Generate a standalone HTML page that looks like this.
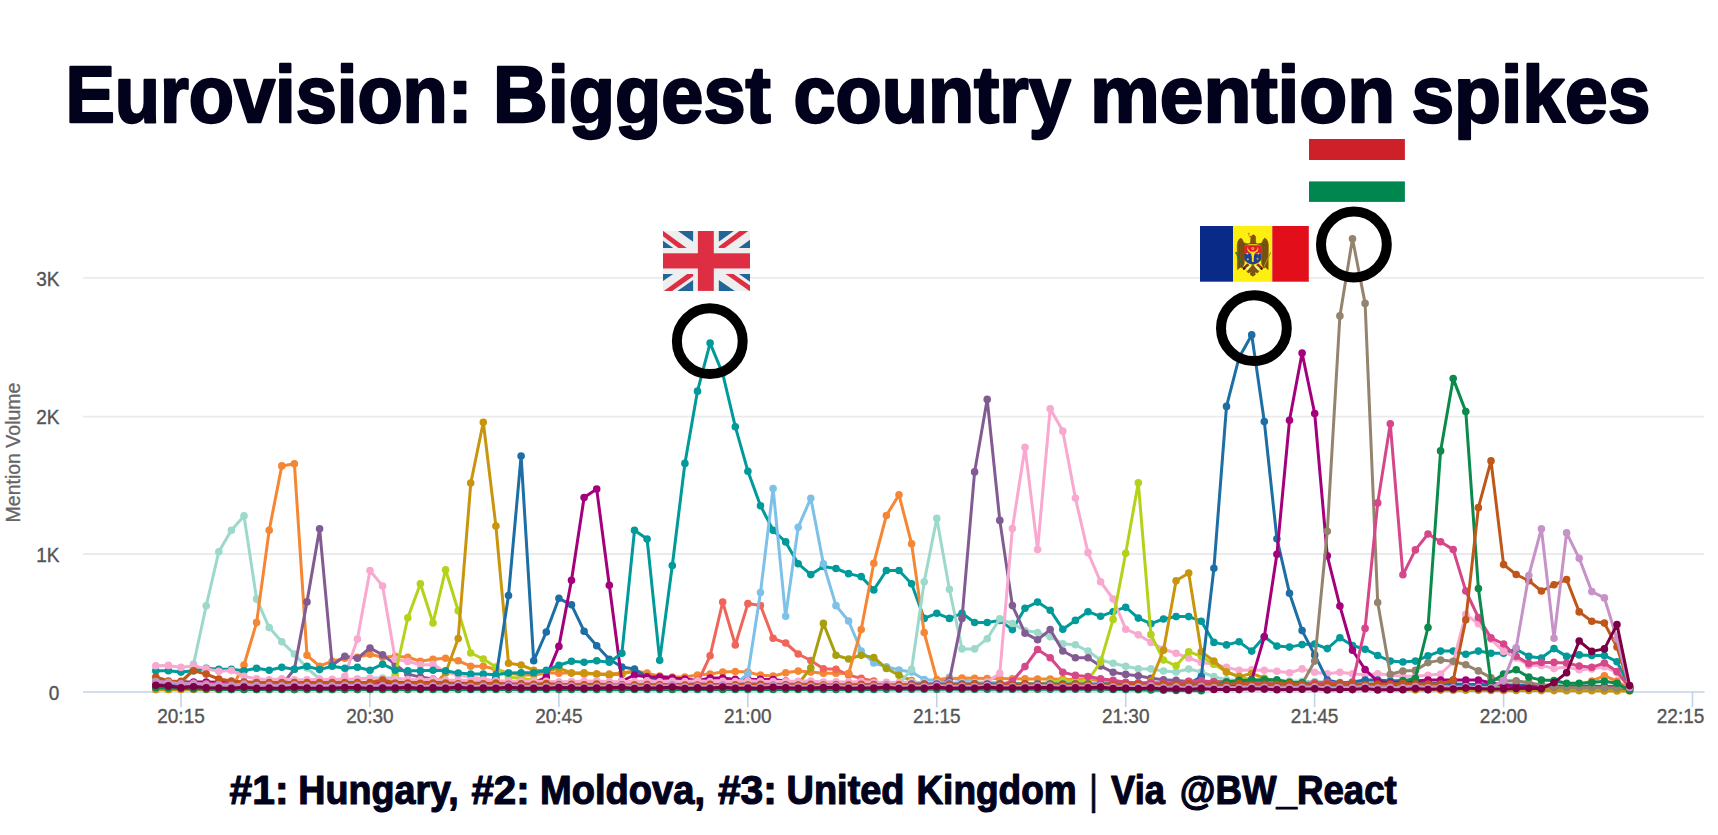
<!DOCTYPE html>
<html>
<head>
<meta charset="utf-8">
<title>Eurovision: Biggest country mention spikes</title>
<style>
html,body{margin:0;padding:0;background:#fff;}
body{width:1718px;height:835px;overflow:hidden;font-family:"Liberation Sans",sans-serif;}
svg{display:block;}
text{font-family:"Liberation Sans",sans-serif;}
</style>
</head>
<body>
<svg width="1718" height="835" viewBox="0 0 1718 835">
<rect x="0" y="0" width="1718" height="835" fill="#ffffff"/>

<!-- title -->
<text transform="translate(65.39,121.9) scale(0.9275,1)" font-size="79.8" font-weight="700" fill="#02021c" stroke="#02021c" stroke-width="2.4" stroke-linejoin="round">Eurovision:</text>
<text transform="translate(493.10,121.9) scale(0.9491,1)" font-size="79.8" font-weight="700" fill="#02021c" stroke="#02021c" stroke-width="2.4" stroke-linejoin="round">Biggest</text>
<text transform="translate(793.51,121.9) scale(0.9473,1)" font-size="79.8" font-weight="700" fill="#02021c" stroke="#02021c" stroke-width="2.4" stroke-linejoin="round">country</text>
<text transform="translate(1090.07,121.9) scale(0.9832,1)" font-size="79.8" font-weight="700" fill="#02021c" stroke="#02021c" stroke-width="2.4" stroke-linejoin="round">mention</text>
<text transform="translate(1411.38,121.9) scale(0.9620,1)" font-size="79.8" font-weight="700" fill="#02021c" stroke="#02021c" stroke-width="2.4" stroke-linejoin="round">spikes</text>

<!-- gridlines -->
<g stroke="#ebebeb" stroke-width="1.8">
<line x1="83" y1="277.9" x2="1704" y2="277.9"/>
<line x1="83" y1="416.7" x2="1704" y2="416.7"/>
<line x1="83" y1="554.0" x2="1704" y2="554.0"/>
</g>
<!-- axis -->
<g stroke="#c3d3e6" stroke-width="1.6">
<line x1="83" y1="692" x2="1704.5" y2="692"/>
<line x1="181.0" y1="692" x2="181.0" y2="707.2"/>
<line x1="369.9" y1="692" x2="369.9" y2="707.2"/>
<line x1="558.9" y1="692" x2="558.9" y2="707.2"/>
<line x1="747.8" y1="692" x2="747.8" y2="707.2"/>
<line x1="936.8" y1="692" x2="936.8" y2="707.2"/>
<line x1="1125.7" y1="692" x2="1125.7" y2="707.2"/>
<line x1="1314.6" y1="692" x2="1314.6" y2="707.2"/>
<line x1="1503.6" y1="692" x2="1503.6" y2="707.2"/>
<line x1="1692.5" y1="692" x2="1692.5" y2="707.2"/>
</g>

<!-- y labels -->
<g font-size="19" fill="#555555" stroke="#555555" stroke-width="0.35" text-anchor="end">
<text transform="translate(59.4,285.8) scale(1,1.09)">3K</text>
<text transform="translate(59.4,424.3) scale(1,1.09)">2K</text>
<text transform="translate(59.4,562.0) scale(1,1.09)">1K</text>
<text transform="translate(59.4,700.1) scale(1,1.09)">0</text>
</g>
<text transform="translate(19.5,452.5) rotate(-90)" font-size="19.5" fill="#666666" stroke="#666666" stroke-width="0.3" text-anchor="middle">Mention Volume</text>

<!-- x labels -->
<g font-size="19" fill="#555555" stroke="#555555" stroke-width="0.35" text-anchor="middle">
<text transform="translate(181.0,723.1) scale(1,1.09)">20:15</text>
<text transform="translate(369.9,723.1) scale(1,1.09)">20:30</text>
<text transform="translate(558.9,723.1) scale(1,1.09)">20:45</text>
<text transform="translate(747.8,723.1) scale(1,1.09)">21:00</text>
<text transform="translate(936.8,723.1) scale(1,1.09)">21:15</text>
<text transform="translate(1125.7,723.1) scale(1,1.09)">21:30</text>
<text transform="translate(1314.6,723.1) scale(1,1.09)">21:45</text>
<text transform="translate(1503.6,723.1) scale(1,1.09)">22:00</text>
<text transform="translate(1704.3,723.1) scale(1,1.09)" text-anchor="end">22:15</text>
</g>

<!-- series -->
<g fill="#9dd9cb" stroke="#9dd9cb">
<polyline points="155.8,688.0 168.4,688.0 181.0,688.0 193.6,664.0 206.2,605.8 218.8,551.7 231.4,530.2 244.0,515.9 256.6,599.1 269.2,627.6 281.8,641.8 294.4,654.0 307.0,668.0 319.6,679.0 332.2,682.0 344.8,680.7 357.4,679.3 370.0,678.0 382.6,678.0 395.2,678.0 407.8,679.7 420.4,681.3 433.0,683.0 445.6,683.0 458.2,683.1 470.8,683.1 483.3,683.1 495.9,683.1 508.5,683.2 521.1,683.2 533.7,683.2" fill="none" stroke-width="3" stroke-linejoin="round" stroke-linecap="round"/>
<path d="M152.0,688.0a3.8,3.8 0 1,0 7.6,0a3.8,3.8 0 1,0 -7.6,0zM164.6,688.0a3.8,3.8 0 1,0 7.6,0a3.8,3.8 0 1,0 -7.6,0zM177.2,688.0a3.8,3.8 0 1,0 7.6,0a3.8,3.8 0 1,0 -7.6,0zM189.8,664.0a3.8,3.8 0 1,0 7.6,0a3.8,3.8 0 1,0 -7.6,0zM202.4,605.8a3.8,3.8 0 1,0 7.6,0a3.8,3.8 0 1,0 -7.6,0zM215.0,551.7a3.8,3.8 0 1,0 7.6,0a3.8,3.8 0 1,0 -7.6,0zM227.6,530.2a3.8,3.8 0 1,0 7.6,0a3.8,3.8 0 1,0 -7.6,0zM240.2,515.9a3.8,3.8 0 1,0 7.6,0a3.8,3.8 0 1,0 -7.6,0zM252.8,599.1a3.8,3.8 0 1,0 7.6,0a3.8,3.8 0 1,0 -7.6,0zM265.4,627.6a3.8,3.8 0 1,0 7.6,0a3.8,3.8 0 1,0 -7.6,0zM278.0,641.8a3.8,3.8 0 1,0 7.6,0a3.8,3.8 0 1,0 -7.6,0zM290.6,654.0a3.8,3.8 0 1,0 7.6,0a3.8,3.8 0 1,0 -7.6,0zM303.2,668.0a3.8,3.8 0 1,0 7.6,0a3.8,3.8 0 1,0 -7.6,0zM315.8,679.0a3.8,3.8 0 1,0 7.6,0a3.8,3.8 0 1,0 -7.6,0zM328.4,682.0a3.8,3.8 0 1,0 7.6,0a3.8,3.8 0 1,0 -7.6,0zM341.0,680.7a3.8,3.8 0 1,0 7.6,0a3.8,3.8 0 1,0 -7.6,0zM353.6,679.3a3.8,3.8 0 1,0 7.6,0a3.8,3.8 0 1,0 -7.6,0zM366.2,678.0a3.8,3.8 0 1,0 7.6,0a3.8,3.8 0 1,0 -7.6,0zM378.8,678.0a3.8,3.8 0 1,0 7.6,0a3.8,3.8 0 1,0 -7.6,0zM391.4,678.0a3.8,3.8 0 1,0 7.6,0a3.8,3.8 0 1,0 -7.6,0zM404.0,679.7a3.8,3.8 0 1,0 7.6,0a3.8,3.8 0 1,0 -7.6,0zM416.6,681.3a3.8,3.8 0 1,0 7.6,0a3.8,3.8 0 1,0 -7.6,0zM429.2,683.0a3.8,3.8 0 1,0 7.6,0a3.8,3.8 0 1,0 -7.6,0zM441.8,683.0a3.8,3.8 0 1,0 7.6,0a3.8,3.8 0 1,0 -7.6,0zM454.4,683.1a3.8,3.8 0 1,0 7.6,0a3.8,3.8 0 1,0 -7.6,0zM466.9,683.1a3.8,3.8 0 1,0 7.6,0a3.8,3.8 0 1,0 -7.6,0zM479.5,683.1a3.8,3.8 0 1,0 7.6,0a3.8,3.8 0 1,0 -7.6,0zM492.1,683.1a3.8,3.8 0 1,0 7.6,0a3.8,3.8 0 1,0 -7.6,0zM504.7,683.2a3.8,3.8 0 1,0 7.6,0a3.8,3.8 0 1,0 -7.6,0zM517.3,683.2a3.8,3.8 0 1,0 7.6,0a3.8,3.8 0 1,0 -7.6,0zM529.9,683.2a3.8,3.8 0 1,0 7.6,0a3.8,3.8 0 1,0 -7.6,0z" stroke="none"/>
</g>
<g fill="#f58634" stroke="#f58634">
<polyline points="155.8,689.5 168.4,689.4 181.0,689.3 193.6,689.2 206.2,689.2 218.8,689.1 231.4,689.0 244.0,665.0 256.6,622.6 269.2,530.2 281.8,465.9 294.4,463.8 307.0,655.3 319.6,666.2 332.2,661.2 344.8,658.3 357.4,657.3 370.0,654.3 382.6,657.3 395.2,656.3 407.8,657.3 420.4,661.2 433.0,659.3 445.6,658.3 458.2,660.8 470.8,666.2 483.3,666.2 495.9,669.2 508.5,673.1 521.1,675.1 533.7,675.1 546.3,673.1 558.9,673.1 571.5,673.1 584.1,674.1 596.7,674.1 609.3,674.1 621.9,673.1 634.5,671.1 647.1,673.1 659.7,676.1 672.3,677.1 684.9,677.1 697.5,675.1 710.1,674.1 722.7,672.1 735.3,671.5 747.9,672.1 760.5,675.1 773.1,676.1 785.6,672.7 798.2,671.1 810.8,672.1 823.4,673.3 836.0,673.3 848.6,673.6" fill="none" stroke-width="3" stroke-linejoin="round" stroke-linecap="round"/>
<path d="M152.0,689.5a3.8,3.8 0 1,0 7.6,0a3.8,3.8 0 1,0 -7.6,0zM164.6,689.4a3.8,3.8 0 1,0 7.6,0a3.8,3.8 0 1,0 -7.6,0zM177.2,689.3a3.8,3.8 0 1,0 7.6,0a3.8,3.8 0 1,0 -7.6,0zM189.8,689.2a3.8,3.8 0 1,0 7.6,0a3.8,3.8 0 1,0 -7.6,0zM202.4,689.2a3.8,3.8 0 1,0 7.6,0a3.8,3.8 0 1,0 -7.6,0zM215.0,689.1a3.8,3.8 0 1,0 7.6,0a3.8,3.8 0 1,0 -7.6,0zM227.6,689.0a3.8,3.8 0 1,0 7.6,0a3.8,3.8 0 1,0 -7.6,0zM240.2,665.0a3.8,3.8 0 1,0 7.6,0a3.8,3.8 0 1,0 -7.6,0zM252.8,622.6a3.8,3.8 0 1,0 7.6,0a3.8,3.8 0 1,0 -7.6,0zM265.4,530.2a3.8,3.8 0 1,0 7.6,0a3.8,3.8 0 1,0 -7.6,0zM278.0,465.9a3.8,3.8 0 1,0 7.6,0a3.8,3.8 0 1,0 -7.6,0zM290.6,463.8a3.8,3.8 0 1,0 7.6,0a3.8,3.8 0 1,0 -7.6,0zM303.2,655.3a3.8,3.8 0 1,0 7.6,0a3.8,3.8 0 1,0 -7.6,0zM315.8,666.2a3.8,3.8 0 1,0 7.6,0a3.8,3.8 0 1,0 -7.6,0zM328.4,661.2a3.8,3.8 0 1,0 7.6,0a3.8,3.8 0 1,0 -7.6,0zM341.0,658.3a3.8,3.8 0 1,0 7.6,0a3.8,3.8 0 1,0 -7.6,0zM353.6,657.3a3.8,3.8 0 1,0 7.6,0a3.8,3.8 0 1,0 -7.6,0zM366.2,654.3a3.8,3.8 0 1,0 7.6,0a3.8,3.8 0 1,0 -7.6,0zM378.8,657.3a3.8,3.8 0 1,0 7.6,0a3.8,3.8 0 1,0 -7.6,0zM391.4,656.3a3.8,3.8 0 1,0 7.6,0a3.8,3.8 0 1,0 -7.6,0zM404.0,657.3a3.8,3.8 0 1,0 7.6,0a3.8,3.8 0 1,0 -7.6,0zM416.6,661.2a3.8,3.8 0 1,0 7.6,0a3.8,3.8 0 1,0 -7.6,0zM429.2,659.3a3.8,3.8 0 1,0 7.6,0a3.8,3.8 0 1,0 -7.6,0zM441.8,658.3a3.8,3.8 0 1,0 7.6,0a3.8,3.8 0 1,0 -7.6,0zM454.4,660.8a3.8,3.8 0 1,0 7.6,0a3.8,3.8 0 1,0 -7.6,0zM466.9,666.2a3.8,3.8 0 1,0 7.6,0a3.8,3.8 0 1,0 -7.6,0zM479.5,666.2a3.8,3.8 0 1,0 7.6,0a3.8,3.8 0 1,0 -7.6,0zM492.1,669.2a3.8,3.8 0 1,0 7.6,0a3.8,3.8 0 1,0 -7.6,0zM504.7,673.1a3.8,3.8 0 1,0 7.6,0a3.8,3.8 0 1,0 -7.6,0zM517.3,675.1a3.8,3.8 0 1,0 7.6,0a3.8,3.8 0 1,0 -7.6,0zM529.9,675.1a3.8,3.8 0 1,0 7.6,0a3.8,3.8 0 1,0 -7.6,0zM542.5,673.1a3.8,3.8 0 1,0 7.6,0a3.8,3.8 0 1,0 -7.6,0zM555.1,673.1a3.8,3.8 0 1,0 7.6,0a3.8,3.8 0 1,0 -7.6,0zM567.7,673.1a3.8,3.8 0 1,0 7.6,0a3.8,3.8 0 1,0 -7.6,0zM580.3,674.1a3.8,3.8 0 1,0 7.6,0a3.8,3.8 0 1,0 -7.6,0zM592.9,674.1a3.8,3.8 0 1,0 7.6,0a3.8,3.8 0 1,0 -7.6,0zM605.5,674.1a3.8,3.8 0 1,0 7.6,0a3.8,3.8 0 1,0 -7.6,0zM618.1,673.1a3.8,3.8 0 1,0 7.6,0a3.8,3.8 0 1,0 -7.6,0zM630.7,671.1a3.8,3.8 0 1,0 7.6,0a3.8,3.8 0 1,0 -7.6,0zM643.3,673.1a3.8,3.8 0 1,0 7.6,0a3.8,3.8 0 1,0 -7.6,0zM655.9,676.1a3.8,3.8 0 1,0 7.6,0a3.8,3.8 0 1,0 -7.6,0zM668.5,677.1a3.8,3.8 0 1,0 7.6,0a3.8,3.8 0 1,0 -7.6,0zM681.1,677.1a3.8,3.8 0 1,0 7.6,0a3.8,3.8 0 1,0 -7.6,0zM693.7,675.1a3.8,3.8 0 1,0 7.6,0a3.8,3.8 0 1,0 -7.6,0zM706.3,674.1a3.8,3.8 0 1,0 7.6,0a3.8,3.8 0 1,0 -7.6,0zM718.9,672.1a3.8,3.8 0 1,0 7.6,0a3.8,3.8 0 1,0 -7.6,0zM731.5,671.5a3.8,3.8 0 1,0 7.6,0a3.8,3.8 0 1,0 -7.6,0zM744.1,672.1a3.8,3.8 0 1,0 7.6,0a3.8,3.8 0 1,0 -7.6,0zM756.7,675.1a3.8,3.8 0 1,0 7.6,0a3.8,3.8 0 1,0 -7.6,0zM769.3,676.1a3.8,3.8 0 1,0 7.6,0a3.8,3.8 0 1,0 -7.6,0zM781.9,672.7a3.8,3.8 0 1,0 7.6,0a3.8,3.8 0 1,0 -7.6,0zM794.4,671.1a3.8,3.8 0 1,0 7.6,0a3.8,3.8 0 1,0 -7.6,0zM807.0,672.1a3.8,3.8 0 1,0 7.6,0a3.8,3.8 0 1,0 -7.6,0zM819.6,673.3a3.8,3.8 0 1,0 7.6,0a3.8,3.8 0 1,0 -7.6,0zM832.2,673.3a3.8,3.8 0 1,0 7.6,0a3.8,3.8 0 1,0 -7.6,0zM844.8,673.6a3.8,3.8 0 1,0 7.6,0a3.8,3.8 0 1,0 -7.6,0z" stroke="none"/>
</g>
<g fill="#835b93" stroke="#835b93">
<polyline points="155.8,683.0 168.4,683.1 181.0,683.2 193.6,683.3 206.2,683.4 218.8,683.6 231.4,683.7 244.0,683.8 256.6,683.9 269.2,684.0 281.8,685.0 294.4,669.2 307.0,601.9 319.6,528.7 332.2,665.2 344.8,656.3 357.4,658.3 370.0,648.0 382.6,654.9 395.2,664.2 407.8,674.1 420.4,677.1 433.0,679.0 445.6,682.0 458.2,682.1 470.8,682.1 483.3,682.2 495.9,682.2 508.5,682.3 521.1,682.3 533.7,682.4 546.3,682.4 558.9,682.5 571.5,682.5 584.1,682.6 596.7,682.6 609.3,682.7 621.9,682.7 634.5,682.8 647.1,682.8 659.7,682.9" fill="none" stroke-width="3" stroke-linejoin="round" stroke-linecap="round"/>
<path d="M152.0,683.0a3.8,3.8 0 1,0 7.6,0a3.8,3.8 0 1,0 -7.6,0zM164.6,683.1a3.8,3.8 0 1,0 7.6,0a3.8,3.8 0 1,0 -7.6,0zM177.2,683.2a3.8,3.8 0 1,0 7.6,0a3.8,3.8 0 1,0 -7.6,0zM189.8,683.3a3.8,3.8 0 1,0 7.6,0a3.8,3.8 0 1,0 -7.6,0zM202.4,683.4a3.8,3.8 0 1,0 7.6,0a3.8,3.8 0 1,0 -7.6,0zM215.0,683.6a3.8,3.8 0 1,0 7.6,0a3.8,3.8 0 1,0 -7.6,0zM227.6,683.7a3.8,3.8 0 1,0 7.6,0a3.8,3.8 0 1,0 -7.6,0zM240.2,683.8a3.8,3.8 0 1,0 7.6,0a3.8,3.8 0 1,0 -7.6,0zM252.8,683.9a3.8,3.8 0 1,0 7.6,0a3.8,3.8 0 1,0 -7.6,0zM265.4,684.0a3.8,3.8 0 1,0 7.6,0a3.8,3.8 0 1,0 -7.6,0zM278.0,685.0a3.8,3.8 0 1,0 7.6,0a3.8,3.8 0 1,0 -7.6,0zM290.6,669.2a3.8,3.8 0 1,0 7.6,0a3.8,3.8 0 1,0 -7.6,0zM303.2,601.9a3.8,3.8 0 1,0 7.6,0a3.8,3.8 0 1,0 -7.6,0zM315.8,528.7a3.8,3.8 0 1,0 7.6,0a3.8,3.8 0 1,0 -7.6,0zM328.4,665.2a3.8,3.8 0 1,0 7.6,0a3.8,3.8 0 1,0 -7.6,0zM341.0,656.3a3.8,3.8 0 1,0 7.6,0a3.8,3.8 0 1,0 -7.6,0zM353.6,658.3a3.8,3.8 0 1,0 7.6,0a3.8,3.8 0 1,0 -7.6,0zM366.2,648.0a3.8,3.8 0 1,0 7.6,0a3.8,3.8 0 1,0 -7.6,0zM378.8,654.9a3.8,3.8 0 1,0 7.6,0a3.8,3.8 0 1,0 -7.6,0zM391.4,664.2a3.8,3.8 0 1,0 7.6,0a3.8,3.8 0 1,0 -7.6,0zM404.0,674.1a3.8,3.8 0 1,0 7.6,0a3.8,3.8 0 1,0 -7.6,0zM416.6,677.1a3.8,3.8 0 1,0 7.6,0a3.8,3.8 0 1,0 -7.6,0zM429.2,679.0a3.8,3.8 0 1,0 7.6,0a3.8,3.8 0 1,0 -7.6,0zM441.8,682.0a3.8,3.8 0 1,0 7.6,0a3.8,3.8 0 1,0 -7.6,0zM454.4,682.1a3.8,3.8 0 1,0 7.6,0a3.8,3.8 0 1,0 -7.6,0zM466.9,682.1a3.8,3.8 0 1,0 7.6,0a3.8,3.8 0 1,0 -7.6,0zM479.5,682.2a3.8,3.8 0 1,0 7.6,0a3.8,3.8 0 1,0 -7.6,0zM492.1,682.2a3.8,3.8 0 1,0 7.6,0a3.8,3.8 0 1,0 -7.6,0zM504.7,682.3a3.8,3.8 0 1,0 7.6,0a3.8,3.8 0 1,0 -7.6,0zM517.3,682.3a3.8,3.8 0 1,0 7.6,0a3.8,3.8 0 1,0 -7.6,0zM529.9,682.4a3.8,3.8 0 1,0 7.6,0a3.8,3.8 0 1,0 -7.6,0zM542.5,682.4a3.8,3.8 0 1,0 7.6,0a3.8,3.8 0 1,0 -7.6,0zM555.1,682.5a3.8,3.8 0 1,0 7.6,0a3.8,3.8 0 1,0 -7.6,0zM567.7,682.5a3.8,3.8 0 1,0 7.6,0a3.8,3.8 0 1,0 -7.6,0zM580.3,682.6a3.8,3.8 0 1,0 7.6,0a3.8,3.8 0 1,0 -7.6,0zM592.9,682.6a3.8,3.8 0 1,0 7.6,0a3.8,3.8 0 1,0 -7.6,0zM605.5,682.7a3.8,3.8 0 1,0 7.6,0a3.8,3.8 0 1,0 -7.6,0zM618.1,682.7a3.8,3.8 0 1,0 7.6,0a3.8,3.8 0 1,0 -7.6,0zM630.7,682.8a3.8,3.8 0 1,0 7.6,0a3.8,3.8 0 1,0 -7.6,0zM643.3,682.8a3.8,3.8 0 1,0 7.6,0a3.8,3.8 0 1,0 -7.6,0zM655.9,682.9a3.8,3.8 0 1,0 7.6,0a3.8,3.8 0 1,0 -7.6,0z" stroke="none"/>
</g>
<g fill="#f9a8cf" stroke="#f9a8cf">
<polyline points="155.8,688.5 168.4,688.5 181.0,688.5 193.6,688.5 206.2,688.5 218.8,688.5 231.4,688.5 244.0,688.5 256.6,688.5 269.2,688.5 281.8,688.5 294.4,688.5 307.0,688.5 319.6,688.5 332.2,686.0 344.8,676.3 357.4,639.1 370.0,570.6 382.6,586.0 395.2,659.3 407.8,661.4 420.4,664.9 433.0,664.4 445.6,672.0 458.2,675.0 470.8,677.0 483.3,679.0 495.9,681.0 508.5,682.5 521.1,682.9 533.7,683.2 546.3,683.6 558.9,683.9 571.5,684.3 584.1,684.6 596.7,685.0 609.3,685.4 621.9,685.7 634.5,686.0 647.1,686.4 659.7,686.8 672.3,687.1 684.9,687.5 697.5,687.8 710.1,688.1 722.7,688.5 735.3,688.5 747.9,688.5 760.5,688.5 773.1,688.5 785.6,688.5 798.2,688.5 810.8,688.5 823.4,688.6 836.0,688.6 848.6,688.6 861.2,688.6 873.8,688.6 886.4,688.6 899.0,688.6 911.6,688.6 924.2,688.6 936.8,688.6 949.4,688.6 962.0,688.6 974.6,688.6 987.2,688.6 999.8,688.7 1012.4,688.7 1025.0,688.7 1037.6,688.7 1050.2,688.7 1062.8,688.7 1075.4,688.7 1088.0,688.7 1100.5,688.7 1113.1,688.7 1125.7,688.7 1138.3,688.7 1150.9,688.7 1163.5,688.7 1176.1,688.8 1188.7,688.8 1201.3,688.8 1213.9,688.8 1226.5,688.8 1239.1,688.8 1251.7,688.8 1264.3,688.8 1276.9,688.8 1289.5,688.8 1302.1,688.8 1314.7,688.8 1327.3,688.8 1339.9,688.8 1352.5,688.8 1365.1,688.9 1377.7,688.9 1390.3,688.9 1402.9,688.9 1415.4,688.9 1428.0,688.9 1440.6,688.9 1453.2,688.9 1465.8,688.9 1478.4,688.9 1491.0,688.9 1503.6,688.9 1516.2,688.9 1528.8,688.9 1541.4,689.0 1554.0,689.0 1566.6,689.0 1579.2,689.0 1591.8,689.0 1604.4,689.0 1617.0,689.0 1629.6,689.0" fill="none" stroke-width="3" stroke-linejoin="round" stroke-linecap="round"/>
<path d="M152.0,688.5a3.8,3.8 0 1,0 7.6,0a3.8,3.8 0 1,0 -7.6,0zM164.6,688.5a3.8,3.8 0 1,0 7.6,0a3.8,3.8 0 1,0 -7.6,0zM177.2,688.5a3.8,3.8 0 1,0 7.6,0a3.8,3.8 0 1,0 -7.6,0zM189.8,688.5a3.8,3.8 0 1,0 7.6,0a3.8,3.8 0 1,0 -7.6,0zM202.4,688.5a3.8,3.8 0 1,0 7.6,0a3.8,3.8 0 1,0 -7.6,0zM215.0,688.5a3.8,3.8 0 1,0 7.6,0a3.8,3.8 0 1,0 -7.6,0zM227.6,688.5a3.8,3.8 0 1,0 7.6,0a3.8,3.8 0 1,0 -7.6,0zM240.2,688.5a3.8,3.8 0 1,0 7.6,0a3.8,3.8 0 1,0 -7.6,0zM252.8,688.5a3.8,3.8 0 1,0 7.6,0a3.8,3.8 0 1,0 -7.6,0zM265.4,688.5a3.8,3.8 0 1,0 7.6,0a3.8,3.8 0 1,0 -7.6,0zM278.0,688.5a3.8,3.8 0 1,0 7.6,0a3.8,3.8 0 1,0 -7.6,0zM290.6,688.5a3.8,3.8 0 1,0 7.6,0a3.8,3.8 0 1,0 -7.6,0zM303.2,688.5a3.8,3.8 0 1,0 7.6,0a3.8,3.8 0 1,0 -7.6,0zM315.8,688.5a3.8,3.8 0 1,0 7.6,0a3.8,3.8 0 1,0 -7.6,0zM328.4,686.0a3.8,3.8 0 1,0 7.6,0a3.8,3.8 0 1,0 -7.6,0zM341.0,676.3a3.8,3.8 0 1,0 7.6,0a3.8,3.8 0 1,0 -7.6,0zM353.6,639.1a3.8,3.8 0 1,0 7.6,0a3.8,3.8 0 1,0 -7.6,0zM366.2,570.6a3.8,3.8 0 1,0 7.6,0a3.8,3.8 0 1,0 -7.6,0zM378.8,586.0a3.8,3.8 0 1,0 7.6,0a3.8,3.8 0 1,0 -7.6,0zM391.4,659.3a3.8,3.8 0 1,0 7.6,0a3.8,3.8 0 1,0 -7.6,0zM404.0,661.4a3.8,3.8 0 1,0 7.6,0a3.8,3.8 0 1,0 -7.6,0zM416.6,664.9a3.8,3.8 0 1,0 7.6,0a3.8,3.8 0 1,0 -7.6,0zM429.2,664.4a3.8,3.8 0 1,0 7.6,0a3.8,3.8 0 1,0 -7.6,0zM441.8,672.0a3.8,3.8 0 1,0 7.6,0a3.8,3.8 0 1,0 -7.6,0zM454.4,675.0a3.8,3.8 0 1,0 7.6,0a3.8,3.8 0 1,0 -7.6,0zM466.9,677.0a3.8,3.8 0 1,0 7.6,0a3.8,3.8 0 1,0 -7.6,0zM479.5,679.0a3.8,3.8 0 1,0 7.6,0a3.8,3.8 0 1,0 -7.6,0zM492.1,681.0a3.8,3.8 0 1,0 7.6,0a3.8,3.8 0 1,0 -7.6,0zM504.7,682.5a3.8,3.8 0 1,0 7.6,0a3.8,3.8 0 1,0 -7.6,0zM517.3,682.9a3.8,3.8 0 1,0 7.6,0a3.8,3.8 0 1,0 -7.6,0zM529.9,683.2a3.8,3.8 0 1,0 7.6,0a3.8,3.8 0 1,0 -7.6,0zM542.5,683.6a3.8,3.8 0 1,0 7.6,0a3.8,3.8 0 1,0 -7.6,0zM555.1,683.9a3.8,3.8 0 1,0 7.6,0a3.8,3.8 0 1,0 -7.6,0zM567.7,684.3a3.8,3.8 0 1,0 7.6,0a3.8,3.8 0 1,0 -7.6,0zM580.3,684.6a3.8,3.8 0 1,0 7.6,0a3.8,3.8 0 1,0 -7.6,0zM592.9,685.0a3.8,3.8 0 1,0 7.6,0a3.8,3.8 0 1,0 -7.6,0zM605.5,685.4a3.8,3.8 0 1,0 7.6,0a3.8,3.8 0 1,0 -7.6,0zM618.1,685.7a3.8,3.8 0 1,0 7.6,0a3.8,3.8 0 1,0 -7.6,0zM630.7,686.0a3.8,3.8 0 1,0 7.6,0a3.8,3.8 0 1,0 -7.6,0zM643.3,686.4a3.8,3.8 0 1,0 7.6,0a3.8,3.8 0 1,0 -7.6,0zM655.9,686.8a3.8,3.8 0 1,0 7.6,0a3.8,3.8 0 1,0 -7.6,0zM668.5,687.1a3.8,3.8 0 1,0 7.6,0a3.8,3.8 0 1,0 -7.6,0zM681.1,687.5a3.8,3.8 0 1,0 7.6,0a3.8,3.8 0 1,0 -7.6,0zM693.7,687.8a3.8,3.8 0 1,0 7.6,0a3.8,3.8 0 1,0 -7.6,0zM706.3,688.1a3.8,3.8 0 1,0 7.6,0a3.8,3.8 0 1,0 -7.6,0zM718.9,688.5a3.8,3.8 0 1,0 7.6,0a3.8,3.8 0 1,0 -7.6,0zM731.5,688.5a3.8,3.8 0 1,0 7.6,0a3.8,3.8 0 1,0 -7.6,0zM744.1,688.5a3.8,3.8 0 1,0 7.6,0a3.8,3.8 0 1,0 -7.6,0zM756.7,688.5a3.8,3.8 0 1,0 7.6,0a3.8,3.8 0 1,0 -7.6,0zM769.3,688.5a3.8,3.8 0 1,0 7.6,0a3.8,3.8 0 1,0 -7.6,0zM781.9,688.5a3.8,3.8 0 1,0 7.6,0a3.8,3.8 0 1,0 -7.6,0zM794.4,688.5a3.8,3.8 0 1,0 7.6,0a3.8,3.8 0 1,0 -7.6,0zM807.0,688.5a3.8,3.8 0 1,0 7.6,0a3.8,3.8 0 1,0 -7.6,0zM819.6,688.6a3.8,3.8 0 1,0 7.6,0a3.8,3.8 0 1,0 -7.6,0zM832.2,688.6a3.8,3.8 0 1,0 7.6,0a3.8,3.8 0 1,0 -7.6,0zM844.8,688.6a3.8,3.8 0 1,0 7.6,0a3.8,3.8 0 1,0 -7.6,0zM857.4,688.6a3.8,3.8 0 1,0 7.6,0a3.8,3.8 0 1,0 -7.6,0zM870.0,688.6a3.8,3.8 0 1,0 7.6,0a3.8,3.8 0 1,0 -7.6,0zM882.6,688.6a3.8,3.8 0 1,0 7.6,0a3.8,3.8 0 1,0 -7.6,0zM895.2,688.6a3.8,3.8 0 1,0 7.6,0a3.8,3.8 0 1,0 -7.6,0zM907.8,688.6a3.8,3.8 0 1,0 7.6,0a3.8,3.8 0 1,0 -7.6,0zM920.4,688.6a3.8,3.8 0 1,0 7.6,0a3.8,3.8 0 1,0 -7.6,0zM933.0,688.6a3.8,3.8 0 1,0 7.6,0a3.8,3.8 0 1,0 -7.6,0zM945.6,688.6a3.8,3.8 0 1,0 7.6,0a3.8,3.8 0 1,0 -7.6,0zM958.2,688.6a3.8,3.8 0 1,0 7.6,0a3.8,3.8 0 1,0 -7.6,0zM970.8,688.6a3.8,3.8 0 1,0 7.6,0a3.8,3.8 0 1,0 -7.6,0zM983.4,688.6a3.8,3.8 0 1,0 7.6,0a3.8,3.8 0 1,0 -7.6,0zM996.0,688.7a3.8,3.8 0 1,0 7.6,0a3.8,3.8 0 1,0 -7.6,0zM1008.6,688.7a3.8,3.8 0 1,0 7.6,0a3.8,3.8 0 1,0 -7.6,0zM1021.2,688.7a3.8,3.8 0 1,0 7.6,0a3.8,3.8 0 1,0 -7.6,0zM1033.8,688.7a3.8,3.8 0 1,0 7.6,0a3.8,3.8 0 1,0 -7.6,0zM1046.4,688.7a3.8,3.8 0 1,0 7.6,0a3.8,3.8 0 1,0 -7.6,0zM1059.0,688.7a3.8,3.8 0 1,0 7.6,0a3.8,3.8 0 1,0 -7.6,0zM1071.6,688.7a3.8,3.8 0 1,0 7.6,0a3.8,3.8 0 1,0 -7.6,0zM1084.2,688.7a3.8,3.8 0 1,0 7.6,0a3.8,3.8 0 1,0 -7.6,0zM1096.8,688.7a3.8,3.8 0 1,0 7.6,0a3.8,3.8 0 1,0 -7.6,0zM1109.3,688.7a3.8,3.8 0 1,0 7.6,0a3.8,3.8 0 1,0 -7.6,0zM1121.9,688.7a3.8,3.8 0 1,0 7.6,0a3.8,3.8 0 1,0 -7.6,0zM1134.5,688.7a3.8,3.8 0 1,0 7.6,0a3.8,3.8 0 1,0 -7.6,0zM1147.1,688.7a3.8,3.8 0 1,0 7.6,0a3.8,3.8 0 1,0 -7.6,0zM1159.7,688.7a3.8,3.8 0 1,0 7.6,0a3.8,3.8 0 1,0 -7.6,0zM1172.3,688.8a3.8,3.8 0 1,0 7.6,0a3.8,3.8 0 1,0 -7.6,0zM1184.9,688.8a3.8,3.8 0 1,0 7.6,0a3.8,3.8 0 1,0 -7.6,0zM1197.5,688.8a3.8,3.8 0 1,0 7.6,0a3.8,3.8 0 1,0 -7.6,0zM1210.1,688.8a3.8,3.8 0 1,0 7.6,0a3.8,3.8 0 1,0 -7.6,0zM1222.7,688.8a3.8,3.8 0 1,0 7.6,0a3.8,3.8 0 1,0 -7.6,0zM1235.3,688.8a3.8,3.8 0 1,0 7.6,0a3.8,3.8 0 1,0 -7.6,0zM1247.9,688.8a3.8,3.8 0 1,0 7.6,0a3.8,3.8 0 1,0 -7.6,0zM1260.5,688.8a3.8,3.8 0 1,0 7.6,0a3.8,3.8 0 1,0 -7.6,0zM1273.1,688.8a3.8,3.8 0 1,0 7.6,0a3.8,3.8 0 1,0 -7.6,0zM1285.7,688.8a3.8,3.8 0 1,0 7.6,0a3.8,3.8 0 1,0 -7.6,0zM1298.3,688.8a3.8,3.8 0 1,0 7.6,0a3.8,3.8 0 1,0 -7.6,0zM1310.9,688.8a3.8,3.8 0 1,0 7.6,0a3.8,3.8 0 1,0 -7.6,0zM1323.5,688.8a3.8,3.8 0 1,0 7.6,0a3.8,3.8 0 1,0 -7.6,0zM1336.1,688.8a3.8,3.8 0 1,0 7.6,0a3.8,3.8 0 1,0 -7.6,0zM1348.7,688.8a3.8,3.8 0 1,0 7.6,0a3.8,3.8 0 1,0 -7.6,0zM1361.3,688.9a3.8,3.8 0 1,0 7.6,0a3.8,3.8 0 1,0 -7.6,0zM1373.9,688.9a3.8,3.8 0 1,0 7.6,0a3.8,3.8 0 1,0 -7.6,0zM1386.5,688.9a3.8,3.8 0 1,0 7.6,0a3.8,3.8 0 1,0 -7.6,0zM1399.1,688.9a3.8,3.8 0 1,0 7.6,0a3.8,3.8 0 1,0 -7.6,0zM1411.6,688.9a3.8,3.8 0 1,0 7.6,0a3.8,3.8 0 1,0 -7.6,0zM1424.2,688.9a3.8,3.8 0 1,0 7.6,0a3.8,3.8 0 1,0 -7.6,0zM1436.8,688.9a3.8,3.8 0 1,0 7.6,0a3.8,3.8 0 1,0 -7.6,0zM1449.4,688.9a3.8,3.8 0 1,0 7.6,0a3.8,3.8 0 1,0 -7.6,0zM1462.0,688.9a3.8,3.8 0 1,0 7.6,0a3.8,3.8 0 1,0 -7.6,0zM1474.6,688.9a3.8,3.8 0 1,0 7.6,0a3.8,3.8 0 1,0 -7.6,0zM1487.2,688.9a3.8,3.8 0 1,0 7.6,0a3.8,3.8 0 1,0 -7.6,0zM1499.8,688.9a3.8,3.8 0 1,0 7.6,0a3.8,3.8 0 1,0 -7.6,0zM1512.4,688.9a3.8,3.8 0 1,0 7.6,0a3.8,3.8 0 1,0 -7.6,0zM1525.0,688.9a3.8,3.8 0 1,0 7.6,0a3.8,3.8 0 1,0 -7.6,0zM1537.6,689.0a3.8,3.8 0 1,0 7.6,0a3.8,3.8 0 1,0 -7.6,0zM1550.2,689.0a3.8,3.8 0 1,0 7.6,0a3.8,3.8 0 1,0 -7.6,0zM1562.8,689.0a3.8,3.8 0 1,0 7.6,0a3.8,3.8 0 1,0 -7.6,0zM1575.4,689.0a3.8,3.8 0 1,0 7.6,0a3.8,3.8 0 1,0 -7.6,0zM1588.0,689.0a3.8,3.8 0 1,0 7.6,0a3.8,3.8 0 1,0 -7.6,0zM1600.6,689.0a3.8,3.8 0 1,0 7.6,0a3.8,3.8 0 1,0 -7.6,0zM1613.2,689.0a3.8,3.8 0 1,0 7.6,0a3.8,3.8 0 1,0 -7.6,0zM1625.8,689.0a3.8,3.8 0 1,0 7.6,0a3.8,3.8 0 1,0 -7.6,0z" stroke="none"/>
</g>
<g fill="#b5d21a" stroke="#b5d21a">
<polyline points="155.8,688.0 168.4,688.0 181.0,688.0 193.6,688.0 206.2,688.0 218.8,688.0 231.4,688.0 244.0,688.0 256.6,688.0 269.2,688.0 281.8,688.0 294.4,688.0 307.0,688.0 319.6,688.0 332.2,688.0 344.8,688.0 357.4,688.0 370.0,688.0 382.6,688.0 395.2,675.0 407.8,617.7 420.4,583.7 433.0,623.0 445.6,569.7 458.2,610.8 470.8,653.0 483.3,659.0 495.9,667.0 508.5,677.3 521.1,678.3 533.7,680.2 546.3,681.7 558.9,684.0 571.5,686.5 584.1,686.4 596.7,686.4 609.3,686.3 621.9,686.2 634.5,686.2 647.1,686.1 659.7,686.0 672.3,686.0 684.9,685.9 697.5,685.8 710.1,685.8 722.7,685.7 735.3,685.6 747.9,685.6 760.5,685.5 773.1,685.4 785.6,685.4" fill="none" stroke-width="3" stroke-linejoin="round" stroke-linecap="round"/>
<path d="M152.0,688.0a3.8,3.8 0 1,0 7.6,0a3.8,3.8 0 1,0 -7.6,0zM164.6,688.0a3.8,3.8 0 1,0 7.6,0a3.8,3.8 0 1,0 -7.6,0zM177.2,688.0a3.8,3.8 0 1,0 7.6,0a3.8,3.8 0 1,0 -7.6,0zM189.8,688.0a3.8,3.8 0 1,0 7.6,0a3.8,3.8 0 1,0 -7.6,0zM202.4,688.0a3.8,3.8 0 1,0 7.6,0a3.8,3.8 0 1,0 -7.6,0zM215.0,688.0a3.8,3.8 0 1,0 7.6,0a3.8,3.8 0 1,0 -7.6,0zM227.6,688.0a3.8,3.8 0 1,0 7.6,0a3.8,3.8 0 1,0 -7.6,0zM240.2,688.0a3.8,3.8 0 1,0 7.6,0a3.8,3.8 0 1,0 -7.6,0zM252.8,688.0a3.8,3.8 0 1,0 7.6,0a3.8,3.8 0 1,0 -7.6,0zM265.4,688.0a3.8,3.8 0 1,0 7.6,0a3.8,3.8 0 1,0 -7.6,0zM278.0,688.0a3.8,3.8 0 1,0 7.6,0a3.8,3.8 0 1,0 -7.6,0zM290.6,688.0a3.8,3.8 0 1,0 7.6,0a3.8,3.8 0 1,0 -7.6,0zM303.2,688.0a3.8,3.8 0 1,0 7.6,0a3.8,3.8 0 1,0 -7.6,0zM315.8,688.0a3.8,3.8 0 1,0 7.6,0a3.8,3.8 0 1,0 -7.6,0zM328.4,688.0a3.8,3.8 0 1,0 7.6,0a3.8,3.8 0 1,0 -7.6,0zM341.0,688.0a3.8,3.8 0 1,0 7.6,0a3.8,3.8 0 1,0 -7.6,0zM353.6,688.0a3.8,3.8 0 1,0 7.6,0a3.8,3.8 0 1,0 -7.6,0zM366.2,688.0a3.8,3.8 0 1,0 7.6,0a3.8,3.8 0 1,0 -7.6,0zM378.8,688.0a3.8,3.8 0 1,0 7.6,0a3.8,3.8 0 1,0 -7.6,0zM391.4,675.0a3.8,3.8 0 1,0 7.6,0a3.8,3.8 0 1,0 -7.6,0zM404.0,617.7a3.8,3.8 0 1,0 7.6,0a3.8,3.8 0 1,0 -7.6,0zM416.6,583.7a3.8,3.8 0 1,0 7.6,0a3.8,3.8 0 1,0 -7.6,0zM429.2,623.0a3.8,3.8 0 1,0 7.6,0a3.8,3.8 0 1,0 -7.6,0zM441.8,569.7a3.8,3.8 0 1,0 7.6,0a3.8,3.8 0 1,0 -7.6,0zM454.4,610.8a3.8,3.8 0 1,0 7.6,0a3.8,3.8 0 1,0 -7.6,0zM466.9,653.0a3.8,3.8 0 1,0 7.6,0a3.8,3.8 0 1,0 -7.6,0zM479.5,659.0a3.8,3.8 0 1,0 7.6,0a3.8,3.8 0 1,0 -7.6,0zM492.1,667.0a3.8,3.8 0 1,0 7.6,0a3.8,3.8 0 1,0 -7.6,0zM504.7,677.3a3.8,3.8 0 1,0 7.6,0a3.8,3.8 0 1,0 -7.6,0zM517.3,678.3a3.8,3.8 0 1,0 7.6,0a3.8,3.8 0 1,0 -7.6,0zM529.9,680.2a3.8,3.8 0 1,0 7.6,0a3.8,3.8 0 1,0 -7.6,0zM542.5,681.7a3.8,3.8 0 1,0 7.6,0a3.8,3.8 0 1,0 -7.6,0zM555.1,684.0a3.8,3.8 0 1,0 7.6,0a3.8,3.8 0 1,0 -7.6,0zM567.7,686.5a3.8,3.8 0 1,0 7.6,0a3.8,3.8 0 1,0 -7.6,0zM580.3,686.4a3.8,3.8 0 1,0 7.6,0a3.8,3.8 0 1,0 -7.6,0zM592.9,686.4a3.8,3.8 0 1,0 7.6,0a3.8,3.8 0 1,0 -7.6,0zM605.5,686.3a3.8,3.8 0 1,0 7.6,0a3.8,3.8 0 1,0 -7.6,0zM618.1,686.2a3.8,3.8 0 1,0 7.6,0a3.8,3.8 0 1,0 -7.6,0zM630.7,686.2a3.8,3.8 0 1,0 7.6,0a3.8,3.8 0 1,0 -7.6,0zM643.3,686.1a3.8,3.8 0 1,0 7.6,0a3.8,3.8 0 1,0 -7.6,0zM655.9,686.0a3.8,3.8 0 1,0 7.6,0a3.8,3.8 0 1,0 -7.6,0zM668.5,686.0a3.8,3.8 0 1,0 7.6,0a3.8,3.8 0 1,0 -7.6,0zM681.1,685.9a3.8,3.8 0 1,0 7.6,0a3.8,3.8 0 1,0 -7.6,0zM693.7,685.8a3.8,3.8 0 1,0 7.6,0a3.8,3.8 0 1,0 -7.6,0zM706.3,685.8a3.8,3.8 0 1,0 7.6,0a3.8,3.8 0 1,0 -7.6,0zM718.9,685.7a3.8,3.8 0 1,0 7.6,0a3.8,3.8 0 1,0 -7.6,0zM731.5,685.6a3.8,3.8 0 1,0 7.6,0a3.8,3.8 0 1,0 -7.6,0zM744.1,685.6a3.8,3.8 0 1,0 7.6,0a3.8,3.8 0 1,0 -7.6,0zM756.7,685.5a3.8,3.8 0 1,0 7.6,0a3.8,3.8 0 1,0 -7.6,0zM769.3,685.4a3.8,3.8 0 1,0 7.6,0a3.8,3.8 0 1,0 -7.6,0zM781.9,685.4a3.8,3.8 0 1,0 7.6,0a3.8,3.8 0 1,0 -7.6,0z" stroke="none"/>
</g>
<g fill="#c9950c" stroke="#c9950c">
<polyline points="155.8,689.5 168.4,689.5 181.0,689.5 193.6,689.5 206.2,689.5 218.8,689.5 231.4,689.5 244.0,689.5 256.6,689.5 269.2,689.5 281.8,689.5 294.4,689.5 307.0,689.5 319.6,689.5 332.2,689.5 344.8,689.5 357.4,689.5 370.0,689.5 382.6,689.5 395.2,689.5 407.8,689.5 420.4,689.5 433.0,686.0 445.6,673.0 458.2,638.5 470.8,483.0 483.3,422.2 495.9,526.1 508.5,663.2 521.1,665.0 533.7,670.2 546.3,671.1 558.9,668.2 571.5,673.0 584.1,672.7 596.7,674.1 609.3,675.1 621.9,674.1 634.5,671.1 647.1,676.0 659.7,679.0 672.3,681.0 684.9,684.0 697.5,684.1 710.1,684.1 722.7,684.2 735.3,684.2 747.9,684.3 760.5,684.3 773.1,684.4 785.6,684.4 798.2,684.5 810.8,684.6 823.4,684.6 836.0,684.7 848.6,684.7 861.2,684.8 873.8,684.8 886.4,684.9 899.0,684.9 911.6,685.0" fill="none" stroke-width="3" stroke-linejoin="round" stroke-linecap="round"/>
<path d="M152.0,689.5a3.8,3.8 0 1,0 7.6,0a3.8,3.8 0 1,0 -7.6,0zM164.6,689.5a3.8,3.8 0 1,0 7.6,0a3.8,3.8 0 1,0 -7.6,0zM177.2,689.5a3.8,3.8 0 1,0 7.6,0a3.8,3.8 0 1,0 -7.6,0zM189.8,689.5a3.8,3.8 0 1,0 7.6,0a3.8,3.8 0 1,0 -7.6,0zM202.4,689.5a3.8,3.8 0 1,0 7.6,0a3.8,3.8 0 1,0 -7.6,0zM215.0,689.5a3.8,3.8 0 1,0 7.6,0a3.8,3.8 0 1,0 -7.6,0zM227.6,689.5a3.8,3.8 0 1,0 7.6,0a3.8,3.8 0 1,0 -7.6,0zM240.2,689.5a3.8,3.8 0 1,0 7.6,0a3.8,3.8 0 1,0 -7.6,0zM252.8,689.5a3.8,3.8 0 1,0 7.6,0a3.8,3.8 0 1,0 -7.6,0zM265.4,689.5a3.8,3.8 0 1,0 7.6,0a3.8,3.8 0 1,0 -7.6,0zM278.0,689.5a3.8,3.8 0 1,0 7.6,0a3.8,3.8 0 1,0 -7.6,0zM290.6,689.5a3.8,3.8 0 1,0 7.6,0a3.8,3.8 0 1,0 -7.6,0zM303.2,689.5a3.8,3.8 0 1,0 7.6,0a3.8,3.8 0 1,0 -7.6,0zM315.8,689.5a3.8,3.8 0 1,0 7.6,0a3.8,3.8 0 1,0 -7.6,0zM328.4,689.5a3.8,3.8 0 1,0 7.6,0a3.8,3.8 0 1,0 -7.6,0zM341.0,689.5a3.8,3.8 0 1,0 7.6,0a3.8,3.8 0 1,0 -7.6,0zM353.6,689.5a3.8,3.8 0 1,0 7.6,0a3.8,3.8 0 1,0 -7.6,0zM366.2,689.5a3.8,3.8 0 1,0 7.6,0a3.8,3.8 0 1,0 -7.6,0zM378.8,689.5a3.8,3.8 0 1,0 7.6,0a3.8,3.8 0 1,0 -7.6,0zM391.4,689.5a3.8,3.8 0 1,0 7.6,0a3.8,3.8 0 1,0 -7.6,0zM404.0,689.5a3.8,3.8 0 1,0 7.6,0a3.8,3.8 0 1,0 -7.6,0zM416.6,689.5a3.8,3.8 0 1,0 7.6,0a3.8,3.8 0 1,0 -7.6,0zM429.2,686.0a3.8,3.8 0 1,0 7.6,0a3.8,3.8 0 1,0 -7.6,0zM441.8,673.0a3.8,3.8 0 1,0 7.6,0a3.8,3.8 0 1,0 -7.6,0zM454.4,638.5a3.8,3.8 0 1,0 7.6,0a3.8,3.8 0 1,0 -7.6,0zM466.9,483.0a3.8,3.8 0 1,0 7.6,0a3.8,3.8 0 1,0 -7.6,0zM479.5,422.2a3.8,3.8 0 1,0 7.6,0a3.8,3.8 0 1,0 -7.6,0zM492.1,526.1a3.8,3.8 0 1,0 7.6,0a3.8,3.8 0 1,0 -7.6,0zM504.7,663.2a3.8,3.8 0 1,0 7.6,0a3.8,3.8 0 1,0 -7.6,0zM517.3,665.0a3.8,3.8 0 1,0 7.6,0a3.8,3.8 0 1,0 -7.6,0zM529.9,670.2a3.8,3.8 0 1,0 7.6,0a3.8,3.8 0 1,0 -7.6,0zM542.5,671.1a3.8,3.8 0 1,0 7.6,0a3.8,3.8 0 1,0 -7.6,0zM555.1,668.2a3.8,3.8 0 1,0 7.6,0a3.8,3.8 0 1,0 -7.6,0zM567.7,673.0a3.8,3.8 0 1,0 7.6,0a3.8,3.8 0 1,0 -7.6,0zM580.3,672.7a3.8,3.8 0 1,0 7.6,0a3.8,3.8 0 1,0 -7.6,0zM592.9,674.1a3.8,3.8 0 1,0 7.6,0a3.8,3.8 0 1,0 -7.6,0zM605.5,675.1a3.8,3.8 0 1,0 7.6,0a3.8,3.8 0 1,0 -7.6,0zM618.1,674.1a3.8,3.8 0 1,0 7.6,0a3.8,3.8 0 1,0 -7.6,0zM630.7,671.1a3.8,3.8 0 1,0 7.6,0a3.8,3.8 0 1,0 -7.6,0zM643.3,676.0a3.8,3.8 0 1,0 7.6,0a3.8,3.8 0 1,0 -7.6,0zM655.9,679.0a3.8,3.8 0 1,0 7.6,0a3.8,3.8 0 1,0 -7.6,0zM668.5,681.0a3.8,3.8 0 1,0 7.6,0a3.8,3.8 0 1,0 -7.6,0zM681.1,684.0a3.8,3.8 0 1,0 7.6,0a3.8,3.8 0 1,0 -7.6,0zM693.7,684.1a3.8,3.8 0 1,0 7.6,0a3.8,3.8 0 1,0 -7.6,0zM706.3,684.1a3.8,3.8 0 1,0 7.6,0a3.8,3.8 0 1,0 -7.6,0zM718.9,684.2a3.8,3.8 0 1,0 7.6,0a3.8,3.8 0 1,0 -7.6,0zM731.5,684.2a3.8,3.8 0 1,0 7.6,0a3.8,3.8 0 1,0 -7.6,0zM744.1,684.3a3.8,3.8 0 1,0 7.6,0a3.8,3.8 0 1,0 -7.6,0zM756.7,684.3a3.8,3.8 0 1,0 7.6,0a3.8,3.8 0 1,0 -7.6,0zM769.3,684.4a3.8,3.8 0 1,0 7.6,0a3.8,3.8 0 1,0 -7.6,0zM781.9,684.4a3.8,3.8 0 1,0 7.6,0a3.8,3.8 0 1,0 -7.6,0zM794.4,684.5a3.8,3.8 0 1,0 7.6,0a3.8,3.8 0 1,0 -7.6,0zM807.0,684.6a3.8,3.8 0 1,0 7.6,0a3.8,3.8 0 1,0 -7.6,0zM819.6,684.6a3.8,3.8 0 1,0 7.6,0a3.8,3.8 0 1,0 -7.6,0zM832.2,684.7a3.8,3.8 0 1,0 7.6,0a3.8,3.8 0 1,0 -7.6,0zM844.8,684.7a3.8,3.8 0 1,0 7.6,0a3.8,3.8 0 1,0 -7.6,0zM857.4,684.8a3.8,3.8 0 1,0 7.6,0a3.8,3.8 0 1,0 -7.6,0zM870.0,684.8a3.8,3.8 0 1,0 7.6,0a3.8,3.8 0 1,0 -7.6,0zM882.6,684.9a3.8,3.8 0 1,0 7.6,0a3.8,3.8 0 1,0 -7.6,0zM895.2,684.9a3.8,3.8 0 1,0 7.6,0a3.8,3.8 0 1,0 -7.6,0zM907.8,685.0a3.8,3.8 0 1,0 7.6,0a3.8,3.8 0 1,0 -7.6,0z" stroke="none"/>
</g>
<g fill="#1c6ea4" stroke="#1c6ea4">
<polyline points="155.8,685.0 168.4,685.0 181.0,685.1 193.6,685.1 206.2,685.2 218.8,685.2 231.4,685.2 244.0,685.3 256.6,685.3 269.2,685.3 281.8,685.4 294.4,685.4 307.0,685.5 319.6,685.5 332.2,685.5 344.8,685.6 357.4,685.6 370.0,685.7 382.6,685.7 395.2,685.7 407.8,685.8 420.4,685.8 433.0,685.8 445.6,685.9 458.2,685.9 470.8,686.0 483.3,686.0 495.9,678.0 508.5,595.5 521.1,456.0 533.7,660.8 546.3,632.0 558.9,598.3 571.5,604.8 584.1,631.2 596.7,645.8 609.3,659.3 621.9,667.0 634.5,669.0 647.1,677.0 659.7,680.0 672.3,682.0 684.9,684.0 697.5,684.0 710.1,684.0 722.7,684.0 735.3,684.0 747.9,684.0 760.5,684.0 773.1,684.0 785.6,684.0 798.2,684.0 810.8,684.0 823.4,684.0 836.0,684.0 848.6,684.0 861.2,684.0 873.8,684.0 886.4,684.0 899.0,684.0 911.6,684.0" fill="none" stroke-width="3" stroke-linejoin="round" stroke-linecap="round"/>
<path d="M152.0,685.0a3.8,3.8 0 1,0 7.6,0a3.8,3.8 0 1,0 -7.6,0zM164.6,685.0a3.8,3.8 0 1,0 7.6,0a3.8,3.8 0 1,0 -7.6,0zM177.2,685.1a3.8,3.8 0 1,0 7.6,0a3.8,3.8 0 1,0 -7.6,0zM189.8,685.1a3.8,3.8 0 1,0 7.6,0a3.8,3.8 0 1,0 -7.6,0zM202.4,685.2a3.8,3.8 0 1,0 7.6,0a3.8,3.8 0 1,0 -7.6,0zM215.0,685.2a3.8,3.8 0 1,0 7.6,0a3.8,3.8 0 1,0 -7.6,0zM227.6,685.2a3.8,3.8 0 1,0 7.6,0a3.8,3.8 0 1,0 -7.6,0zM240.2,685.3a3.8,3.8 0 1,0 7.6,0a3.8,3.8 0 1,0 -7.6,0zM252.8,685.3a3.8,3.8 0 1,0 7.6,0a3.8,3.8 0 1,0 -7.6,0zM265.4,685.3a3.8,3.8 0 1,0 7.6,0a3.8,3.8 0 1,0 -7.6,0zM278.0,685.4a3.8,3.8 0 1,0 7.6,0a3.8,3.8 0 1,0 -7.6,0zM290.6,685.4a3.8,3.8 0 1,0 7.6,0a3.8,3.8 0 1,0 -7.6,0zM303.2,685.5a3.8,3.8 0 1,0 7.6,0a3.8,3.8 0 1,0 -7.6,0zM315.8,685.5a3.8,3.8 0 1,0 7.6,0a3.8,3.8 0 1,0 -7.6,0zM328.4,685.5a3.8,3.8 0 1,0 7.6,0a3.8,3.8 0 1,0 -7.6,0zM341.0,685.6a3.8,3.8 0 1,0 7.6,0a3.8,3.8 0 1,0 -7.6,0zM353.6,685.6a3.8,3.8 0 1,0 7.6,0a3.8,3.8 0 1,0 -7.6,0zM366.2,685.7a3.8,3.8 0 1,0 7.6,0a3.8,3.8 0 1,0 -7.6,0zM378.8,685.7a3.8,3.8 0 1,0 7.6,0a3.8,3.8 0 1,0 -7.6,0zM391.4,685.7a3.8,3.8 0 1,0 7.6,0a3.8,3.8 0 1,0 -7.6,0zM404.0,685.8a3.8,3.8 0 1,0 7.6,0a3.8,3.8 0 1,0 -7.6,0zM416.6,685.8a3.8,3.8 0 1,0 7.6,0a3.8,3.8 0 1,0 -7.6,0zM429.2,685.8a3.8,3.8 0 1,0 7.6,0a3.8,3.8 0 1,0 -7.6,0zM441.8,685.9a3.8,3.8 0 1,0 7.6,0a3.8,3.8 0 1,0 -7.6,0zM454.4,685.9a3.8,3.8 0 1,0 7.6,0a3.8,3.8 0 1,0 -7.6,0zM466.9,686.0a3.8,3.8 0 1,0 7.6,0a3.8,3.8 0 1,0 -7.6,0zM479.5,686.0a3.8,3.8 0 1,0 7.6,0a3.8,3.8 0 1,0 -7.6,0zM492.1,678.0a3.8,3.8 0 1,0 7.6,0a3.8,3.8 0 1,0 -7.6,0zM504.7,595.5a3.8,3.8 0 1,0 7.6,0a3.8,3.8 0 1,0 -7.6,0zM517.3,456.0a3.8,3.8 0 1,0 7.6,0a3.8,3.8 0 1,0 -7.6,0zM529.9,660.8a3.8,3.8 0 1,0 7.6,0a3.8,3.8 0 1,0 -7.6,0zM542.5,632.0a3.8,3.8 0 1,0 7.6,0a3.8,3.8 0 1,0 -7.6,0zM555.1,598.3a3.8,3.8 0 1,0 7.6,0a3.8,3.8 0 1,0 -7.6,0zM567.7,604.8a3.8,3.8 0 1,0 7.6,0a3.8,3.8 0 1,0 -7.6,0zM580.3,631.2a3.8,3.8 0 1,0 7.6,0a3.8,3.8 0 1,0 -7.6,0zM592.9,645.8a3.8,3.8 0 1,0 7.6,0a3.8,3.8 0 1,0 -7.6,0zM605.5,659.3a3.8,3.8 0 1,0 7.6,0a3.8,3.8 0 1,0 -7.6,0zM618.1,667.0a3.8,3.8 0 1,0 7.6,0a3.8,3.8 0 1,0 -7.6,0zM630.7,669.0a3.8,3.8 0 1,0 7.6,0a3.8,3.8 0 1,0 -7.6,0zM643.3,677.0a3.8,3.8 0 1,0 7.6,0a3.8,3.8 0 1,0 -7.6,0zM655.9,680.0a3.8,3.8 0 1,0 7.6,0a3.8,3.8 0 1,0 -7.6,0zM668.5,682.0a3.8,3.8 0 1,0 7.6,0a3.8,3.8 0 1,0 -7.6,0zM681.1,684.0a3.8,3.8 0 1,0 7.6,0a3.8,3.8 0 1,0 -7.6,0zM693.7,684.0a3.8,3.8 0 1,0 7.6,0a3.8,3.8 0 1,0 -7.6,0zM706.3,684.0a3.8,3.8 0 1,0 7.6,0a3.8,3.8 0 1,0 -7.6,0zM718.9,684.0a3.8,3.8 0 1,0 7.6,0a3.8,3.8 0 1,0 -7.6,0zM731.5,684.0a3.8,3.8 0 1,0 7.6,0a3.8,3.8 0 1,0 -7.6,0zM744.1,684.0a3.8,3.8 0 1,0 7.6,0a3.8,3.8 0 1,0 -7.6,0zM756.7,684.0a3.8,3.8 0 1,0 7.6,0a3.8,3.8 0 1,0 -7.6,0zM769.3,684.0a3.8,3.8 0 1,0 7.6,0a3.8,3.8 0 1,0 -7.6,0zM781.9,684.0a3.8,3.8 0 1,0 7.6,0a3.8,3.8 0 1,0 -7.6,0zM794.4,684.0a3.8,3.8 0 1,0 7.6,0a3.8,3.8 0 1,0 -7.6,0zM807.0,684.0a3.8,3.8 0 1,0 7.6,0a3.8,3.8 0 1,0 -7.6,0zM819.6,684.0a3.8,3.8 0 1,0 7.6,0a3.8,3.8 0 1,0 -7.6,0zM832.2,684.0a3.8,3.8 0 1,0 7.6,0a3.8,3.8 0 1,0 -7.6,0zM844.8,684.0a3.8,3.8 0 1,0 7.6,0a3.8,3.8 0 1,0 -7.6,0zM857.4,684.0a3.8,3.8 0 1,0 7.6,0a3.8,3.8 0 1,0 -7.6,0zM870.0,684.0a3.8,3.8 0 1,0 7.6,0a3.8,3.8 0 1,0 -7.6,0zM882.6,684.0a3.8,3.8 0 1,0 7.6,0a3.8,3.8 0 1,0 -7.6,0zM895.2,684.0a3.8,3.8 0 1,0 7.6,0a3.8,3.8 0 1,0 -7.6,0zM907.8,684.0a3.8,3.8 0 1,0 7.6,0a3.8,3.8 0 1,0 -7.6,0z" stroke="none"/>
</g>
<g fill="#a4007c" stroke="#a4007c">
<polyline points="155.8,682.0 168.4,682.0 181.0,682.1 193.6,682.1 206.2,682.1 218.8,682.2 231.4,682.2 244.0,682.2 256.6,682.3 269.2,682.3 281.8,682.3 294.4,682.4 307.0,682.4 319.6,682.4 332.2,682.5 344.8,682.5 357.4,682.5 370.0,682.6 382.6,682.6 395.2,682.6 407.8,682.7 420.4,682.7 433.0,682.7 445.6,682.8 458.2,682.8 470.8,682.8 483.3,682.9 495.9,682.9 508.5,682.9 521.1,683.0 533.7,683.0 546.3,677.0 558.9,646.4 571.5,580.2 584.1,497.6 596.7,489.1 609.3,585.2 621.9,681.0 634.5,675.0 647.1,677.0 659.7,677.0 672.3,678.0 684.9,679.0 697.5,680.6 710.1,678.0 722.7,678.0 735.3,679.4 747.9,679.4 760.5,679.4 773.1,679.6 785.6,681.0 798.2,683.0 810.8,685.0 823.4,685.0 836.0,685.0 848.6,685.0 861.2,685.0 873.8,685.0 886.4,685.0 899.0,685.0 911.6,685.0" fill="none" stroke-width="3" stroke-linejoin="round" stroke-linecap="round"/>
<path d="M152.0,682.0a3.8,3.8 0 1,0 7.6,0a3.8,3.8 0 1,0 -7.6,0zM164.6,682.0a3.8,3.8 0 1,0 7.6,0a3.8,3.8 0 1,0 -7.6,0zM177.2,682.1a3.8,3.8 0 1,0 7.6,0a3.8,3.8 0 1,0 -7.6,0zM189.8,682.1a3.8,3.8 0 1,0 7.6,0a3.8,3.8 0 1,0 -7.6,0zM202.4,682.1a3.8,3.8 0 1,0 7.6,0a3.8,3.8 0 1,0 -7.6,0zM215.0,682.2a3.8,3.8 0 1,0 7.6,0a3.8,3.8 0 1,0 -7.6,0zM227.6,682.2a3.8,3.8 0 1,0 7.6,0a3.8,3.8 0 1,0 -7.6,0zM240.2,682.2a3.8,3.8 0 1,0 7.6,0a3.8,3.8 0 1,0 -7.6,0zM252.8,682.3a3.8,3.8 0 1,0 7.6,0a3.8,3.8 0 1,0 -7.6,0zM265.4,682.3a3.8,3.8 0 1,0 7.6,0a3.8,3.8 0 1,0 -7.6,0zM278.0,682.3a3.8,3.8 0 1,0 7.6,0a3.8,3.8 0 1,0 -7.6,0zM290.6,682.4a3.8,3.8 0 1,0 7.6,0a3.8,3.8 0 1,0 -7.6,0zM303.2,682.4a3.8,3.8 0 1,0 7.6,0a3.8,3.8 0 1,0 -7.6,0zM315.8,682.4a3.8,3.8 0 1,0 7.6,0a3.8,3.8 0 1,0 -7.6,0zM328.4,682.5a3.8,3.8 0 1,0 7.6,0a3.8,3.8 0 1,0 -7.6,0zM341.0,682.5a3.8,3.8 0 1,0 7.6,0a3.8,3.8 0 1,0 -7.6,0zM353.6,682.5a3.8,3.8 0 1,0 7.6,0a3.8,3.8 0 1,0 -7.6,0zM366.2,682.6a3.8,3.8 0 1,0 7.6,0a3.8,3.8 0 1,0 -7.6,0zM378.8,682.6a3.8,3.8 0 1,0 7.6,0a3.8,3.8 0 1,0 -7.6,0zM391.4,682.6a3.8,3.8 0 1,0 7.6,0a3.8,3.8 0 1,0 -7.6,0zM404.0,682.7a3.8,3.8 0 1,0 7.6,0a3.8,3.8 0 1,0 -7.6,0zM416.6,682.7a3.8,3.8 0 1,0 7.6,0a3.8,3.8 0 1,0 -7.6,0zM429.2,682.7a3.8,3.8 0 1,0 7.6,0a3.8,3.8 0 1,0 -7.6,0zM441.8,682.8a3.8,3.8 0 1,0 7.6,0a3.8,3.8 0 1,0 -7.6,0zM454.4,682.8a3.8,3.8 0 1,0 7.6,0a3.8,3.8 0 1,0 -7.6,0zM466.9,682.8a3.8,3.8 0 1,0 7.6,0a3.8,3.8 0 1,0 -7.6,0zM479.5,682.9a3.8,3.8 0 1,0 7.6,0a3.8,3.8 0 1,0 -7.6,0zM492.1,682.9a3.8,3.8 0 1,0 7.6,0a3.8,3.8 0 1,0 -7.6,0zM504.7,682.9a3.8,3.8 0 1,0 7.6,0a3.8,3.8 0 1,0 -7.6,0zM517.3,683.0a3.8,3.8 0 1,0 7.6,0a3.8,3.8 0 1,0 -7.6,0zM529.9,683.0a3.8,3.8 0 1,0 7.6,0a3.8,3.8 0 1,0 -7.6,0zM542.5,677.0a3.8,3.8 0 1,0 7.6,0a3.8,3.8 0 1,0 -7.6,0zM555.1,646.4a3.8,3.8 0 1,0 7.6,0a3.8,3.8 0 1,0 -7.6,0zM567.7,580.2a3.8,3.8 0 1,0 7.6,0a3.8,3.8 0 1,0 -7.6,0zM580.3,497.6a3.8,3.8 0 1,0 7.6,0a3.8,3.8 0 1,0 -7.6,0zM592.9,489.1a3.8,3.8 0 1,0 7.6,0a3.8,3.8 0 1,0 -7.6,0zM605.5,585.2a3.8,3.8 0 1,0 7.6,0a3.8,3.8 0 1,0 -7.6,0zM618.1,681.0a3.8,3.8 0 1,0 7.6,0a3.8,3.8 0 1,0 -7.6,0zM630.7,675.0a3.8,3.8 0 1,0 7.6,0a3.8,3.8 0 1,0 -7.6,0zM643.3,677.0a3.8,3.8 0 1,0 7.6,0a3.8,3.8 0 1,0 -7.6,0zM655.9,677.0a3.8,3.8 0 1,0 7.6,0a3.8,3.8 0 1,0 -7.6,0zM668.5,678.0a3.8,3.8 0 1,0 7.6,0a3.8,3.8 0 1,0 -7.6,0zM681.1,679.0a3.8,3.8 0 1,0 7.6,0a3.8,3.8 0 1,0 -7.6,0zM693.7,680.6a3.8,3.8 0 1,0 7.6,0a3.8,3.8 0 1,0 -7.6,0zM706.3,678.0a3.8,3.8 0 1,0 7.6,0a3.8,3.8 0 1,0 -7.6,0zM718.9,678.0a3.8,3.8 0 1,0 7.6,0a3.8,3.8 0 1,0 -7.6,0zM731.5,679.4a3.8,3.8 0 1,0 7.6,0a3.8,3.8 0 1,0 -7.6,0zM744.1,679.4a3.8,3.8 0 1,0 7.6,0a3.8,3.8 0 1,0 -7.6,0zM756.7,679.4a3.8,3.8 0 1,0 7.6,0a3.8,3.8 0 1,0 -7.6,0zM769.3,679.6a3.8,3.8 0 1,0 7.6,0a3.8,3.8 0 1,0 -7.6,0zM781.9,681.0a3.8,3.8 0 1,0 7.6,0a3.8,3.8 0 1,0 -7.6,0zM794.4,683.0a3.8,3.8 0 1,0 7.6,0a3.8,3.8 0 1,0 -7.6,0zM807.0,685.0a3.8,3.8 0 1,0 7.6,0a3.8,3.8 0 1,0 -7.6,0zM819.6,685.0a3.8,3.8 0 1,0 7.6,0a3.8,3.8 0 1,0 -7.6,0zM832.2,685.0a3.8,3.8 0 1,0 7.6,0a3.8,3.8 0 1,0 -7.6,0zM844.8,685.0a3.8,3.8 0 1,0 7.6,0a3.8,3.8 0 1,0 -7.6,0zM857.4,685.0a3.8,3.8 0 1,0 7.6,0a3.8,3.8 0 1,0 -7.6,0zM870.0,685.0a3.8,3.8 0 1,0 7.6,0a3.8,3.8 0 1,0 -7.6,0zM882.6,685.0a3.8,3.8 0 1,0 7.6,0a3.8,3.8 0 1,0 -7.6,0zM895.2,685.0a3.8,3.8 0 1,0 7.6,0a3.8,3.8 0 1,0 -7.6,0zM907.8,685.0a3.8,3.8 0 1,0 7.6,0a3.8,3.8 0 1,0 -7.6,0z" stroke="none"/>
</g>
<g fill="#009a9a" stroke="#009a9a">
<polyline points="155.8,670.7 168.4,670.7 181.0,672.1 193.6,670.7 206.2,668.2 218.8,669.2 231.4,669.2 244.0,670.7 256.6,668.2 269.2,670.2 281.8,667.2 294.4,669.2 307.0,666.2 319.6,669.6 332.2,666.2 344.8,668.2 357.4,667.2 370.0,670.2 382.6,664.2 395.2,670.2 407.8,670.7 420.4,670.7 433.0,670.2 445.6,670.7 458.2,673.1 470.8,674.1 483.3,674.1 495.9,674.7 508.5,673.1 521.1,672.7 533.7,672.7 546.3,670.2 558.9,665.2 571.5,661.2 584.1,662.2 596.7,660.8 609.3,662.2 621.9,653.3 634.5,530.3 647.1,539.1 659.7,660.2 672.3,565.5 684.9,463.4 697.5,391.1 710.1,343.1 722.7,373.6 735.3,426.7 747.9,471.2 760.5,505.7 773.1,530.3 785.6,541.9 798.2,563.7 810.8,574.6 823.4,566.5 836.0,568.5 848.6,573.6 861.2,576.6 873.8,589.9 886.4,570.5 899.0,570.5 911.6,583.8 924.2,618.4 936.8,613.3 949.4,618.4 962.0,613.3 974.6,622.5 987.2,622.5 999.8,620.4 1012.4,629.6 1025.0,608.2 1037.6,602.1 1050.2,610.2 1062.8,629.2 1075.4,620.4 1088.0,611.7 1100.5,616.3 1113.1,611.7 1125.7,607.2 1138.3,618.1 1150.9,623.7 1163.5,619.0 1176.1,616.6 1188.7,616.6 1201.3,621.2 1213.9,642.4 1226.5,644.9 1239.1,641.8 1251.7,651.1 1264.3,636.8 1276.9,646.1 1289.5,647.1 1302.1,644.6 1314.7,644.0 1327.3,648.6 1339.9,637.7 1352.5,645.5 1365.1,649.2 1377.7,655.5 1390.3,661.1 1402.9,662.0 1415.4,661.1 1428.0,655.8 1440.6,651.1 1453.2,651.1 1465.8,654.2 1478.4,651.1 1491.0,653.3 1503.6,653.3 1516.2,649.3 1528.8,656.4 1541.4,658.0 1554.0,648.6 1566.6,656.4 1579.2,654.9 1591.8,655.5 1604.4,655.5 1617.0,661.7 1629.6,687.5" fill="none" stroke-width="3" stroke-linejoin="round" stroke-linecap="round"/>
<path d="M152.0,670.7a3.8,3.8 0 1,0 7.6,0a3.8,3.8 0 1,0 -7.6,0zM164.6,670.7a3.8,3.8 0 1,0 7.6,0a3.8,3.8 0 1,0 -7.6,0zM177.2,672.1a3.8,3.8 0 1,0 7.6,0a3.8,3.8 0 1,0 -7.6,0zM189.8,670.7a3.8,3.8 0 1,0 7.6,0a3.8,3.8 0 1,0 -7.6,0zM202.4,668.2a3.8,3.8 0 1,0 7.6,0a3.8,3.8 0 1,0 -7.6,0zM215.0,669.2a3.8,3.8 0 1,0 7.6,0a3.8,3.8 0 1,0 -7.6,0zM227.6,669.2a3.8,3.8 0 1,0 7.6,0a3.8,3.8 0 1,0 -7.6,0zM240.2,670.7a3.8,3.8 0 1,0 7.6,0a3.8,3.8 0 1,0 -7.6,0zM252.8,668.2a3.8,3.8 0 1,0 7.6,0a3.8,3.8 0 1,0 -7.6,0zM265.4,670.2a3.8,3.8 0 1,0 7.6,0a3.8,3.8 0 1,0 -7.6,0zM278.0,667.2a3.8,3.8 0 1,0 7.6,0a3.8,3.8 0 1,0 -7.6,0zM290.6,669.2a3.8,3.8 0 1,0 7.6,0a3.8,3.8 0 1,0 -7.6,0zM303.2,666.2a3.8,3.8 0 1,0 7.6,0a3.8,3.8 0 1,0 -7.6,0zM315.8,669.6a3.8,3.8 0 1,0 7.6,0a3.8,3.8 0 1,0 -7.6,0zM328.4,666.2a3.8,3.8 0 1,0 7.6,0a3.8,3.8 0 1,0 -7.6,0zM341.0,668.2a3.8,3.8 0 1,0 7.6,0a3.8,3.8 0 1,0 -7.6,0zM353.6,667.2a3.8,3.8 0 1,0 7.6,0a3.8,3.8 0 1,0 -7.6,0zM366.2,670.2a3.8,3.8 0 1,0 7.6,0a3.8,3.8 0 1,0 -7.6,0zM378.8,664.2a3.8,3.8 0 1,0 7.6,0a3.8,3.8 0 1,0 -7.6,0zM391.4,670.2a3.8,3.8 0 1,0 7.6,0a3.8,3.8 0 1,0 -7.6,0zM404.0,670.7a3.8,3.8 0 1,0 7.6,0a3.8,3.8 0 1,0 -7.6,0zM416.6,670.7a3.8,3.8 0 1,0 7.6,0a3.8,3.8 0 1,0 -7.6,0zM429.2,670.2a3.8,3.8 0 1,0 7.6,0a3.8,3.8 0 1,0 -7.6,0zM441.8,670.7a3.8,3.8 0 1,0 7.6,0a3.8,3.8 0 1,0 -7.6,0zM454.4,673.1a3.8,3.8 0 1,0 7.6,0a3.8,3.8 0 1,0 -7.6,0zM466.9,674.1a3.8,3.8 0 1,0 7.6,0a3.8,3.8 0 1,0 -7.6,0zM479.5,674.1a3.8,3.8 0 1,0 7.6,0a3.8,3.8 0 1,0 -7.6,0zM492.1,674.7a3.8,3.8 0 1,0 7.6,0a3.8,3.8 0 1,0 -7.6,0zM504.7,673.1a3.8,3.8 0 1,0 7.6,0a3.8,3.8 0 1,0 -7.6,0zM517.3,672.7a3.8,3.8 0 1,0 7.6,0a3.8,3.8 0 1,0 -7.6,0zM529.9,672.7a3.8,3.8 0 1,0 7.6,0a3.8,3.8 0 1,0 -7.6,0zM542.5,670.2a3.8,3.8 0 1,0 7.6,0a3.8,3.8 0 1,0 -7.6,0zM555.1,665.2a3.8,3.8 0 1,0 7.6,0a3.8,3.8 0 1,0 -7.6,0zM567.7,661.2a3.8,3.8 0 1,0 7.6,0a3.8,3.8 0 1,0 -7.6,0zM580.3,662.2a3.8,3.8 0 1,0 7.6,0a3.8,3.8 0 1,0 -7.6,0zM592.9,660.8a3.8,3.8 0 1,0 7.6,0a3.8,3.8 0 1,0 -7.6,0zM605.5,662.2a3.8,3.8 0 1,0 7.6,0a3.8,3.8 0 1,0 -7.6,0zM618.1,653.3a3.8,3.8 0 1,0 7.6,0a3.8,3.8 0 1,0 -7.6,0zM630.7,530.3a3.8,3.8 0 1,0 7.6,0a3.8,3.8 0 1,0 -7.6,0zM643.3,539.1a3.8,3.8 0 1,0 7.6,0a3.8,3.8 0 1,0 -7.6,0zM655.9,660.2a3.8,3.8 0 1,0 7.6,0a3.8,3.8 0 1,0 -7.6,0zM668.5,565.5a3.8,3.8 0 1,0 7.6,0a3.8,3.8 0 1,0 -7.6,0zM681.1,463.4a3.8,3.8 0 1,0 7.6,0a3.8,3.8 0 1,0 -7.6,0zM693.7,391.1a3.8,3.8 0 1,0 7.6,0a3.8,3.8 0 1,0 -7.6,0zM706.3,343.1a3.8,3.8 0 1,0 7.6,0a3.8,3.8 0 1,0 -7.6,0zM718.9,373.6a3.8,3.8 0 1,0 7.6,0a3.8,3.8 0 1,0 -7.6,0zM731.5,426.7a3.8,3.8 0 1,0 7.6,0a3.8,3.8 0 1,0 -7.6,0zM744.1,471.2a3.8,3.8 0 1,0 7.6,0a3.8,3.8 0 1,0 -7.6,0zM756.7,505.7a3.8,3.8 0 1,0 7.6,0a3.8,3.8 0 1,0 -7.6,0zM769.3,530.3a3.8,3.8 0 1,0 7.6,0a3.8,3.8 0 1,0 -7.6,0zM781.9,541.9a3.8,3.8 0 1,0 7.6,0a3.8,3.8 0 1,0 -7.6,0zM794.4,563.7a3.8,3.8 0 1,0 7.6,0a3.8,3.8 0 1,0 -7.6,0zM807.0,574.6a3.8,3.8 0 1,0 7.6,0a3.8,3.8 0 1,0 -7.6,0zM819.6,566.5a3.8,3.8 0 1,0 7.6,0a3.8,3.8 0 1,0 -7.6,0zM832.2,568.5a3.8,3.8 0 1,0 7.6,0a3.8,3.8 0 1,0 -7.6,0zM844.8,573.6a3.8,3.8 0 1,0 7.6,0a3.8,3.8 0 1,0 -7.6,0zM857.4,576.6a3.8,3.8 0 1,0 7.6,0a3.8,3.8 0 1,0 -7.6,0zM870.0,589.9a3.8,3.8 0 1,0 7.6,0a3.8,3.8 0 1,0 -7.6,0zM882.6,570.5a3.8,3.8 0 1,0 7.6,0a3.8,3.8 0 1,0 -7.6,0zM895.2,570.5a3.8,3.8 0 1,0 7.6,0a3.8,3.8 0 1,0 -7.6,0zM907.8,583.8a3.8,3.8 0 1,0 7.6,0a3.8,3.8 0 1,0 -7.6,0zM920.4,618.4a3.8,3.8 0 1,0 7.6,0a3.8,3.8 0 1,0 -7.6,0zM933.0,613.3a3.8,3.8 0 1,0 7.6,0a3.8,3.8 0 1,0 -7.6,0zM945.6,618.4a3.8,3.8 0 1,0 7.6,0a3.8,3.8 0 1,0 -7.6,0zM958.2,613.3a3.8,3.8 0 1,0 7.6,0a3.8,3.8 0 1,0 -7.6,0zM970.8,622.5a3.8,3.8 0 1,0 7.6,0a3.8,3.8 0 1,0 -7.6,0zM983.4,622.5a3.8,3.8 0 1,0 7.6,0a3.8,3.8 0 1,0 -7.6,0zM996.0,620.4a3.8,3.8 0 1,0 7.6,0a3.8,3.8 0 1,0 -7.6,0zM1008.6,629.6a3.8,3.8 0 1,0 7.6,0a3.8,3.8 0 1,0 -7.6,0zM1021.2,608.2a3.8,3.8 0 1,0 7.6,0a3.8,3.8 0 1,0 -7.6,0zM1033.8,602.1a3.8,3.8 0 1,0 7.6,0a3.8,3.8 0 1,0 -7.6,0zM1046.4,610.2a3.8,3.8 0 1,0 7.6,0a3.8,3.8 0 1,0 -7.6,0zM1059.0,629.2a3.8,3.8 0 1,0 7.6,0a3.8,3.8 0 1,0 -7.6,0zM1071.6,620.4a3.8,3.8 0 1,0 7.6,0a3.8,3.8 0 1,0 -7.6,0zM1084.2,611.7a3.8,3.8 0 1,0 7.6,0a3.8,3.8 0 1,0 -7.6,0zM1096.8,616.3a3.8,3.8 0 1,0 7.6,0a3.8,3.8 0 1,0 -7.6,0zM1109.3,611.7a3.8,3.8 0 1,0 7.6,0a3.8,3.8 0 1,0 -7.6,0zM1121.9,607.2a3.8,3.8 0 1,0 7.6,0a3.8,3.8 0 1,0 -7.6,0zM1134.5,618.1a3.8,3.8 0 1,0 7.6,0a3.8,3.8 0 1,0 -7.6,0zM1147.1,623.7a3.8,3.8 0 1,0 7.6,0a3.8,3.8 0 1,0 -7.6,0zM1159.7,619.0a3.8,3.8 0 1,0 7.6,0a3.8,3.8 0 1,0 -7.6,0zM1172.3,616.6a3.8,3.8 0 1,0 7.6,0a3.8,3.8 0 1,0 -7.6,0zM1184.9,616.6a3.8,3.8 0 1,0 7.6,0a3.8,3.8 0 1,0 -7.6,0zM1197.5,621.2a3.8,3.8 0 1,0 7.6,0a3.8,3.8 0 1,0 -7.6,0zM1210.1,642.4a3.8,3.8 0 1,0 7.6,0a3.8,3.8 0 1,0 -7.6,0zM1222.7,644.9a3.8,3.8 0 1,0 7.6,0a3.8,3.8 0 1,0 -7.6,0zM1235.3,641.8a3.8,3.8 0 1,0 7.6,0a3.8,3.8 0 1,0 -7.6,0zM1247.9,651.1a3.8,3.8 0 1,0 7.6,0a3.8,3.8 0 1,0 -7.6,0zM1260.5,636.8a3.8,3.8 0 1,0 7.6,0a3.8,3.8 0 1,0 -7.6,0zM1273.1,646.1a3.8,3.8 0 1,0 7.6,0a3.8,3.8 0 1,0 -7.6,0zM1285.7,647.1a3.8,3.8 0 1,0 7.6,0a3.8,3.8 0 1,0 -7.6,0zM1298.3,644.6a3.8,3.8 0 1,0 7.6,0a3.8,3.8 0 1,0 -7.6,0zM1310.9,644.0a3.8,3.8 0 1,0 7.6,0a3.8,3.8 0 1,0 -7.6,0zM1323.5,648.6a3.8,3.8 0 1,0 7.6,0a3.8,3.8 0 1,0 -7.6,0zM1336.1,637.7a3.8,3.8 0 1,0 7.6,0a3.8,3.8 0 1,0 -7.6,0zM1348.7,645.5a3.8,3.8 0 1,0 7.6,0a3.8,3.8 0 1,0 -7.6,0zM1361.3,649.2a3.8,3.8 0 1,0 7.6,0a3.8,3.8 0 1,0 -7.6,0zM1373.9,655.5a3.8,3.8 0 1,0 7.6,0a3.8,3.8 0 1,0 -7.6,0zM1386.5,661.1a3.8,3.8 0 1,0 7.6,0a3.8,3.8 0 1,0 -7.6,0zM1399.1,662.0a3.8,3.8 0 1,0 7.6,0a3.8,3.8 0 1,0 -7.6,0zM1411.6,661.1a3.8,3.8 0 1,0 7.6,0a3.8,3.8 0 1,0 -7.6,0zM1424.2,655.8a3.8,3.8 0 1,0 7.6,0a3.8,3.8 0 1,0 -7.6,0zM1436.8,651.1a3.8,3.8 0 1,0 7.6,0a3.8,3.8 0 1,0 -7.6,0zM1449.4,651.1a3.8,3.8 0 1,0 7.6,0a3.8,3.8 0 1,0 -7.6,0zM1462.0,654.2a3.8,3.8 0 1,0 7.6,0a3.8,3.8 0 1,0 -7.6,0zM1474.6,651.1a3.8,3.8 0 1,0 7.6,0a3.8,3.8 0 1,0 -7.6,0zM1487.2,653.3a3.8,3.8 0 1,0 7.6,0a3.8,3.8 0 1,0 -7.6,0zM1499.8,653.3a3.8,3.8 0 1,0 7.6,0a3.8,3.8 0 1,0 -7.6,0zM1512.4,649.3a3.8,3.8 0 1,0 7.6,0a3.8,3.8 0 1,0 -7.6,0zM1525.0,656.4a3.8,3.8 0 1,0 7.6,0a3.8,3.8 0 1,0 -7.6,0zM1537.6,658.0a3.8,3.8 0 1,0 7.6,0a3.8,3.8 0 1,0 -7.6,0zM1550.2,648.6a3.8,3.8 0 1,0 7.6,0a3.8,3.8 0 1,0 -7.6,0zM1562.8,656.4a3.8,3.8 0 1,0 7.6,0a3.8,3.8 0 1,0 -7.6,0zM1575.4,654.9a3.8,3.8 0 1,0 7.6,0a3.8,3.8 0 1,0 -7.6,0zM1588.0,655.5a3.8,3.8 0 1,0 7.6,0a3.8,3.8 0 1,0 -7.6,0zM1600.6,655.5a3.8,3.8 0 1,0 7.6,0a3.8,3.8 0 1,0 -7.6,0zM1613.2,661.7a3.8,3.8 0 1,0 7.6,0a3.8,3.8 0 1,0 -7.6,0zM1625.8,687.5a3.8,3.8 0 1,0 7.6,0a3.8,3.8 0 1,0 -7.6,0z" stroke="none"/>
</g>
<g fill="#f0645a" stroke="#f0645a">
<polyline points="155.8,688.0 168.4,688.0 181.0,688.0 193.6,688.0 206.2,688.0 218.8,688.0 231.4,688.0 244.0,688.0 256.6,688.0 269.2,688.0 281.8,688.0 294.4,688.0 307.0,688.0 319.6,688.0 332.2,688.0 344.8,688.0 357.4,688.0 370.0,688.0 382.6,688.0 395.2,688.0 407.8,688.0 420.4,688.0 433.0,688.0 445.6,688.0 458.2,688.0 470.8,688.0 483.3,688.0 495.9,688.0 508.5,688.0 521.1,688.0 533.7,688.0 546.3,688.0 558.9,688.0 571.5,688.0 584.1,688.0 596.7,688.0 609.3,688.0 621.9,688.0 634.5,688.0 647.1,688.0 659.7,688.0 672.3,688.0 684.9,688.0 697.5,683.0 710.1,655.8 722.7,602.0 735.3,645.0 747.9,603.6 760.5,605.5 773.1,638.3 785.6,643.0 798.2,654.0 810.8,660.5 823.4,668.8 836.0,669.2 848.6,675.0 861.2,678.4 873.8,681.0 886.4,686.0 899.0,686.0 911.6,686.1 924.2,686.1 936.8,686.1 949.4,686.2 962.0,686.2 974.6,686.2 987.2,686.3 999.8,686.3 1012.4,686.3 1025.0,686.4 1037.6,686.4 1050.2,686.4 1062.8,686.5 1075.4,686.5 1088.0,686.5 1100.5,686.6 1113.1,686.6 1125.7,686.6 1138.3,686.7 1150.9,686.7 1163.5,686.7 1176.1,686.8 1188.7,686.8 1201.3,686.8 1213.9,686.9 1226.5,686.9 1239.1,686.9 1251.7,687.0 1264.3,687.0 1276.9,687.1 1289.5,687.1 1302.1,687.1 1314.7,687.2 1327.3,687.2 1339.9,687.2 1352.5,687.3 1365.1,687.3 1377.7,687.3 1390.3,687.4 1402.9,687.4 1415.4,687.4 1428.0,687.5 1440.6,687.5 1453.2,687.5 1465.8,687.6 1478.4,687.6 1491.0,687.6 1503.6,687.7 1516.2,687.7 1528.8,687.7 1541.4,687.8 1554.0,687.8 1566.6,687.8 1579.2,687.9 1591.8,687.9 1604.4,687.9 1617.0,688.0 1629.6,688.0" fill="none" stroke-width="3" stroke-linejoin="round" stroke-linecap="round"/>
<path d="M152.0,688.0a3.8,3.8 0 1,0 7.6,0a3.8,3.8 0 1,0 -7.6,0zM164.6,688.0a3.8,3.8 0 1,0 7.6,0a3.8,3.8 0 1,0 -7.6,0zM177.2,688.0a3.8,3.8 0 1,0 7.6,0a3.8,3.8 0 1,0 -7.6,0zM189.8,688.0a3.8,3.8 0 1,0 7.6,0a3.8,3.8 0 1,0 -7.6,0zM202.4,688.0a3.8,3.8 0 1,0 7.6,0a3.8,3.8 0 1,0 -7.6,0zM215.0,688.0a3.8,3.8 0 1,0 7.6,0a3.8,3.8 0 1,0 -7.6,0zM227.6,688.0a3.8,3.8 0 1,0 7.6,0a3.8,3.8 0 1,0 -7.6,0zM240.2,688.0a3.8,3.8 0 1,0 7.6,0a3.8,3.8 0 1,0 -7.6,0zM252.8,688.0a3.8,3.8 0 1,0 7.6,0a3.8,3.8 0 1,0 -7.6,0zM265.4,688.0a3.8,3.8 0 1,0 7.6,0a3.8,3.8 0 1,0 -7.6,0zM278.0,688.0a3.8,3.8 0 1,0 7.6,0a3.8,3.8 0 1,0 -7.6,0zM290.6,688.0a3.8,3.8 0 1,0 7.6,0a3.8,3.8 0 1,0 -7.6,0zM303.2,688.0a3.8,3.8 0 1,0 7.6,0a3.8,3.8 0 1,0 -7.6,0zM315.8,688.0a3.8,3.8 0 1,0 7.6,0a3.8,3.8 0 1,0 -7.6,0zM328.4,688.0a3.8,3.8 0 1,0 7.6,0a3.8,3.8 0 1,0 -7.6,0zM341.0,688.0a3.8,3.8 0 1,0 7.6,0a3.8,3.8 0 1,0 -7.6,0zM353.6,688.0a3.8,3.8 0 1,0 7.6,0a3.8,3.8 0 1,0 -7.6,0zM366.2,688.0a3.8,3.8 0 1,0 7.6,0a3.8,3.8 0 1,0 -7.6,0zM378.8,688.0a3.8,3.8 0 1,0 7.6,0a3.8,3.8 0 1,0 -7.6,0zM391.4,688.0a3.8,3.8 0 1,0 7.6,0a3.8,3.8 0 1,0 -7.6,0zM404.0,688.0a3.8,3.8 0 1,0 7.6,0a3.8,3.8 0 1,0 -7.6,0zM416.6,688.0a3.8,3.8 0 1,0 7.6,0a3.8,3.8 0 1,0 -7.6,0zM429.2,688.0a3.8,3.8 0 1,0 7.6,0a3.8,3.8 0 1,0 -7.6,0zM441.8,688.0a3.8,3.8 0 1,0 7.6,0a3.8,3.8 0 1,0 -7.6,0zM454.4,688.0a3.8,3.8 0 1,0 7.6,0a3.8,3.8 0 1,0 -7.6,0zM466.9,688.0a3.8,3.8 0 1,0 7.6,0a3.8,3.8 0 1,0 -7.6,0zM479.5,688.0a3.8,3.8 0 1,0 7.6,0a3.8,3.8 0 1,0 -7.6,0zM492.1,688.0a3.8,3.8 0 1,0 7.6,0a3.8,3.8 0 1,0 -7.6,0zM504.7,688.0a3.8,3.8 0 1,0 7.6,0a3.8,3.8 0 1,0 -7.6,0zM517.3,688.0a3.8,3.8 0 1,0 7.6,0a3.8,3.8 0 1,0 -7.6,0zM529.9,688.0a3.8,3.8 0 1,0 7.6,0a3.8,3.8 0 1,0 -7.6,0zM542.5,688.0a3.8,3.8 0 1,0 7.6,0a3.8,3.8 0 1,0 -7.6,0zM555.1,688.0a3.8,3.8 0 1,0 7.6,0a3.8,3.8 0 1,0 -7.6,0zM567.7,688.0a3.8,3.8 0 1,0 7.6,0a3.8,3.8 0 1,0 -7.6,0zM580.3,688.0a3.8,3.8 0 1,0 7.6,0a3.8,3.8 0 1,0 -7.6,0zM592.9,688.0a3.8,3.8 0 1,0 7.6,0a3.8,3.8 0 1,0 -7.6,0zM605.5,688.0a3.8,3.8 0 1,0 7.6,0a3.8,3.8 0 1,0 -7.6,0zM618.1,688.0a3.8,3.8 0 1,0 7.6,0a3.8,3.8 0 1,0 -7.6,0zM630.7,688.0a3.8,3.8 0 1,0 7.6,0a3.8,3.8 0 1,0 -7.6,0zM643.3,688.0a3.8,3.8 0 1,0 7.6,0a3.8,3.8 0 1,0 -7.6,0zM655.9,688.0a3.8,3.8 0 1,0 7.6,0a3.8,3.8 0 1,0 -7.6,0zM668.5,688.0a3.8,3.8 0 1,0 7.6,0a3.8,3.8 0 1,0 -7.6,0zM681.1,688.0a3.8,3.8 0 1,0 7.6,0a3.8,3.8 0 1,0 -7.6,0zM693.7,683.0a3.8,3.8 0 1,0 7.6,0a3.8,3.8 0 1,0 -7.6,0zM706.3,655.8a3.8,3.8 0 1,0 7.6,0a3.8,3.8 0 1,0 -7.6,0zM718.9,602.0a3.8,3.8 0 1,0 7.6,0a3.8,3.8 0 1,0 -7.6,0zM731.5,645.0a3.8,3.8 0 1,0 7.6,0a3.8,3.8 0 1,0 -7.6,0zM744.1,603.6a3.8,3.8 0 1,0 7.6,0a3.8,3.8 0 1,0 -7.6,0zM756.7,605.5a3.8,3.8 0 1,0 7.6,0a3.8,3.8 0 1,0 -7.6,0zM769.3,638.3a3.8,3.8 0 1,0 7.6,0a3.8,3.8 0 1,0 -7.6,0zM781.9,643.0a3.8,3.8 0 1,0 7.6,0a3.8,3.8 0 1,0 -7.6,0zM794.4,654.0a3.8,3.8 0 1,0 7.6,0a3.8,3.8 0 1,0 -7.6,0zM807.0,660.5a3.8,3.8 0 1,0 7.6,0a3.8,3.8 0 1,0 -7.6,0zM819.6,668.8a3.8,3.8 0 1,0 7.6,0a3.8,3.8 0 1,0 -7.6,0zM832.2,669.2a3.8,3.8 0 1,0 7.6,0a3.8,3.8 0 1,0 -7.6,0zM844.8,675.0a3.8,3.8 0 1,0 7.6,0a3.8,3.8 0 1,0 -7.6,0zM857.4,678.4a3.8,3.8 0 1,0 7.6,0a3.8,3.8 0 1,0 -7.6,0zM870.0,681.0a3.8,3.8 0 1,0 7.6,0a3.8,3.8 0 1,0 -7.6,0zM882.6,686.0a3.8,3.8 0 1,0 7.6,0a3.8,3.8 0 1,0 -7.6,0zM895.2,686.0a3.8,3.8 0 1,0 7.6,0a3.8,3.8 0 1,0 -7.6,0zM907.8,686.1a3.8,3.8 0 1,0 7.6,0a3.8,3.8 0 1,0 -7.6,0zM920.4,686.1a3.8,3.8 0 1,0 7.6,0a3.8,3.8 0 1,0 -7.6,0zM933.0,686.1a3.8,3.8 0 1,0 7.6,0a3.8,3.8 0 1,0 -7.6,0zM945.6,686.2a3.8,3.8 0 1,0 7.6,0a3.8,3.8 0 1,0 -7.6,0zM958.2,686.2a3.8,3.8 0 1,0 7.6,0a3.8,3.8 0 1,0 -7.6,0zM970.8,686.2a3.8,3.8 0 1,0 7.6,0a3.8,3.8 0 1,0 -7.6,0zM983.4,686.3a3.8,3.8 0 1,0 7.6,0a3.8,3.8 0 1,0 -7.6,0zM996.0,686.3a3.8,3.8 0 1,0 7.6,0a3.8,3.8 0 1,0 -7.6,0zM1008.6,686.3a3.8,3.8 0 1,0 7.6,0a3.8,3.8 0 1,0 -7.6,0zM1021.2,686.4a3.8,3.8 0 1,0 7.6,0a3.8,3.8 0 1,0 -7.6,0zM1033.8,686.4a3.8,3.8 0 1,0 7.6,0a3.8,3.8 0 1,0 -7.6,0zM1046.4,686.4a3.8,3.8 0 1,0 7.6,0a3.8,3.8 0 1,0 -7.6,0zM1059.0,686.5a3.8,3.8 0 1,0 7.6,0a3.8,3.8 0 1,0 -7.6,0zM1071.6,686.5a3.8,3.8 0 1,0 7.6,0a3.8,3.8 0 1,0 -7.6,0zM1084.2,686.5a3.8,3.8 0 1,0 7.6,0a3.8,3.8 0 1,0 -7.6,0zM1096.8,686.6a3.8,3.8 0 1,0 7.6,0a3.8,3.8 0 1,0 -7.6,0zM1109.3,686.6a3.8,3.8 0 1,0 7.6,0a3.8,3.8 0 1,0 -7.6,0zM1121.9,686.6a3.8,3.8 0 1,0 7.6,0a3.8,3.8 0 1,0 -7.6,0zM1134.5,686.7a3.8,3.8 0 1,0 7.6,0a3.8,3.8 0 1,0 -7.6,0zM1147.1,686.7a3.8,3.8 0 1,0 7.6,0a3.8,3.8 0 1,0 -7.6,0zM1159.7,686.7a3.8,3.8 0 1,0 7.6,0a3.8,3.8 0 1,0 -7.6,0zM1172.3,686.8a3.8,3.8 0 1,0 7.6,0a3.8,3.8 0 1,0 -7.6,0zM1184.9,686.8a3.8,3.8 0 1,0 7.6,0a3.8,3.8 0 1,0 -7.6,0zM1197.5,686.8a3.8,3.8 0 1,0 7.6,0a3.8,3.8 0 1,0 -7.6,0zM1210.1,686.9a3.8,3.8 0 1,0 7.6,0a3.8,3.8 0 1,0 -7.6,0zM1222.7,686.9a3.8,3.8 0 1,0 7.6,0a3.8,3.8 0 1,0 -7.6,0zM1235.3,686.9a3.8,3.8 0 1,0 7.6,0a3.8,3.8 0 1,0 -7.6,0zM1247.9,687.0a3.8,3.8 0 1,0 7.6,0a3.8,3.8 0 1,0 -7.6,0zM1260.5,687.0a3.8,3.8 0 1,0 7.6,0a3.8,3.8 0 1,0 -7.6,0zM1273.1,687.1a3.8,3.8 0 1,0 7.6,0a3.8,3.8 0 1,0 -7.6,0zM1285.7,687.1a3.8,3.8 0 1,0 7.6,0a3.8,3.8 0 1,0 -7.6,0zM1298.3,687.1a3.8,3.8 0 1,0 7.6,0a3.8,3.8 0 1,0 -7.6,0zM1310.9,687.2a3.8,3.8 0 1,0 7.6,0a3.8,3.8 0 1,0 -7.6,0zM1323.5,687.2a3.8,3.8 0 1,0 7.6,0a3.8,3.8 0 1,0 -7.6,0zM1336.1,687.2a3.8,3.8 0 1,0 7.6,0a3.8,3.8 0 1,0 -7.6,0zM1348.7,687.3a3.8,3.8 0 1,0 7.6,0a3.8,3.8 0 1,0 -7.6,0zM1361.3,687.3a3.8,3.8 0 1,0 7.6,0a3.8,3.8 0 1,0 -7.6,0zM1373.9,687.3a3.8,3.8 0 1,0 7.6,0a3.8,3.8 0 1,0 -7.6,0zM1386.5,687.4a3.8,3.8 0 1,0 7.6,0a3.8,3.8 0 1,0 -7.6,0zM1399.1,687.4a3.8,3.8 0 1,0 7.6,0a3.8,3.8 0 1,0 -7.6,0zM1411.6,687.4a3.8,3.8 0 1,0 7.6,0a3.8,3.8 0 1,0 -7.6,0zM1424.2,687.5a3.8,3.8 0 1,0 7.6,0a3.8,3.8 0 1,0 -7.6,0zM1436.8,687.5a3.8,3.8 0 1,0 7.6,0a3.8,3.8 0 1,0 -7.6,0zM1449.4,687.5a3.8,3.8 0 1,0 7.6,0a3.8,3.8 0 1,0 -7.6,0zM1462.0,687.6a3.8,3.8 0 1,0 7.6,0a3.8,3.8 0 1,0 -7.6,0zM1474.6,687.6a3.8,3.8 0 1,0 7.6,0a3.8,3.8 0 1,0 -7.6,0zM1487.2,687.6a3.8,3.8 0 1,0 7.6,0a3.8,3.8 0 1,0 -7.6,0zM1499.8,687.7a3.8,3.8 0 1,0 7.6,0a3.8,3.8 0 1,0 -7.6,0zM1512.4,687.7a3.8,3.8 0 1,0 7.6,0a3.8,3.8 0 1,0 -7.6,0zM1525.0,687.7a3.8,3.8 0 1,0 7.6,0a3.8,3.8 0 1,0 -7.6,0zM1537.6,687.8a3.8,3.8 0 1,0 7.6,0a3.8,3.8 0 1,0 -7.6,0zM1550.2,687.8a3.8,3.8 0 1,0 7.6,0a3.8,3.8 0 1,0 -7.6,0zM1562.8,687.8a3.8,3.8 0 1,0 7.6,0a3.8,3.8 0 1,0 -7.6,0zM1575.4,687.9a3.8,3.8 0 1,0 7.6,0a3.8,3.8 0 1,0 -7.6,0zM1588.0,687.9a3.8,3.8 0 1,0 7.6,0a3.8,3.8 0 1,0 -7.6,0zM1600.6,687.9a3.8,3.8 0 1,0 7.6,0a3.8,3.8 0 1,0 -7.6,0zM1613.2,688.0a3.8,3.8 0 1,0 7.6,0a3.8,3.8 0 1,0 -7.6,0zM1625.8,688.0a3.8,3.8 0 1,0 7.6,0a3.8,3.8 0 1,0 -7.6,0z" stroke="none"/>
</g>
<g fill="#7dc0e8" stroke="#7dc0e8">
<polyline points="155.8,688.0 168.4,688.0 181.0,688.0 193.6,688.0 206.2,688.0 218.8,688.0 231.4,688.0 244.0,688.0 256.6,688.0 269.2,688.0 281.8,688.0 294.4,688.0 307.0,688.0 319.6,688.0 332.2,688.0 344.8,688.0 357.4,688.0 370.0,688.0 382.6,688.0 395.2,688.0 407.8,688.0 420.4,688.0 433.0,688.0 445.6,688.0 458.2,688.0 470.8,688.0 483.3,688.0 495.9,688.0 508.5,688.0 521.1,688.0 533.7,688.0 546.3,688.0 558.9,688.0 571.5,688.0 584.1,688.0 596.7,688.0 609.3,688.0 621.9,688.0 634.5,688.0 647.1,688.0 659.7,688.0 672.3,688.0 684.9,688.0 697.5,688.0 710.1,688.0 722.7,688.0 735.3,684.0 747.9,673.8 760.5,592.5 773.1,488.5 785.6,616.2 798.2,527.2 810.8,498.2 823.4,563.7 836.0,605.6 848.6,621.0 861.2,651.0 873.8,663.0 886.4,666.8 899.0,670.0 911.6,672.0 924.2,679.5 936.8,680.5 949.4,677.4 962.0,680.5 974.6,682.0 987.2,682.4 999.8,682.8 1012.4,683.2 1025.0,683.6 1037.6,684.0 1050.2,684.4 1062.8,684.8 1075.4,685.2 1088.0,685.6 1100.5,686.0 1113.1,686.0 1125.7,686.1 1138.3,686.1 1150.9,686.2 1163.5,686.2 1176.1,686.3 1188.7,686.3 1201.3,686.4 1213.9,686.4 1226.5,686.5 1239.1,686.5 1251.7,686.6 1264.3,686.6 1276.9,686.7 1289.5,686.7 1302.1,686.8 1314.7,686.8 1327.3,686.9 1339.9,686.9 1352.5,687.0 1365.1,687.0 1377.7,687.0 1390.3,687.1 1402.9,687.1 1415.4,687.2 1428.0,687.2 1440.6,687.3 1453.2,687.3 1465.8,687.4 1478.4,687.4 1491.0,687.5 1503.6,687.5 1516.2,687.6 1528.8,687.6 1541.4,687.7 1554.0,687.7 1566.6,687.8 1579.2,687.8 1591.8,687.9 1604.4,687.9 1617.0,688.0 1629.6,688.0" fill="none" stroke-width="3" stroke-linejoin="round" stroke-linecap="round"/>
<path d="M152.0,688.0a3.8,3.8 0 1,0 7.6,0a3.8,3.8 0 1,0 -7.6,0zM164.6,688.0a3.8,3.8 0 1,0 7.6,0a3.8,3.8 0 1,0 -7.6,0zM177.2,688.0a3.8,3.8 0 1,0 7.6,0a3.8,3.8 0 1,0 -7.6,0zM189.8,688.0a3.8,3.8 0 1,0 7.6,0a3.8,3.8 0 1,0 -7.6,0zM202.4,688.0a3.8,3.8 0 1,0 7.6,0a3.8,3.8 0 1,0 -7.6,0zM215.0,688.0a3.8,3.8 0 1,0 7.6,0a3.8,3.8 0 1,0 -7.6,0zM227.6,688.0a3.8,3.8 0 1,0 7.6,0a3.8,3.8 0 1,0 -7.6,0zM240.2,688.0a3.8,3.8 0 1,0 7.6,0a3.8,3.8 0 1,0 -7.6,0zM252.8,688.0a3.8,3.8 0 1,0 7.6,0a3.8,3.8 0 1,0 -7.6,0zM265.4,688.0a3.8,3.8 0 1,0 7.6,0a3.8,3.8 0 1,0 -7.6,0zM278.0,688.0a3.8,3.8 0 1,0 7.6,0a3.8,3.8 0 1,0 -7.6,0zM290.6,688.0a3.8,3.8 0 1,0 7.6,0a3.8,3.8 0 1,0 -7.6,0zM303.2,688.0a3.8,3.8 0 1,0 7.6,0a3.8,3.8 0 1,0 -7.6,0zM315.8,688.0a3.8,3.8 0 1,0 7.6,0a3.8,3.8 0 1,0 -7.6,0zM328.4,688.0a3.8,3.8 0 1,0 7.6,0a3.8,3.8 0 1,0 -7.6,0zM341.0,688.0a3.8,3.8 0 1,0 7.6,0a3.8,3.8 0 1,0 -7.6,0zM353.6,688.0a3.8,3.8 0 1,0 7.6,0a3.8,3.8 0 1,0 -7.6,0zM366.2,688.0a3.8,3.8 0 1,0 7.6,0a3.8,3.8 0 1,0 -7.6,0zM378.8,688.0a3.8,3.8 0 1,0 7.6,0a3.8,3.8 0 1,0 -7.6,0zM391.4,688.0a3.8,3.8 0 1,0 7.6,0a3.8,3.8 0 1,0 -7.6,0zM404.0,688.0a3.8,3.8 0 1,0 7.6,0a3.8,3.8 0 1,0 -7.6,0zM416.6,688.0a3.8,3.8 0 1,0 7.6,0a3.8,3.8 0 1,0 -7.6,0zM429.2,688.0a3.8,3.8 0 1,0 7.6,0a3.8,3.8 0 1,0 -7.6,0zM441.8,688.0a3.8,3.8 0 1,0 7.6,0a3.8,3.8 0 1,0 -7.6,0zM454.4,688.0a3.8,3.8 0 1,0 7.6,0a3.8,3.8 0 1,0 -7.6,0zM466.9,688.0a3.8,3.8 0 1,0 7.6,0a3.8,3.8 0 1,0 -7.6,0zM479.5,688.0a3.8,3.8 0 1,0 7.6,0a3.8,3.8 0 1,0 -7.6,0zM492.1,688.0a3.8,3.8 0 1,0 7.6,0a3.8,3.8 0 1,0 -7.6,0zM504.7,688.0a3.8,3.8 0 1,0 7.6,0a3.8,3.8 0 1,0 -7.6,0zM517.3,688.0a3.8,3.8 0 1,0 7.6,0a3.8,3.8 0 1,0 -7.6,0zM529.9,688.0a3.8,3.8 0 1,0 7.6,0a3.8,3.8 0 1,0 -7.6,0zM542.5,688.0a3.8,3.8 0 1,0 7.6,0a3.8,3.8 0 1,0 -7.6,0zM555.1,688.0a3.8,3.8 0 1,0 7.6,0a3.8,3.8 0 1,0 -7.6,0zM567.7,688.0a3.8,3.8 0 1,0 7.6,0a3.8,3.8 0 1,0 -7.6,0zM580.3,688.0a3.8,3.8 0 1,0 7.6,0a3.8,3.8 0 1,0 -7.6,0zM592.9,688.0a3.8,3.8 0 1,0 7.6,0a3.8,3.8 0 1,0 -7.6,0zM605.5,688.0a3.8,3.8 0 1,0 7.6,0a3.8,3.8 0 1,0 -7.6,0zM618.1,688.0a3.8,3.8 0 1,0 7.6,0a3.8,3.8 0 1,0 -7.6,0zM630.7,688.0a3.8,3.8 0 1,0 7.6,0a3.8,3.8 0 1,0 -7.6,0zM643.3,688.0a3.8,3.8 0 1,0 7.6,0a3.8,3.8 0 1,0 -7.6,0zM655.9,688.0a3.8,3.8 0 1,0 7.6,0a3.8,3.8 0 1,0 -7.6,0zM668.5,688.0a3.8,3.8 0 1,0 7.6,0a3.8,3.8 0 1,0 -7.6,0zM681.1,688.0a3.8,3.8 0 1,0 7.6,0a3.8,3.8 0 1,0 -7.6,0zM693.7,688.0a3.8,3.8 0 1,0 7.6,0a3.8,3.8 0 1,0 -7.6,0zM706.3,688.0a3.8,3.8 0 1,0 7.6,0a3.8,3.8 0 1,0 -7.6,0zM718.9,688.0a3.8,3.8 0 1,0 7.6,0a3.8,3.8 0 1,0 -7.6,0zM731.5,684.0a3.8,3.8 0 1,0 7.6,0a3.8,3.8 0 1,0 -7.6,0zM744.1,673.8a3.8,3.8 0 1,0 7.6,0a3.8,3.8 0 1,0 -7.6,0zM756.7,592.5a3.8,3.8 0 1,0 7.6,0a3.8,3.8 0 1,0 -7.6,0zM769.3,488.5a3.8,3.8 0 1,0 7.6,0a3.8,3.8 0 1,0 -7.6,0zM781.9,616.2a3.8,3.8 0 1,0 7.6,0a3.8,3.8 0 1,0 -7.6,0zM794.4,527.2a3.8,3.8 0 1,0 7.6,0a3.8,3.8 0 1,0 -7.6,0zM807.0,498.2a3.8,3.8 0 1,0 7.6,0a3.8,3.8 0 1,0 -7.6,0zM819.6,563.7a3.8,3.8 0 1,0 7.6,0a3.8,3.8 0 1,0 -7.6,0zM832.2,605.6a3.8,3.8 0 1,0 7.6,0a3.8,3.8 0 1,0 -7.6,0zM844.8,621.0a3.8,3.8 0 1,0 7.6,0a3.8,3.8 0 1,0 -7.6,0zM857.4,651.0a3.8,3.8 0 1,0 7.6,0a3.8,3.8 0 1,0 -7.6,0zM870.0,663.0a3.8,3.8 0 1,0 7.6,0a3.8,3.8 0 1,0 -7.6,0zM882.6,666.8a3.8,3.8 0 1,0 7.6,0a3.8,3.8 0 1,0 -7.6,0zM895.2,670.0a3.8,3.8 0 1,0 7.6,0a3.8,3.8 0 1,0 -7.6,0zM907.8,672.0a3.8,3.8 0 1,0 7.6,0a3.8,3.8 0 1,0 -7.6,0zM920.4,679.5a3.8,3.8 0 1,0 7.6,0a3.8,3.8 0 1,0 -7.6,0zM933.0,680.5a3.8,3.8 0 1,0 7.6,0a3.8,3.8 0 1,0 -7.6,0zM945.6,677.4a3.8,3.8 0 1,0 7.6,0a3.8,3.8 0 1,0 -7.6,0zM958.2,680.5a3.8,3.8 0 1,0 7.6,0a3.8,3.8 0 1,0 -7.6,0zM970.8,682.0a3.8,3.8 0 1,0 7.6,0a3.8,3.8 0 1,0 -7.6,0zM983.4,682.4a3.8,3.8 0 1,0 7.6,0a3.8,3.8 0 1,0 -7.6,0zM996.0,682.8a3.8,3.8 0 1,0 7.6,0a3.8,3.8 0 1,0 -7.6,0zM1008.6,683.2a3.8,3.8 0 1,0 7.6,0a3.8,3.8 0 1,0 -7.6,0zM1021.2,683.6a3.8,3.8 0 1,0 7.6,0a3.8,3.8 0 1,0 -7.6,0zM1033.8,684.0a3.8,3.8 0 1,0 7.6,0a3.8,3.8 0 1,0 -7.6,0zM1046.4,684.4a3.8,3.8 0 1,0 7.6,0a3.8,3.8 0 1,0 -7.6,0zM1059.0,684.8a3.8,3.8 0 1,0 7.6,0a3.8,3.8 0 1,0 -7.6,0zM1071.6,685.2a3.8,3.8 0 1,0 7.6,0a3.8,3.8 0 1,0 -7.6,0zM1084.2,685.6a3.8,3.8 0 1,0 7.6,0a3.8,3.8 0 1,0 -7.6,0zM1096.8,686.0a3.8,3.8 0 1,0 7.6,0a3.8,3.8 0 1,0 -7.6,0zM1109.3,686.0a3.8,3.8 0 1,0 7.6,0a3.8,3.8 0 1,0 -7.6,0zM1121.9,686.1a3.8,3.8 0 1,0 7.6,0a3.8,3.8 0 1,0 -7.6,0zM1134.5,686.1a3.8,3.8 0 1,0 7.6,0a3.8,3.8 0 1,0 -7.6,0zM1147.1,686.2a3.8,3.8 0 1,0 7.6,0a3.8,3.8 0 1,0 -7.6,0zM1159.7,686.2a3.8,3.8 0 1,0 7.6,0a3.8,3.8 0 1,0 -7.6,0zM1172.3,686.3a3.8,3.8 0 1,0 7.6,0a3.8,3.8 0 1,0 -7.6,0zM1184.9,686.3a3.8,3.8 0 1,0 7.6,0a3.8,3.8 0 1,0 -7.6,0zM1197.5,686.4a3.8,3.8 0 1,0 7.6,0a3.8,3.8 0 1,0 -7.6,0zM1210.1,686.4a3.8,3.8 0 1,0 7.6,0a3.8,3.8 0 1,0 -7.6,0zM1222.7,686.5a3.8,3.8 0 1,0 7.6,0a3.8,3.8 0 1,0 -7.6,0zM1235.3,686.5a3.8,3.8 0 1,0 7.6,0a3.8,3.8 0 1,0 -7.6,0zM1247.9,686.6a3.8,3.8 0 1,0 7.6,0a3.8,3.8 0 1,0 -7.6,0zM1260.5,686.6a3.8,3.8 0 1,0 7.6,0a3.8,3.8 0 1,0 -7.6,0zM1273.1,686.7a3.8,3.8 0 1,0 7.6,0a3.8,3.8 0 1,0 -7.6,0zM1285.7,686.7a3.8,3.8 0 1,0 7.6,0a3.8,3.8 0 1,0 -7.6,0zM1298.3,686.8a3.8,3.8 0 1,0 7.6,0a3.8,3.8 0 1,0 -7.6,0zM1310.9,686.8a3.8,3.8 0 1,0 7.6,0a3.8,3.8 0 1,0 -7.6,0zM1323.5,686.9a3.8,3.8 0 1,0 7.6,0a3.8,3.8 0 1,0 -7.6,0zM1336.1,686.9a3.8,3.8 0 1,0 7.6,0a3.8,3.8 0 1,0 -7.6,0zM1348.7,687.0a3.8,3.8 0 1,0 7.6,0a3.8,3.8 0 1,0 -7.6,0zM1361.3,687.0a3.8,3.8 0 1,0 7.6,0a3.8,3.8 0 1,0 -7.6,0zM1373.9,687.0a3.8,3.8 0 1,0 7.6,0a3.8,3.8 0 1,0 -7.6,0zM1386.5,687.1a3.8,3.8 0 1,0 7.6,0a3.8,3.8 0 1,0 -7.6,0zM1399.1,687.1a3.8,3.8 0 1,0 7.6,0a3.8,3.8 0 1,0 -7.6,0zM1411.6,687.2a3.8,3.8 0 1,0 7.6,0a3.8,3.8 0 1,0 -7.6,0zM1424.2,687.2a3.8,3.8 0 1,0 7.6,0a3.8,3.8 0 1,0 -7.6,0zM1436.8,687.3a3.8,3.8 0 1,0 7.6,0a3.8,3.8 0 1,0 -7.6,0zM1449.4,687.3a3.8,3.8 0 1,0 7.6,0a3.8,3.8 0 1,0 -7.6,0zM1462.0,687.4a3.8,3.8 0 1,0 7.6,0a3.8,3.8 0 1,0 -7.6,0zM1474.6,687.4a3.8,3.8 0 1,0 7.6,0a3.8,3.8 0 1,0 -7.6,0zM1487.2,687.5a3.8,3.8 0 1,0 7.6,0a3.8,3.8 0 1,0 -7.6,0zM1499.8,687.5a3.8,3.8 0 1,0 7.6,0a3.8,3.8 0 1,0 -7.6,0zM1512.4,687.6a3.8,3.8 0 1,0 7.6,0a3.8,3.8 0 1,0 -7.6,0zM1525.0,687.6a3.8,3.8 0 1,0 7.6,0a3.8,3.8 0 1,0 -7.6,0zM1537.6,687.7a3.8,3.8 0 1,0 7.6,0a3.8,3.8 0 1,0 -7.6,0zM1550.2,687.7a3.8,3.8 0 1,0 7.6,0a3.8,3.8 0 1,0 -7.6,0zM1562.8,687.8a3.8,3.8 0 1,0 7.6,0a3.8,3.8 0 1,0 -7.6,0zM1575.4,687.8a3.8,3.8 0 1,0 7.6,0a3.8,3.8 0 1,0 -7.6,0zM1588.0,687.9a3.8,3.8 0 1,0 7.6,0a3.8,3.8 0 1,0 -7.6,0zM1600.6,687.9a3.8,3.8 0 1,0 7.6,0a3.8,3.8 0 1,0 -7.6,0zM1613.2,688.0a3.8,3.8 0 1,0 7.6,0a3.8,3.8 0 1,0 -7.6,0zM1625.8,688.0a3.8,3.8 0 1,0 7.6,0a3.8,3.8 0 1,0 -7.6,0z" stroke="none"/>
</g>
<g fill="#a89f0c" stroke="#a89f0c">
<polyline points="155.8,688.0 168.4,688.0 181.0,688.0 193.6,688.0 206.2,688.0 218.8,688.0 231.4,688.0 244.0,688.0 256.6,688.0 269.2,688.0 281.8,688.0 294.4,688.0 307.0,688.0 319.6,688.0 332.2,688.0 344.8,688.0 357.4,688.0 370.0,688.0 382.6,688.0 395.2,688.0 407.8,688.0 420.4,688.0 433.0,688.0 445.6,688.0 458.2,688.0 470.8,688.0 483.3,688.0 495.9,688.0 508.5,688.0 521.1,688.0 533.7,688.0 546.3,688.0 558.9,688.0 571.5,688.0 584.1,688.0 596.7,688.0 609.3,688.0 621.9,688.0 634.5,688.0 647.1,688.0 659.7,688.0 672.3,688.0 684.9,688.0 697.5,688.0 710.1,688.0 722.7,688.0 735.3,688.0 747.9,688.0 760.5,688.0 773.1,688.0 785.6,688.0 798.2,684.0 810.8,667.8 823.4,623.4 836.0,655.3 848.6,659.0 861.2,655.3 873.8,657.5 886.4,668.4 899.0,675.3 911.6,680.5 924.2,686.0 936.8,686.1 949.4,686.1 962.0,686.2 974.6,686.2 987.2,686.3 999.8,686.3 1012.4,686.4 1025.0,686.4 1037.6,686.5 1050.2,686.5 1062.8,686.6 1075.4,686.6 1088.0,686.7 1100.5,686.8 1113.1,686.8 1125.7,686.9 1138.3,686.9 1150.9,687.0 1163.5,687.0 1176.1,687.1 1188.7,687.1 1201.3,687.2 1213.9,687.2 1226.5,687.3 1239.1,687.3 1251.7,687.4 1264.3,687.4 1276.9,687.5 1289.5,687.6 1302.1,687.6 1314.7,687.7 1327.3,687.7 1339.9,687.8 1352.5,687.8 1365.1,687.9 1377.7,687.9 1390.3,688.0 1402.9,688.0 1415.4,688.1 1428.0,688.1 1440.6,688.2 1453.2,688.2 1465.8,688.3 1478.4,688.4 1491.0,688.4 1503.6,688.5 1516.2,688.5 1528.8,688.6 1541.4,688.6 1554.0,688.7 1566.6,688.7 1579.2,688.8 1591.8,688.8 1604.4,688.9 1617.0,688.9 1629.6,689.0" fill="none" stroke-width="3" stroke-linejoin="round" stroke-linecap="round"/>
<path d="M152.0,688.0a3.8,3.8 0 1,0 7.6,0a3.8,3.8 0 1,0 -7.6,0zM164.6,688.0a3.8,3.8 0 1,0 7.6,0a3.8,3.8 0 1,0 -7.6,0zM177.2,688.0a3.8,3.8 0 1,0 7.6,0a3.8,3.8 0 1,0 -7.6,0zM189.8,688.0a3.8,3.8 0 1,0 7.6,0a3.8,3.8 0 1,0 -7.6,0zM202.4,688.0a3.8,3.8 0 1,0 7.6,0a3.8,3.8 0 1,0 -7.6,0zM215.0,688.0a3.8,3.8 0 1,0 7.6,0a3.8,3.8 0 1,0 -7.6,0zM227.6,688.0a3.8,3.8 0 1,0 7.6,0a3.8,3.8 0 1,0 -7.6,0zM240.2,688.0a3.8,3.8 0 1,0 7.6,0a3.8,3.8 0 1,0 -7.6,0zM252.8,688.0a3.8,3.8 0 1,0 7.6,0a3.8,3.8 0 1,0 -7.6,0zM265.4,688.0a3.8,3.8 0 1,0 7.6,0a3.8,3.8 0 1,0 -7.6,0zM278.0,688.0a3.8,3.8 0 1,0 7.6,0a3.8,3.8 0 1,0 -7.6,0zM290.6,688.0a3.8,3.8 0 1,0 7.6,0a3.8,3.8 0 1,0 -7.6,0zM303.2,688.0a3.8,3.8 0 1,0 7.6,0a3.8,3.8 0 1,0 -7.6,0zM315.8,688.0a3.8,3.8 0 1,0 7.6,0a3.8,3.8 0 1,0 -7.6,0zM328.4,688.0a3.8,3.8 0 1,0 7.6,0a3.8,3.8 0 1,0 -7.6,0zM341.0,688.0a3.8,3.8 0 1,0 7.6,0a3.8,3.8 0 1,0 -7.6,0zM353.6,688.0a3.8,3.8 0 1,0 7.6,0a3.8,3.8 0 1,0 -7.6,0zM366.2,688.0a3.8,3.8 0 1,0 7.6,0a3.8,3.8 0 1,0 -7.6,0zM378.8,688.0a3.8,3.8 0 1,0 7.6,0a3.8,3.8 0 1,0 -7.6,0zM391.4,688.0a3.8,3.8 0 1,0 7.6,0a3.8,3.8 0 1,0 -7.6,0zM404.0,688.0a3.8,3.8 0 1,0 7.6,0a3.8,3.8 0 1,0 -7.6,0zM416.6,688.0a3.8,3.8 0 1,0 7.6,0a3.8,3.8 0 1,0 -7.6,0zM429.2,688.0a3.8,3.8 0 1,0 7.6,0a3.8,3.8 0 1,0 -7.6,0zM441.8,688.0a3.8,3.8 0 1,0 7.6,0a3.8,3.8 0 1,0 -7.6,0zM454.4,688.0a3.8,3.8 0 1,0 7.6,0a3.8,3.8 0 1,0 -7.6,0zM466.9,688.0a3.8,3.8 0 1,0 7.6,0a3.8,3.8 0 1,0 -7.6,0zM479.5,688.0a3.8,3.8 0 1,0 7.6,0a3.8,3.8 0 1,0 -7.6,0zM492.1,688.0a3.8,3.8 0 1,0 7.6,0a3.8,3.8 0 1,0 -7.6,0zM504.7,688.0a3.8,3.8 0 1,0 7.6,0a3.8,3.8 0 1,0 -7.6,0zM517.3,688.0a3.8,3.8 0 1,0 7.6,0a3.8,3.8 0 1,0 -7.6,0zM529.9,688.0a3.8,3.8 0 1,0 7.6,0a3.8,3.8 0 1,0 -7.6,0zM542.5,688.0a3.8,3.8 0 1,0 7.6,0a3.8,3.8 0 1,0 -7.6,0zM555.1,688.0a3.8,3.8 0 1,0 7.6,0a3.8,3.8 0 1,0 -7.6,0zM567.7,688.0a3.8,3.8 0 1,0 7.6,0a3.8,3.8 0 1,0 -7.6,0zM580.3,688.0a3.8,3.8 0 1,0 7.6,0a3.8,3.8 0 1,0 -7.6,0zM592.9,688.0a3.8,3.8 0 1,0 7.6,0a3.8,3.8 0 1,0 -7.6,0zM605.5,688.0a3.8,3.8 0 1,0 7.6,0a3.8,3.8 0 1,0 -7.6,0zM618.1,688.0a3.8,3.8 0 1,0 7.6,0a3.8,3.8 0 1,0 -7.6,0zM630.7,688.0a3.8,3.8 0 1,0 7.6,0a3.8,3.8 0 1,0 -7.6,0zM643.3,688.0a3.8,3.8 0 1,0 7.6,0a3.8,3.8 0 1,0 -7.6,0zM655.9,688.0a3.8,3.8 0 1,0 7.6,0a3.8,3.8 0 1,0 -7.6,0zM668.5,688.0a3.8,3.8 0 1,0 7.6,0a3.8,3.8 0 1,0 -7.6,0zM681.1,688.0a3.8,3.8 0 1,0 7.6,0a3.8,3.8 0 1,0 -7.6,0zM693.7,688.0a3.8,3.8 0 1,0 7.6,0a3.8,3.8 0 1,0 -7.6,0zM706.3,688.0a3.8,3.8 0 1,0 7.6,0a3.8,3.8 0 1,0 -7.6,0zM718.9,688.0a3.8,3.8 0 1,0 7.6,0a3.8,3.8 0 1,0 -7.6,0zM731.5,688.0a3.8,3.8 0 1,0 7.6,0a3.8,3.8 0 1,0 -7.6,0zM744.1,688.0a3.8,3.8 0 1,0 7.6,0a3.8,3.8 0 1,0 -7.6,0zM756.7,688.0a3.8,3.8 0 1,0 7.6,0a3.8,3.8 0 1,0 -7.6,0zM769.3,688.0a3.8,3.8 0 1,0 7.6,0a3.8,3.8 0 1,0 -7.6,0zM781.9,688.0a3.8,3.8 0 1,0 7.6,0a3.8,3.8 0 1,0 -7.6,0zM794.4,684.0a3.8,3.8 0 1,0 7.6,0a3.8,3.8 0 1,0 -7.6,0zM807.0,667.8a3.8,3.8 0 1,0 7.6,0a3.8,3.8 0 1,0 -7.6,0zM819.6,623.4a3.8,3.8 0 1,0 7.6,0a3.8,3.8 0 1,0 -7.6,0zM832.2,655.3a3.8,3.8 0 1,0 7.6,0a3.8,3.8 0 1,0 -7.6,0zM844.8,659.0a3.8,3.8 0 1,0 7.6,0a3.8,3.8 0 1,0 -7.6,0zM857.4,655.3a3.8,3.8 0 1,0 7.6,0a3.8,3.8 0 1,0 -7.6,0zM870.0,657.5a3.8,3.8 0 1,0 7.6,0a3.8,3.8 0 1,0 -7.6,0zM882.6,668.4a3.8,3.8 0 1,0 7.6,0a3.8,3.8 0 1,0 -7.6,0zM895.2,675.3a3.8,3.8 0 1,0 7.6,0a3.8,3.8 0 1,0 -7.6,0zM907.8,680.5a3.8,3.8 0 1,0 7.6,0a3.8,3.8 0 1,0 -7.6,0zM920.4,686.0a3.8,3.8 0 1,0 7.6,0a3.8,3.8 0 1,0 -7.6,0zM933.0,686.1a3.8,3.8 0 1,0 7.6,0a3.8,3.8 0 1,0 -7.6,0zM945.6,686.1a3.8,3.8 0 1,0 7.6,0a3.8,3.8 0 1,0 -7.6,0zM958.2,686.2a3.8,3.8 0 1,0 7.6,0a3.8,3.8 0 1,0 -7.6,0zM970.8,686.2a3.8,3.8 0 1,0 7.6,0a3.8,3.8 0 1,0 -7.6,0zM983.4,686.3a3.8,3.8 0 1,0 7.6,0a3.8,3.8 0 1,0 -7.6,0zM996.0,686.3a3.8,3.8 0 1,0 7.6,0a3.8,3.8 0 1,0 -7.6,0zM1008.6,686.4a3.8,3.8 0 1,0 7.6,0a3.8,3.8 0 1,0 -7.6,0zM1021.2,686.4a3.8,3.8 0 1,0 7.6,0a3.8,3.8 0 1,0 -7.6,0zM1033.8,686.5a3.8,3.8 0 1,0 7.6,0a3.8,3.8 0 1,0 -7.6,0zM1046.4,686.5a3.8,3.8 0 1,0 7.6,0a3.8,3.8 0 1,0 -7.6,0zM1059.0,686.6a3.8,3.8 0 1,0 7.6,0a3.8,3.8 0 1,0 -7.6,0zM1071.6,686.6a3.8,3.8 0 1,0 7.6,0a3.8,3.8 0 1,0 -7.6,0zM1084.2,686.7a3.8,3.8 0 1,0 7.6,0a3.8,3.8 0 1,0 -7.6,0zM1096.8,686.8a3.8,3.8 0 1,0 7.6,0a3.8,3.8 0 1,0 -7.6,0zM1109.3,686.8a3.8,3.8 0 1,0 7.6,0a3.8,3.8 0 1,0 -7.6,0zM1121.9,686.9a3.8,3.8 0 1,0 7.6,0a3.8,3.8 0 1,0 -7.6,0zM1134.5,686.9a3.8,3.8 0 1,0 7.6,0a3.8,3.8 0 1,0 -7.6,0zM1147.1,687.0a3.8,3.8 0 1,0 7.6,0a3.8,3.8 0 1,0 -7.6,0zM1159.7,687.0a3.8,3.8 0 1,0 7.6,0a3.8,3.8 0 1,0 -7.6,0zM1172.3,687.1a3.8,3.8 0 1,0 7.6,0a3.8,3.8 0 1,0 -7.6,0zM1184.9,687.1a3.8,3.8 0 1,0 7.6,0a3.8,3.8 0 1,0 -7.6,0zM1197.5,687.2a3.8,3.8 0 1,0 7.6,0a3.8,3.8 0 1,0 -7.6,0zM1210.1,687.2a3.8,3.8 0 1,0 7.6,0a3.8,3.8 0 1,0 -7.6,0zM1222.7,687.3a3.8,3.8 0 1,0 7.6,0a3.8,3.8 0 1,0 -7.6,0zM1235.3,687.3a3.8,3.8 0 1,0 7.6,0a3.8,3.8 0 1,0 -7.6,0zM1247.9,687.4a3.8,3.8 0 1,0 7.6,0a3.8,3.8 0 1,0 -7.6,0zM1260.5,687.4a3.8,3.8 0 1,0 7.6,0a3.8,3.8 0 1,0 -7.6,0zM1273.1,687.5a3.8,3.8 0 1,0 7.6,0a3.8,3.8 0 1,0 -7.6,0zM1285.7,687.6a3.8,3.8 0 1,0 7.6,0a3.8,3.8 0 1,0 -7.6,0zM1298.3,687.6a3.8,3.8 0 1,0 7.6,0a3.8,3.8 0 1,0 -7.6,0zM1310.9,687.7a3.8,3.8 0 1,0 7.6,0a3.8,3.8 0 1,0 -7.6,0zM1323.5,687.7a3.8,3.8 0 1,0 7.6,0a3.8,3.8 0 1,0 -7.6,0zM1336.1,687.8a3.8,3.8 0 1,0 7.6,0a3.8,3.8 0 1,0 -7.6,0zM1348.7,687.8a3.8,3.8 0 1,0 7.6,0a3.8,3.8 0 1,0 -7.6,0zM1361.3,687.9a3.8,3.8 0 1,0 7.6,0a3.8,3.8 0 1,0 -7.6,0zM1373.9,687.9a3.8,3.8 0 1,0 7.6,0a3.8,3.8 0 1,0 -7.6,0zM1386.5,688.0a3.8,3.8 0 1,0 7.6,0a3.8,3.8 0 1,0 -7.6,0zM1399.1,688.0a3.8,3.8 0 1,0 7.6,0a3.8,3.8 0 1,0 -7.6,0zM1411.6,688.1a3.8,3.8 0 1,0 7.6,0a3.8,3.8 0 1,0 -7.6,0zM1424.2,688.1a3.8,3.8 0 1,0 7.6,0a3.8,3.8 0 1,0 -7.6,0zM1436.8,688.2a3.8,3.8 0 1,0 7.6,0a3.8,3.8 0 1,0 -7.6,0zM1449.4,688.2a3.8,3.8 0 1,0 7.6,0a3.8,3.8 0 1,0 -7.6,0zM1462.0,688.3a3.8,3.8 0 1,0 7.6,0a3.8,3.8 0 1,0 -7.6,0zM1474.6,688.4a3.8,3.8 0 1,0 7.6,0a3.8,3.8 0 1,0 -7.6,0zM1487.2,688.4a3.8,3.8 0 1,0 7.6,0a3.8,3.8 0 1,0 -7.6,0zM1499.8,688.5a3.8,3.8 0 1,0 7.6,0a3.8,3.8 0 1,0 -7.6,0zM1512.4,688.5a3.8,3.8 0 1,0 7.6,0a3.8,3.8 0 1,0 -7.6,0zM1525.0,688.6a3.8,3.8 0 1,0 7.6,0a3.8,3.8 0 1,0 -7.6,0zM1537.6,688.6a3.8,3.8 0 1,0 7.6,0a3.8,3.8 0 1,0 -7.6,0zM1550.2,688.7a3.8,3.8 0 1,0 7.6,0a3.8,3.8 0 1,0 -7.6,0zM1562.8,688.7a3.8,3.8 0 1,0 7.6,0a3.8,3.8 0 1,0 -7.6,0zM1575.4,688.8a3.8,3.8 0 1,0 7.6,0a3.8,3.8 0 1,0 -7.6,0zM1588.0,688.8a3.8,3.8 0 1,0 7.6,0a3.8,3.8 0 1,0 -7.6,0zM1600.6,688.9a3.8,3.8 0 1,0 7.6,0a3.8,3.8 0 1,0 -7.6,0zM1613.2,688.9a3.8,3.8 0 1,0 7.6,0a3.8,3.8 0 1,0 -7.6,0zM1625.8,689.0a3.8,3.8 0 1,0 7.6,0a3.8,3.8 0 1,0 -7.6,0z" stroke="none"/>
</g>
<g fill="#f58634" stroke="#f58634">
<polyline points="848.6,673.6 861.2,629.5 873.8,563.2 886.4,515.5 899.0,494.8 911.6,543.7 924.2,632.6 936.8,679.5 949.4,678.8 962.0,678.0 974.6,678.2 987.2,678.5 999.8,678.6 1012.4,678.8 1025.0,678.9 1037.6,679.0 1050.2,679.1 1062.8,679.2 1075.4,679.4 1088.0,679.5 1100.5,680.7 1113.1,682.0 1125.7,683.2 1138.3,683.1 1150.9,683.1 1163.5,683.0 1176.1,682.5 1188.7,682.1 1201.3,681.7 1213.9,681.2 1226.5,681.4 1239.1,681.5 1251.7,682.1 1264.3,682.8 1276.9,683.4 1289.5,684.0 1302.1,684.0 1314.7,684.1 1327.3,684.1 1339.9,684.2 1352.5,684.2 1365.1,684.3 1377.7,684.3 1390.3,684.3 1402.9,684.4 1415.4,684.4 1428.0,684.5 1440.6,684.5 1453.2,684.6 1465.8,684.6 1478.4,684.7 1491.0,684.7 1503.6,684.7 1516.2,684.8 1528.8,684.8 1541.4,684.9 1554.0,684.9 1566.6,685.0 1579.2,685.0 1591.8,681.0 1604.4,675.8 1617.0,681.0 1629.6,689.0" fill="none" stroke-width="3" stroke-linejoin="round" stroke-linecap="round"/>
<path d="M844.8,673.6a3.8,3.8 0 1,0 7.6,0a3.8,3.8 0 1,0 -7.6,0zM857.4,629.5a3.8,3.8 0 1,0 7.6,0a3.8,3.8 0 1,0 -7.6,0zM870.0,563.2a3.8,3.8 0 1,0 7.6,0a3.8,3.8 0 1,0 -7.6,0zM882.6,515.5a3.8,3.8 0 1,0 7.6,0a3.8,3.8 0 1,0 -7.6,0zM895.2,494.8a3.8,3.8 0 1,0 7.6,0a3.8,3.8 0 1,0 -7.6,0zM907.8,543.7a3.8,3.8 0 1,0 7.6,0a3.8,3.8 0 1,0 -7.6,0zM920.4,632.6a3.8,3.8 0 1,0 7.6,0a3.8,3.8 0 1,0 -7.6,0zM933.0,679.5a3.8,3.8 0 1,0 7.6,0a3.8,3.8 0 1,0 -7.6,0zM945.6,678.8a3.8,3.8 0 1,0 7.6,0a3.8,3.8 0 1,0 -7.6,0zM958.2,678.0a3.8,3.8 0 1,0 7.6,0a3.8,3.8 0 1,0 -7.6,0zM970.8,678.2a3.8,3.8 0 1,0 7.6,0a3.8,3.8 0 1,0 -7.6,0zM983.4,678.5a3.8,3.8 0 1,0 7.6,0a3.8,3.8 0 1,0 -7.6,0zM996.0,678.6a3.8,3.8 0 1,0 7.6,0a3.8,3.8 0 1,0 -7.6,0zM1008.6,678.8a3.8,3.8 0 1,0 7.6,0a3.8,3.8 0 1,0 -7.6,0zM1021.2,678.9a3.8,3.8 0 1,0 7.6,0a3.8,3.8 0 1,0 -7.6,0zM1033.8,679.0a3.8,3.8 0 1,0 7.6,0a3.8,3.8 0 1,0 -7.6,0zM1046.4,679.1a3.8,3.8 0 1,0 7.6,0a3.8,3.8 0 1,0 -7.6,0zM1059.0,679.2a3.8,3.8 0 1,0 7.6,0a3.8,3.8 0 1,0 -7.6,0zM1071.6,679.4a3.8,3.8 0 1,0 7.6,0a3.8,3.8 0 1,0 -7.6,0zM1084.2,679.5a3.8,3.8 0 1,0 7.6,0a3.8,3.8 0 1,0 -7.6,0zM1096.8,680.7a3.8,3.8 0 1,0 7.6,0a3.8,3.8 0 1,0 -7.6,0zM1109.3,682.0a3.8,3.8 0 1,0 7.6,0a3.8,3.8 0 1,0 -7.6,0zM1121.9,683.2a3.8,3.8 0 1,0 7.6,0a3.8,3.8 0 1,0 -7.6,0zM1134.5,683.1a3.8,3.8 0 1,0 7.6,0a3.8,3.8 0 1,0 -7.6,0zM1147.1,683.1a3.8,3.8 0 1,0 7.6,0a3.8,3.8 0 1,0 -7.6,0zM1159.7,683.0a3.8,3.8 0 1,0 7.6,0a3.8,3.8 0 1,0 -7.6,0zM1172.3,682.5a3.8,3.8 0 1,0 7.6,0a3.8,3.8 0 1,0 -7.6,0zM1184.9,682.1a3.8,3.8 0 1,0 7.6,0a3.8,3.8 0 1,0 -7.6,0zM1197.5,681.7a3.8,3.8 0 1,0 7.6,0a3.8,3.8 0 1,0 -7.6,0zM1210.1,681.2a3.8,3.8 0 1,0 7.6,0a3.8,3.8 0 1,0 -7.6,0zM1222.7,681.4a3.8,3.8 0 1,0 7.6,0a3.8,3.8 0 1,0 -7.6,0zM1235.3,681.5a3.8,3.8 0 1,0 7.6,0a3.8,3.8 0 1,0 -7.6,0zM1247.9,682.1a3.8,3.8 0 1,0 7.6,0a3.8,3.8 0 1,0 -7.6,0zM1260.5,682.8a3.8,3.8 0 1,0 7.6,0a3.8,3.8 0 1,0 -7.6,0zM1273.1,683.4a3.8,3.8 0 1,0 7.6,0a3.8,3.8 0 1,0 -7.6,0zM1285.7,684.0a3.8,3.8 0 1,0 7.6,0a3.8,3.8 0 1,0 -7.6,0zM1298.3,684.0a3.8,3.8 0 1,0 7.6,0a3.8,3.8 0 1,0 -7.6,0zM1310.9,684.1a3.8,3.8 0 1,0 7.6,0a3.8,3.8 0 1,0 -7.6,0zM1323.5,684.1a3.8,3.8 0 1,0 7.6,0a3.8,3.8 0 1,0 -7.6,0zM1336.1,684.2a3.8,3.8 0 1,0 7.6,0a3.8,3.8 0 1,0 -7.6,0zM1348.7,684.2a3.8,3.8 0 1,0 7.6,0a3.8,3.8 0 1,0 -7.6,0zM1361.3,684.3a3.8,3.8 0 1,0 7.6,0a3.8,3.8 0 1,0 -7.6,0zM1373.9,684.3a3.8,3.8 0 1,0 7.6,0a3.8,3.8 0 1,0 -7.6,0zM1386.5,684.3a3.8,3.8 0 1,0 7.6,0a3.8,3.8 0 1,0 -7.6,0zM1399.1,684.4a3.8,3.8 0 1,0 7.6,0a3.8,3.8 0 1,0 -7.6,0zM1411.6,684.4a3.8,3.8 0 1,0 7.6,0a3.8,3.8 0 1,0 -7.6,0zM1424.2,684.5a3.8,3.8 0 1,0 7.6,0a3.8,3.8 0 1,0 -7.6,0zM1436.8,684.5a3.8,3.8 0 1,0 7.6,0a3.8,3.8 0 1,0 -7.6,0zM1449.4,684.6a3.8,3.8 0 1,0 7.6,0a3.8,3.8 0 1,0 -7.6,0zM1462.0,684.6a3.8,3.8 0 1,0 7.6,0a3.8,3.8 0 1,0 -7.6,0zM1474.6,684.7a3.8,3.8 0 1,0 7.6,0a3.8,3.8 0 1,0 -7.6,0zM1487.2,684.7a3.8,3.8 0 1,0 7.6,0a3.8,3.8 0 1,0 -7.6,0zM1499.8,684.7a3.8,3.8 0 1,0 7.6,0a3.8,3.8 0 1,0 -7.6,0zM1512.4,684.8a3.8,3.8 0 1,0 7.6,0a3.8,3.8 0 1,0 -7.6,0zM1525.0,684.8a3.8,3.8 0 1,0 7.6,0a3.8,3.8 0 1,0 -7.6,0zM1537.6,684.9a3.8,3.8 0 1,0 7.6,0a3.8,3.8 0 1,0 -7.6,0zM1550.2,684.9a3.8,3.8 0 1,0 7.6,0a3.8,3.8 0 1,0 -7.6,0zM1562.8,685.0a3.8,3.8 0 1,0 7.6,0a3.8,3.8 0 1,0 -7.6,0zM1575.4,685.0a3.8,3.8 0 1,0 7.6,0a3.8,3.8 0 1,0 -7.6,0zM1588.0,681.0a3.8,3.8 0 1,0 7.6,0a3.8,3.8 0 1,0 -7.6,0zM1600.6,675.8a3.8,3.8 0 1,0 7.6,0a3.8,3.8 0 1,0 -7.6,0zM1613.2,681.0a3.8,3.8 0 1,0 7.6,0a3.8,3.8 0 1,0 -7.6,0zM1625.8,689.0a3.8,3.8 0 1,0 7.6,0a3.8,3.8 0 1,0 -7.6,0z" stroke="none"/>
</g>
<g fill="#9dd9cb" stroke="#9dd9cb">
<polyline points="533.7,683.2 546.3,683.2 558.9,683.3 571.5,683.3 584.1,683.3 596.7,683.4 609.3,683.4 621.9,683.4 634.5,683.4 647.1,683.5 659.7,683.5 672.3,683.5 684.9,683.5 697.5,683.6 710.1,683.6 722.7,683.6 735.3,683.6 747.9,683.7 760.5,683.7 773.1,683.7 785.6,683.8 798.2,683.8 810.8,683.8 823.4,683.8 836.0,683.9 848.6,683.9 861.2,683.9 873.8,683.9 886.4,684.0 899.0,684.0 911.6,669.3 924.2,581.7 936.8,518.4 949.4,589.3 962.0,648.9 974.6,648.9 987.2,638.7 999.8,618.8 1012.4,623.5 1025.0,630.6 1037.6,632.6 1050.2,636.7 1062.8,643.8 1075.4,644.8 1088.0,651.0 1100.5,660.0 1113.1,663.2 1125.7,666.2 1138.3,668.7 1150.9,668.9 1163.5,671.0 1176.1,672.0 1188.7,669.0 1201.3,672.0 1213.9,676.6 1226.5,679.8 1239.1,680.0 1251.7,680.3 1264.3,680.5 1276.9,680.8 1289.5,681.0 1302.1,681.3 1314.7,681.6 1327.3,681.9 1339.9,682.2 1352.5,682.5 1365.1,682.8 1377.7,683.1 1390.3,683.4 1402.9,683.7 1415.4,684.0 1428.0,684.1 1440.6,684.2 1453.2,684.4 1465.8,684.5 1478.4,684.6 1491.0,684.8 1503.6,684.9 1516.2,685.0 1528.8,685.1 1541.4,685.2 1554.0,685.4 1566.6,685.5 1579.2,685.6 1591.8,685.8 1604.4,685.9 1617.0,686.0 1629.6,688.0" fill="none" stroke-width="3" stroke-linejoin="round" stroke-linecap="round"/>
<path d="M529.9,683.2a3.8,3.8 0 1,0 7.6,0a3.8,3.8 0 1,0 -7.6,0zM542.5,683.2a3.8,3.8 0 1,0 7.6,0a3.8,3.8 0 1,0 -7.6,0zM555.1,683.3a3.8,3.8 0 1,0 7.6,0a3.8,3.8 0 1,0 -7.6,0zM567.7,683.3a3.8,3.8 0 1,0 7.6,0a3.8,3.8 0 1,0 -7.6,0zM580.3,683.3a3.8,3.8 0 1,0 7.6,0a3.8,3.8 0 1,0 -7.6,0zM592.9,683.4a3.8,3.8 0 1,0 7.6,0a3.8,3.8 0 1,0 -7.6,0zM605.5,683.4a3.8,3.8 0 1,0 7.6,0a3.8,3.8 0 1,0 -7.6,0zM618.1,683.4a3.8,3.8 0 1,0 7.6,0a3.8,3.8 0 1,0 -7.6,0zM630.7,683.4a3.8,3.8 0 1,0 7.6,0a3.8,3.8 0 1,0 -7.6,0zM643.3,683.5a3.8,3.8 0 1,0 7.6,0a3.8,3.8 0 1,0 -7.6,0zM655.9,683.5a3.8,3.8 0 1,0 7.6,0a3.8,3.8 0 1,0 -7.6,0zM668.5,683.5a3.8,3.8 0 1,0 7.6,0a3.8,3.8 0 1,0 -7.6,0zM681.1,683.5a3.8,3.8 0 1,0 7.6,0a3.8,3.8 0 1,0 -7.6,0zM693.7,683.6a3.8,3.8 0 1,0 7.6,0a3.8,3.8 0 1,0 -7.6,0zM706.3,683.6a3.8,3.8 0 1,0 7.6,0a3.8,3.8 0 1,0 -7.6,0zM718.9,683.6a3.8,3.8 0 1,0 7.6,0a3.8,3.8 0 1,0 -7.6,0zM731.5,683.6a3.8,3.8 0 1,0 7.6,0a3.8,3.8 0 1,0 -7.6,0zM744.1,683.7a3.8,3.8 0 1,0 7.6,0a3.8,3.8 0 1,0 -7.6,0zM756.7,683.7a3.8,3.8 0 1,0 7.6,0a3.8,3.8 0 1,0 -7.6,0zM769.3,683.7a3.8,3.8 0 1,0 7.6,0a3.8,3.8 0 1,0 -7.6,0zM781.9,683.8a3.8,3.8 0 1,0 7.6,0a3.8,3.8 0 1,0 -7.6,0zM794.4,683.8a3.8,3.8 0 1,0 7.6,0a3.8,3.8 0 1,0 -7.6,0zM807.0,683.8a3.8,3.8 0 1,0 7.6,0a3.8,3.8 0 1,0 -7.6,0zM819.6,683.8a3.8,3.8 0 1,0 7.6,0a3.8,3.8 0 1,0 -7.6,0zM832.2,683.9a3.8,3.8 0 1,0 7.6,0a3.8,3.8 0 1,0 -7.6,0zM844.8,683.9a3.8,3.8 0 1,0 7.6,0a3.8,3.8 0 1,0 -7.6,0zM857.4,683.9a3.8,3.8 0 1,0 7.6,0a3.8,3.8 0 1,0 -7.6,0zM870.0,683.9a3.8,3.8 0 1,0 7.6,0a3.8,3.8 0 1,0 -7.6,0zM882.6,684.0a3.8,3.8 0 1,0 7.6,0a3.8,3.8 0 1,0 -7.6,0zM895.2,684.0a3.8,3.8 0 1,0 7.6,0a3.8,3.8 0 1,0 -7.6,0zM907.8,669.3a3.8,3.8 0 1,0 7.6,0a3.8,3.8 0 1,0 -7.6,0zM920.4,581.7a3.8,3.8 0 1,0 7.6,0a3.8,3.8 0 1,0 -7.6,0zM933.0,518.4a3.8,3.8 0 1,0 7.6,0a3.8,3.8 0 1,0 -7.6,0zM945.6,589.3a3.8,3.8 0 1,0 7.6,0a3.8,3.8 0 1,0 -7.6,0zM958.2,648.9a3.8,3.8 0 1,0 7.6,0a3.8,3.8 0 1,0 -7.6,0zM970.8,648.9a3.8,3.8 0 1,0 7.6,0a3.8,3.8 0 1,0 -7.6,0zM983.4,638.7a3.8,3.8 0 1,0 7.6,0a3.8,3.8 0 1,0 -7.6,0zM996.0,618.8a3.8,3.8 0 1,0 7.6,0a3.8,3.8 0 1,0 -7.6,0zM1008.6,623.5a3.8,3.8 0 1,0 7.6,0a3.8,3.8 0 1,0 -7.6,0zM1021.2,630.6a3.8,3.8 0 1,0 7.6,0a3.8,3.8 0 1,0 -7.6,0zM1033.8,632.6a3.8,3.8 0 1,0 7.6,0a3.8,3.8 0 1,0 -7.6,0zM1046.4,636.7a3.8,3.8 0 1,0 7.6,0a3.8,3.8 0 1,0 -7.6,0zM1059.0,643.8a3.8,3.8 0 1,0 7.6,0a3.8,3.8 0 1,0 -7.6,0zM1071.6,644.8a3.8,3.8 0 1,0 7.6,0a3.8,3.8 0 1,0 -7.6,0zM1084.2,651.0a3.8,3.8 0 1,0 7.6,0a3.8,3.8 0 1,0 -7.6,0zM1096.8,660.0a3.8,3.8 0 1,0 7.6,0a3.8,3.8 0 1,0 -7.6,0zM1109.3,663.2a3.8,3.8 0 1,0 7.6,0a3.8,3.8 0 1,0 -7.6,0zM1121.9,666.2a3.8,3.8 0 1,0 7.6,0a3.8,3.8 0 1,0 -7.6,0zM1134.5,668.7a3.8,3.8 0 1,0 7.6,0a3.8,3.8 0 1,0 -7.6,0zM1147.1,668.9a3.8,3.8 0 1,0 7.6,0a3.8,3.8 0 1,0 -7.6,0zM1159.7,671.0a3.8,3.8 0 1,0 7.6,0a3.8,3.8 0 1,0 -7.6,0zM1172.3,672.0a3.8,3.8 0 1,0 7.6,0a3.8,3.8 0 1,0 -7.6,0zM1184.9,669.0a3.8,3.8 0 1,0 7.6,0a3.8,3.8 0 1,0 -7.6,0zM1197.5,672.0a3.8,3.8 0 1,0 7.6,0a3.8,3.8 0 1,0 -7.6,0zM1210.1,676.6a3.8,3.8 0 1,0 7.6,0a3.8,3.8 0 1,0 -7.6,0zM1222.7,679.8a3.8,3.8 0 1,0 7.6,0a3.8,3.8 0 1,0 -7.6,0zM1235.3,680.0a3.8,3.8 0 1,0 7.6,0a3.8,3.8 0 1,0 -7.6,0zM1247.9,680.3a3.8,3.8 0 1,0 7.6,0a3.8,3.8 0 1,0 -7.6,0zM1260.5,680.5a3.8,3.8 0 1,0 7.6,0a3.8,3.8 0 1,0 -7.6,0zM1273.1,680.8a3.8,3.8 0 1,0 7.6,0a3.8,3.8 0 1,0 -7.6,0zM1285.7,681.0a3.8,3.8 0 1,0 7.6,0a3.8,3.8 0 1,0 -7.6,0zM1298.3,681.3a3.8,3.8 0 1,0 7.6,0a3.8,3.8 0 1,0 -7.6,0zM1310.9,681.6a3.8,3.8 0 1,0 7.6,0a3.8,3.8 0 1,0 -7.6,0zM1323.5,681.9a3.8,3.8 0 1,0 7.6,0a3.8,3.8 0 1,0 -7.6,0zM1336.1,682.2a3.8,3.8 0 1,0 7.6,0a3.8,3.8 0 1,0 -7.6,0zM1348.7,682.5a3.8,3.8 0 1,0 7.6,0a3.8,3.8 0 1,0 -7.6,0zM1361.3,682.8a3.8,3.8 0 1,0 7.6,0a3.8,3.8 0 1,0 -7.6,0zM1373.9,683.1a3.8,3.8 0 1,0 7.6,0a3.8,3.8 0 1,0 -7.6,0zM1386.5,683.4a3.8,3.8 0 1,0 7.6,0a3.8,3.8 0 1,0 -7.6,0zM1399.1,683.7a3.8,3.8 0 1,0 7.6,0a3.8,3.8 0 1,0 -7.6,0zM1411.6,684.0a3.8,3.8 0 1,0 7.6,0a3.8,3.8 0 1,0 -7.6,0zM1424.2,684.1a3.8,3.8 0 1,0 7.6,0a3.8,3.8 0 1,0 -7.6,0zM1436.8,684.2a3.8,3.8 0 1,0 7.6,0a3.8,3.8 0 1,0 -7.6,0zM1449.4,684.4a3.8,3.8 0 1,0 7.6,0a3.8,3.8 0 1,0 -7.6,0zM1462.0,684.5a3.8,3.8 0 1,0 7.6,0a3.8,3.8 0 1,0 -7.6,0zM1474.6,684.6a3.8,3.8 0 1,0 7.6,0a3.8,3.8 0 1,0 -7.6,0zM1487.2,684.8a3.8,3.8 0 1,0 7.6,0a3.8,3.8 0 1,0 -7.6,0zM1499.8,684.9a3.8,3.8 0 1,0 7.6,0a3.8,3.8 0 1,0 -7.6,0zM1512.4,685.0a3.8,3.8 0 1,0 7.6,0a3.8,3.8 0 1,0 -7.6,0zM1525.0,685.1a3.8,3.8 0 1,0 7.6,0a3.8,3.8 0 1,0 -7.6,0zM1537.6,685.2a3.8,3.8 0 1,0 7.6,0a3.8,3.8 0 1,0 -7.6,0zM1550.2,685.4a3.8,3.8 0 1,0 7.6,0a3.8,3.8 0 1,0 -7.6,0zM1562.8,685.5a3.8,3.8 0 1,0 7.6,0a3.8,3.8 0 1,0 -7.6,0zM1575.4,685.6a3.8,3.8 0 1,0 7.6,0a3.8,3.8 0 1,0 -7.6,0zM1588.0,685.8a3.8,3.8 0 1,0 7.6,0a3.8,3.8 0 1,0 -7.6,0zM1600.6,685.9a3.8,3.8 0 1,0 7.6,0a3.8,3.8 0 1,0 -7.6,0zM1613.2,686.0a3.8,3.8 0 1,0 7.6,0a3.8,3.8 0 1,0 -7.6,0zM1625.8,688.0a3.8,3.8 0 1,0 7.6,0a3.8,3.8 0 1,0 -7.6,0z" stroke="none"/>
</g>
<g fill="#835b93" stroke="#835b93">
<polyline points="659.7,682.9 672.3,682.9 684.9,683.0 697.5,683.0 710.1,683.1 722.7,683.1 735.3,683.2 747.9,683.2 760.5,683.3 773.1,683.3 785.6,683.4 798.2,683.4 810.8,683.5 823.4,683.5 836.0,683.6 848.6,683.6 861.2,683.7 873.8,683.7 886.4,683.8 899.0,683.8 911.6,683.9 924.2,683.9 936.8,684.0 949.4,680.5 962.0,618.4 974.6,471.9 987.2,399.4 999.8,520.4 1012.4,605.6 1025.0,633.2 1037.6,639.8 1050.2,629.6 1062.8,651.0 1075.4,657.7 1088.0,657.7 1100.5,666.0 1113.1,672.3 1125.7,674.4 1138.3,675.7 1150.9,678.2 1163.5,679.8 1176.1,680.4 1188.7,681.5 1201.3,681.7 1213.9,681.9 1226.5,682.1 1239.1,682.3 1251.7,682.5 1264.3,682.7 1276.9,682.9 1289.5,683.1 1302.1,683.2 1314.7,683.4 1327.3,683.6 1339.9,683.8 1352.5,684.0 1365.1,684.2 1377.7,684.4 1390.3,684.6 1402.9,684.8 1415.4,685.0 1428.0,685.2 1440.6,685.4 1453.2,685.5 1465.8,685.7 1478.4,685.9 1491.0,686.1 1503.6,686.2 1516.2,686.4 1528.8,686.6 1541.4,686.8 1554.0,686.9 1566.6,687.1 1579.2,687.3 1591.8,687.5 1604.4,687.6 1617.0,687.8 1629.6,688.0" fill="none" stroke-width="3" stroke-linejoin="round" stroke-linecap="round"/>
<path d="M655.9,682.9a3.8,3.8 0 1,0 7.6,0a3.8,3.8 0 1,0 -7.6,0zM668.5,682.9a3.8,3.8 0 1,0 7.6,0a3.8,3.8 0 1,0 -7.6,0zM681.1,683.0a3.8,3.8 0 1,0 7.6,0a3.8,3.8 0 1,0 -7.6,0zM693.7,683.0a3.8,3.8 0 1,0 7.6,0a3.8,3.8 0 1,0 -7.6,0zM706.3,683.1a3.8,3.8 0 1,0 7.6,0a3.8,3.8 0 1,0 -7.6,0zM718.9,683.1a3.8,3.8 0 1,0 7.6,0a3.8,3.8 0 1,0 -7.6,0zM731.5,683.2a3.8,3.8 0 1,0 7.6,0a3.8,3.8 0 1,0 -7.6,0zM744.1,683.2a3.8,3.8 0 1,0 7.6,0a3.8,3.8 0 1,0 -7.6,0zM756.7,683.3a3.8,3.8 0 1,0 7.6,0a3.8,3.8 0 1,0 -7.6,0zM769.3,683.3a3.8,3.8 0 1,0 7.6,0a3.8,3.8 0 1,0 -7.6,0zM781.9,683.4a3.8,3.8 0 1,0 7.6,0a3.8,3.8 0 1,0 -7.6,0zM794.4,683.4a3.8,3.8 0 1,0 7.6,0a3.8,3.8 0 1,0 -7.6,0zM807.0,683.5a3.8,3.8 0 1,0 7.6,0a3.8,3.8 0 1,0 -7.6,0zM819.6,683.5a3.8,3.8 0 1,0 7.6,0a3.8,3.8 0 1,0 -7.6,0zM832.2,683.6a3.8,3.8 0 1,0 7.6,0a3.8,3.8 0 1,0 -7.6,0zM844.8,683.6a3.8,3.8 0 1,0 7.6,0a3.8,3.8 0 1,0 -7.6,0zM857.4,683.7a3.8,3.8 0 1,0 7.6,0a3.8,3.8 0 1,0 -7.6,0zM870.0,683.7a3.8,3.8 0 1,0 7.6,0a3.8,3.8 0 1,0 -7.6,0zM882.6,683.8a3.8,3.8 0 1,0 7.6,0a3.8,3.8 0 1,0 -7.6,0zM895.2,683.8a3.8,3.8 0 1,0 7.6,0a3.8,3.8 0 1,0 -7.6,0zM907.8,683.9a3.8,3.8 0 1,0 7.6,0a3.8,3.8 0 1,0 -7.6,0zM920.4,683.9a3.8,3.8 0 1,0 7.6,0a3.8,3.8 0 1,0 -7.6,0zM933.0,684.0a3.8,3.8 0 1,0 7.6,0a3.8,3.8 0 1,0 -7.6,0zM945.6,680.5a3.8,3.8 0 1,0 7.6,0a3.8,3.8 0 1,0 -7.6,0zM958.2,618.4a3.8,3.8 0 1,0 7.6,0a3.8,3.8 0 1,0 -7.6,0zM970.8,471.9a3.8,3.8 0 1,0 7.6,0a3.8,3.8 0 1,0 -7.6,0zM983.4,399.4a3.8,3.8 0 1,0 7.6,0a3.8,3.8 0 1,0 -7.6,0zM996.0,520.4a3.8,3.8 0 1,0 7.6,0a3.8,3.8 0 1,0 -7.6,0zM1008.6,605.6a3.8,3.8 0 1,0 7.6,0a3.8,3.8 0 1,0 -7.6,0zM1021.2,633.2a3.8,3.8 0 1,0 7.6,0a3.8,3.8 0 1,0 -7.6,0zM1033.8,639.8a3.8,3.8 0 1,0 7.6,0a3.8,3.8 0 1,0 -7.6,0zM1046.4,629.6a3.8,3.8 0 1,0 7.6,0a3.8,3.8 0 1,0 -7.6,0zM1059.0,651.0a3.8,3.8 0 1,0 7.6,0a3.8,3.8 0 1,0 -7.6,0zM1071.6,657.7a3.8,3.8 0 1,0 7.6,0a3.8,3.8 0 1,0 -7.6,0zM1084.2,657.7a3.8,3.8 0 1,0 7.6,0a3.8,3.8 0 1,0 -7.6,0zM1096.8,666.0a3.8,3.8 0 1,0 7.6,0a3.8,3.8 0 1,0 -7.6,0zM1109.3,672.3a3.8,3.8 0 1,0 7.6,0a3.8,3.8 0 1,0 -7.6,0zM1121.9,674.4a3.8,3.8 0 1,0 7.6,0a3.8,3.8 0 1,0 -7.6,0zM1134.5,675.7a3.8,3.8 0 1,0 7.6,0a3.8,3.8 0 1,0 -7.6,0zM1147.1,678.2a3.8,3.8 0 1,0 7.6,0a3.8,3.8 0 1,0 -7.6,0zM1159.7,679.8a3.8,3.8 0 1,0 7.6,0a3.8,3.8 0 1,0 -7.6,0zM1172.3,680.4a3.8,3.8 0 1,0 7.6,0a3.8,3.8 0 1,0 -7.6,0zM1184.9,681.5a3.8,3.8 0 1,0 7.6,0a3.8,3.8 0 1,0 -7.6,0zM1197.5,681.7a3.8,3.8 0 1,0 7.6,0a3.8,3.8 0 1,0 -7.6,0zM1210.1,681.9a3.8,3.8 0 1,0 7.6,0a3.8,3.8 0 1,0 -7.6,0zM1222.7,682.1a3.8,3.8 0 1,0 7.6,0a3.8,3.8 0 1,0 -7.6,0zM1235.3,682.3a3.8,3.8 0 1,0 7.6,0a3.8,3.8 0 1,0 -7.6,0zM1247.9,682.5a3.8,3.8 0 1,0 7.6,0a3.8,3.8 0 1,0 -7.6,0zM1260.5,682.7a3.8,3.8 0 1,0 7.6,0a3.8,3.8 0 1,0 -7.6,0zM1273.1,682.9a3.8,3.8 0 1,0 7.6,0a3.8,3.8 0 1,0 -7.6,0zM1285.7,683.1a3.8,3.8 0 1,0 7.6,0a3.8,3.8 0 1,0 -7.6,0zM1298.3,683.2a3.8,3.8 0 1,0 7.6,0a3.8,3.8 0 1,0 -7.6,0zM1310.9,683.4a3.8,3.8 0 1,0 7.6,0a3.8,3.8 0 1,0 -7.6,0zM1323.5,683.6a3.8,3.8 0 1,0 7.6,0a3.8,3.8 0 1,0 -7.6,0zM1336.1,683.8a3.8,3.8 0 1,0 7.6,0a3.8,3.8 0 1,0 -7.6,0zM1348.7,684.0a3.8,3.8 0 1,0 7.6,0a3.8,3.8 0 1,0 -7.6,0zM1361.3,684.2a3.8,3.8 0 1,0 7.6,0a3.8,3.8 0 1,0 -7.6,0zM1373.9,684.4a3.8,3.8 0 1,0 7.6,0a3.8,3.8 0 1,0 -7.6,0zM1386.5,684.6a3.8,3.8 0 1,0 7.6,0a3.8,3.8 0 1,0 -7.6,0zM1399.1,684.8a3.8,3.8 0 1,0 7.6,0a3.8,3.8 0 1,0 -7.6,0zM1411.6,685.0a3.8,3.8 0 1,0 7.6,0a3.8,3.8 0 1,0 -7.6,0zM1424.2,685.2a3.8,3.8 0 1,0 7.6,0a3.8,3.8 0 1,0 -7.6,0zM1436.8,685.4a3.8,3.8 0 1,0 7.6,0a3.8,3.8 0 1,0 -7.6,0zM1449.4,685.5a3.8,3.8 0 1,0 7.6,0a3.8,3.8 0 1,0 -7.6,0zM1462.0,685.7a3.8,3.8 0 1,0 7.6,0a3.8,3.8 0 1,0 -7.6,0zM1474.6,685.9a3.8,3.8 0 1,0 7.6,0a3.8,3.8 0 1,0 -7.6,0zM1487.2,686.1a3.8,3.8 0 1,0 7.6,0a3.8,3.8 0 1,0 -7.6,0zM1499.8,686.2a3.8,3.8 0 1,0 7.6,0a3.8,3.8 0 1,0 -7.6,0zM1512.4,686.4a3.8,3.8 0 1,0 7.6,0a3.8,3.8 0 1,0 -7.6,0zM1525.0,686.6a3.8,3.8 0 1,0 7.6,0a3.8,3.8 0 1,0 -7.6,0zM1537.6,686.8a3.8,3.8 0 1,0 7.6,0a3.8,3.8 0 1,0 -7.6,0zM1550.2,686.9a3.8,3.8 0 1,0 7.6,0a3.8,3.8 0 1,0 -7.6,0zM1562.8,687.1a3.8,3.8 0 1,0 7.6,0a3.8,3.8 0 1,0 -7.6,0zM1575.4,687.3a3.8,3.8 0 1,0 7.6,0a3.8,3.8 0 1,0 -7.6,0zM1588.0,687.5a3.8,3.8 0 1,0 7.6,0a3.8,3.8 0 1,0 -7.6,0zM1600.6,687.6a3.8,3.8 0 1,0 7.6,0a3.8,3.8 0 1,0 -7.6,0zM1613.2,687.8a3.8,3.8 0 1,0 7.6,0a3.8,3.8 0 1,0 -7.6,0zM1625.8,688.0a3.8,3.8 0 1,0 7.6,0a3.8,3.8 0 1,0 -7.6,0z" stroke="none"/>
</g>
<g fill="#f9a8cf" stroke="#f9a8cf">
<polyline points="155.8,665.7 168.4,665.4 181.0,667.4 193.6,665.7 206.2,668.9 218.8,671.3 231.4,670.6 244.0,676.3 256.6,678.8 269.2,679.8 281.8,678.8 294.4,679.8 307.0,679.8 319.6,679.5 332.2,679.3 344.8,679.3 357.4,679.0 370.0,679.0 382.6,679.3 395.2,679.3 407.8,679.5 420.4,679.8 433.0,679.2 445.6,680.3 458.2,680.2 470.8,680.6 483.3,680.0 495.9,680.9 508.5,681.1 521.1,681.4 533.7,681.2 546.3,681.3 558.9,681.8 571.5,681.5 584.1,681.3 596.7,681.0 609.3,681.8 621.9,681.4 634.5,681.5 647.1,680.8 659.7,681.7 672.3,681.3 684.9,681.5 697.5,680.7 710.1,681.5 722.7,681.3 735.3,681.5 747.9,680.8 760.5,681.2 773.1,681.5 785.6,681.3 798.2,681.2 810.8,681.1 823.4,682.0 836.0,681.7 848.6,681.9 861.2,681.5 873.8,682.5 886.4,682.2 899.0,682.6 911.6,681.9 924.2,682.9 936.8,682.8 949.4,683.1 962.0,682.5 974.6,682.6 987.2,682.0 999.8,673.3 1012.4,528.6 1025.0,447.4 1037.6,549.5 1050.2,408.7 1062.8,431.1 1075.4,498.0 1088.0,552.6 1100.5,581.7 1113.1,599.0 1125.7,629.2 1138.3,634.7 1150.9,642.4 1163.5,649.0 1176.1,653.3 1188.7,658.0 1201.3,662.6 1213.9,664.2 1226.5,667.4 1239.1,670.3 1251.7,669.9 1264.3,670.3 1276.9,671.3 1289.5,672.8 1302.1,668.9 1314.7,672.3 1327.3,673.8 1339.9,672.3 1352.5,673.8 1365.1,674.8 1377.7,673.8 1390.3,675.0 1402.9,676.3 1415.4,676.3 1428.0,675.2 1440.6,674.0 1453.2,662.0 1465.8,614.4 1478.4,623.7 1491.0,639.3 1503.6,651.4 1516.2,658.0 1528.8,665.4 1541.4,665.4 1554.0,668.5 1566.6,667.0 1579.2,669.7 1591.8,669.0 1604.4,666.7 1617.0,672.8 1629.6,687.5" fill="none" stroke-width="3" stroke-linejoin="round" stroke-linecap="round"/>
<path d="M152.0,665.7a3.8,3.8 0 1,0 7.6,0a3.8,3.8 0 1,0 -7.6,0zM164.6,665.4a3.8,3.8 0 1,0 7.6,0a3.8,3.8 0 1,0 -7.6,0zM177.2,667.4a3.8,3.8 0 1,0 7.6,0a3.8,3.8 0 1,0 -7.6,0zM189.8,665.7a3.8,3.8 0 1,0 7.6,0a3.8,3.8 0 1,0 -7.6,0zM202.4,668.9a3.8,3.8 0 1,0 7.6,0a3.8,3.8 0 1,0 -7.6,0zM215.0,671.3a3.8,3.8 0 1,0 7.6,0a3.8,3.8 0 1,0 -7.6,0zM227.6,670.6a3.8,3.8 0 1,0 7.6,0a3.8,3.8 0 1,0 -7.6,0zM240.2,676.3a3.8,3.8 0 1,0 7.6,0a3.8,3.8 0 1,0 -7.6,0zM252.8,678.8a3.8,3.8 0 1,0 7.6,0a3.8,3.8 0 1,0 -7.6,0zM265.4,679.8a3.8,3.8 0 1,0 7.6,0a3.8,3.8 0 1,0 -7.6,0zM278.0,678.8a3.8,3.8 0 1,0 7.6,0a3.8,3.8 0 1,0 -7.6,0zM290.6,679.8a3.8,3.8 0 1,0 7.6,0a3.8,3.8 0 1,0 -7.6,0zM303.2,679.8a3.8,3.8 0 1,0 7.6,0a3.8,3.8 0 1,0 -7.6,0zM315.8,679.5a3.8,3.8 0 1,0 7.6,0a3.8,3.8 0 1,0 -7.6,0zM328.4,679.3a3.8,3.8 0 1,0 7.6,0a3.8,3.8 0 1,0 -7.6,0zM341.0,679.3a3.8,3.8 0 1,0 7.6,0a3.8,3.8 0 1,0 -7.6,0zM353.6,679.0a3.8,3.8 0 1,0 7.6,0a3.8,3.8 0 1,0 -7.6,0zM366.2,679.0a3.8,3.8 0 1,0 7.6,0a3.8,3.8 0 1,0 -7.6,0zM378.8,679.3a3.8,3.8 0 1,0 7.6,0a3.8,3.8 0 1,0 -7.6,0zM391.4,679.3a3.8,3.8 0 1,0 7.6,0a3.8,3.8 0 1,0 -7.6,0zM404.0,679.5a3.8,3.8 0 1,0 7.6,0a3.8,3.8 0 1,0 -7.6,0zM416.6,679.8a3.8,3.8 0 1,0 7.6,0a3.8,3.8 0 1,0 -7.6,0zM429.2,679.2a3.8,3.8 0 1,0 7.6,0a3.8,3.8 0 1,0 -7.6,0zM441.8,680.3a3.8,3.8 0 1,0 7.6,0a3.8,3.8 0 1,0 -7.6,0zM454.4,680.2a3.8,3.8 0 1,0 7.6,0a3.8,3.8 0 1,0 -7.6,0zM466.9,680.6a3.8,3.8 0 1,0 7.6,0a3.8,3.8 0 1,0 -7.6,0zM479.5,680.0a3.8,3.8 0 1,0 7.6,0a3.8,3.8 0 1,0 -7.6,0zM492.1,680.9a3.8,3.8 0 1,0 7.6,0a3.8,3.8 0 1,0 -7.6,0zM504.7,681.1a3.8,3.8 0 1,0 7.6,0a3.8,3.8 0 1,0 -7.6,0zM517.3,681.4a3.8,3.8 0 1,0 7.6,0a3.8,3.8 0 1,0 -7.6,0zM529.9,681.2a3.8,3.8 0 1,0 7.6,0a3.8,3.8 0 1,0 -7.6,0zM542.5,681.3a3.8,3.8 0 1,0 7.6,0a3.8,3.8 0 1,0 -7.6,0zM555.1,681.8a3.8,3.8 0 1,0 7.6,0a3.8,3.8 0 1,0 -7.6,0zM567.7,681.5a3.8,3.8 0 1,0 7.6,0a3.8,3.8 0 1,0 -7.6,0zM580.3,681.3a3.8,3.8 0 1,0 7.6,0a3.8,3.8 0 1,0 -7.6,0zM592.9,681.0a3.8,3.8 0 1,0 7.6,0a3.8,3.8 0 1,0 -7.6,0zM605.5,681.8a3.8,3.8 0 1,0 7.6,0a3.8,3.8 0 1,0 -7.6,0zM618.1,681.4a3.8,3.8 0 1,0 7.6,0a3.8,3.8 0 1,0 -7.6,0zM630.7,681.5a3.8,3.8 0 1,0 7.6,0a3.8,3.8 0 1,0 -7.6,0zM643.3,680.8a3.8,3.8 0 1,0 7.6,0a3.8,3.8 0 1,0 -7.6,0zM655.9,681.7a3.8,3.8 0 1,0 7.6,0a3.8,3.8 0 1,0 -7.6,0zM668.5,681.3a3.8,3.8 0 1,0 7.6,0a3.8,3.8 0 1,0 -7.6,0zM681.1,681.5a3.8,3.8 0 1,0 7.6,0a3.8,3.8 0 1,0 -7.6,0zM693.7,680.7a3.8,3.8 0 1,0 7.6,0a3.8,3.8 0 1,0 -7.6,0zM706.3,681.5a3.8,3.8 0 1,0 7.6,0a3.8,3.8 0 1,0 -7.6,0zM718.9,681.3a3.8,3.8 0 1,0 7.6,0a3.8,3.8 0 1,0 -7.6,0zM731.5,681.5a3.8,3.8 0 1,0 7.6,0a3.8,3.8 0 1,0 -7.6,0zM744.1,680.8a3.8,3.8 0 1,0 7.6,0a3.8,3.8 0 1,0 -7.6,0zM756.7,681.2a3.8,3.8 0 1,0 7.6,0a3.8,3.8 0 1,0 -7.6,0zM769.3,681.5a3.8,3.8 0 1,0 7.6,0a3.8,3.8 0 1,0 -7.6,0zM781.9,681.3a3.8,3.8 0 1,0 7.6,0a3.8,3.8 0 1,0 -7.6,0zM794.4,681.2a3.8,3.8 0 1,0 7.6,0a3.8,3.8 0 1,0 -7.6,0zM807.0,681.1a3.8,3.8 0 1,0 7.6,0a3.8,3.8 0 1,0 -7.6,0zM819.6,682.0a3.8,3.8 0 1,0 7.6,0a3.8,3.8 0 1,0 -7.6,0zM832.2,681.7a3.8,3.8 0 1,0 7.6,0a3.8,3.8 0 1,0 -7.6,0zM844.8,681.9a3.8,3.8 0 1,0 7.6,0a3.8,3.8 0 1,0 -7.6,0zM857.4,681.5a3.8,3.8 0 1,0 7.6,0a3.8,3.8 0 1,0 -7.6,0zM870.0,682.5a3.8,3.8 0 1,0 7.6,0a3.8,3.8 0 1,0 -7.6,0zM882.6,682.2a3.8,3.8 0 1,0 7.6,0a3.8,3.8 0 1,0 -7.6,0zM895.2,682.6a3.8,3.8 0 1,0 7.6,0a3.8,3.8 0 1,0 -7.6,0zM907.8,681.9a3.8,3.8 0 1,0 7.6,0a3.8,3.8 0 1,0 -7.6,0zM920.4,682.9a3.8,3.8 0 1,0 7.6,0a3.8,3.8 0 1,0 -7.6,0zM933.0,682.8a3.8,3.8 0 1,0 7.6,0a3.8,3.8 0 1,0 -7.6,0zM945.6,683.1a3.8,3.8 0 1,0 7.6,0a3.8,3.8 0 1,0 -7.6,0zM958.2,682.5a3.8,3.8 0 1,0 7.6,0a3.8,3.8 0 1,0 -7.6,0zM970.8,682.6a3.8,3.8 0 1,0 7.6,0a3.8,3.8 0 1,0 -7.6,0zM983.4,682.0a3.8,3.8 0 1,0 7.6,0a3.8,3.8 0 1,0 -7.6,0zM996.0,673.3a3.8,3.8 0 1,0 7.6,0a3.8,3.8 0 1,0 -7.6,0zM1008.6,528.6a3.8,3.8 0 1,0 7.6,0a3.8,3.8 0 1,0 -7.6,0zM1021.2,447.4a3.8,3.8 0 1,0 7.6,0a3.8,3.8 0 1,0 -7.6,0zM1033.8,549.5a3.8,3.8 0 1,0 7.6,0a3.8,3.8 0 1,0 -7.6,0zM1046.4,408.7a3.8,3.8 0 1,0 7.6,0a3.8,3.8 0 1,0 -7.6,0zM1059.0,431.1a3.8,3.8 0 1,0 7.6,0a3.8,3.8 0 1,0 -7.6,0zM1071.6,498.0a3.8,3.8 0 1,0 7.6,0a3.8,3.8 0 1,0 -7.6,0zM1084.2,552.6a3.8,3.8 0 1,0 7.6,0a3.8,3.8 0 1,0 -7.6,0zM1096.8,581.7a3.8,3.8 0 1,0 7.6,0a3.8,3.8 0 1,0 -7.6,0zM1109.3,599.0a3.8,3.8 0 1,0 7.6,0a3.8,3.8 0 1,0 -7.6,0zM1121.9,629.2a3.8,3.8 0 1,0 7.6,0a3.8,3.8 0 1,0 -7.6,0zM1134.5,634.7a3.8,3.8 0 1,0 7.6,0a3.8,3.8 0 1,0 -7.6,0zM1147.1,642.4a3.8,3.8 0 1,0 7.6,0a3.8,3.8 0 1,0 -7.6,0zM1159.7,649.0a3.8,3.8 0 1,0 7.6,0a3.8,3.8 0 1,0 -7.6,0zM1172.3,653.3a3.8,3.8 0 1,0 7.6,0a3.8,3.8 0 1,0 -7.6,0zM1184.9,658.0a3.8,3.8 0 1,0 7.6,0a3.8,3.8 0 1,0 -7.6,0zM1197.5,662.6a3.8,3.8 0 1,0 7.6,0a3.8,3.8 0 1,0 -7.6,0zM1210.1,664.2a3.8,3.8 0 1,0 7.6,0a3.8,3.8 0 1,0 -7.6,0zM1222.7,667.4a3.8,3.8 0 1,0 7.6,0a3.8,3.8 0 1,0 -7.6,0zM1235.3,670.3a3.8,3.8 0 1,0 7.6,0a3.8,3.8 0 1,0 -7.6,0zM1247.9,669.9a3.8,3.8 0 1,0 7.6,0a3.8,3.8 0 1,0 -7.6,0zM1260.5,670.3a3.8,3.8 0 1,0 7.6,0a3.8,3.8 0 1,0 -7.6,0zM1273.1,671.3a3.8,3.8 0 1,0 7.6,0a3.8,3.8 0 1,0 -7.6,0zM1285.7,672.8a3.8,3.8 0 1,0 7.6,0a3.8,3.8 0 1,0 -7.6,0zM1298.3,668.9a3.8,3.8 0 1,0 7.6,0a3.8,3.8 0 1,0 -7.6,0zM1310.9,672.3a3.8,3.8 0 1,0 7.6,0a3.8,3.8 0 1,0 -7.6,0zM1323.5,673.8a3.8,3.8 0 1,0 7.6,0a3.8,3.8 0 1,0 -7.6,0zM1336.1,672.3a3.8,3.8 0 1,0 7.6,0a3.8,3.8 0 1,0 -7.6,0zM1348.7,673.8a3.8,3.8 0 1,0 7.6,0a3.8,3.8 0 1,0 -7.6,0zM1361.3,674.8a3.8,3.8 0 1,0 7.6,0a3.8,3.8 0 1,0 -7.6,0zM1373.9,673.8a3.8,3.8 0 1,0 7.6,0a3.8,3.8 0 1,0 -7.6,0zM1386.5,675.0a3.8,3.8 0 1,0 7.6,0a3.8,3.8 0 1,0 -7.6,0zM1399.1,676.3a3.8,3.8 0 1,0 7.6,0a3.8,3.8 0 1,0 -7.6,0zM1411.6,676.3a3.8,3.8 0 1,0 7.6,0a3.8,3.8 0 1,0 -7.6,0zM1424.2,675.2a3.8,3.8 0 1,0 7.6,0a3.8,3.8 0 1,0 -7.6,0zM1436.8,674.0a3.8,3.8 0 1,0 7.6,0a3.8,3.8 0 1,0 -7.6,0zM1449.4,662.0a3.8,3.8 0 1,0 7.6,0a3.8,3.8 0 1,0 -7.6,0zM1462.0,614.4a3.8,3.8 0 1,0 7.6,0a3.8,3.8 0 1,0 -7.6,0zM1474.6,623.7a3.8,3.8 0 1,0 7.6,0a3.8,3.8 0 1,0 -7.6,0zM1487.2,639.3a3.8,3.8 0 1,0 7.6,0a3.8,3.8 0 1,0 -7.6,0zM1499.8,651.4a3.8,3.8 0 1,0 7.6,0a3.8,3.8 0 1,0 -7.6,0zM1512.4,658.0a3.8,3.8 0 1,0 7.6,0a3.8,3.8 0 1,0 -7.6,0zM1525.0,665.4a3.8,3.8 0 1,0 7.6,0a3.8,3.8 0 1,0 -7.6,0zM1537.6,665.4a3.8,3.8 0 1,0 7.6,0a3.8,3.8 0 1,0 -7.6,0zM1550.2,668.5a3.8,3.8 0 1,0 7.6,0a3.8,3.8 0 1,0 -7.6,0zM1562.8,667.0a3.8,3.8 0 1,0 7.6,0a3.8,3.8 0 1,0 -7.6,0zM1575.4,669.7a3.8,3.8 0 1,0 7.6,0a3.8,3.8 0 1,0 -7.6,0zM1588.0,669.0a3.8,3.8 0 1,0 7.6,0a3.8,3.8 0 1,0 -7.6,0zM1600.6,666.7a3.8,3.8 0 1,0 7.6,0a3.8,3.8 0 1,0 -7.6,0zM1613.2,672.8a3.8,3.8 0 1,0 7.6,0a3.8,3.8 0 1,0 -7.6,0zM1625.8,687.5a3.8,3.8 0 1,0 7.6,0a3.8,3.8 0 1,0 -7.6,0z" stroke="none"/>
</g>
<g fill="#b5d21a" stroke="#b5d21a">
<polyline points="785.6,685.4 798.2,685.3 810.8,685.2 823.4,685.1 836.0,685.1 848.6,685.0 861.2,684.9 873.8,684.9 886.4,684.8 899.0,684.7 911.6,684.7 924.2,684.6 936.8,684.5 949.4,684.5 962.0,684.4 974.6,684.3 987.2,684.3 999.8,684.2 1012.4,684.1 1025.0,684.1 1037.6,684.0 1050.2,682.2 1062.8,680.5 1075.4,681.5 1088.0,680.5 1100.5,662.2 1113.1,619.4 1125.7,553.2 1138.3,482.7 1150.9,634.6 1163.5,660.0 1176.1,665.8 1188.7,651.7 1201.3,656.4 1213.9,664.2 1226.5,672.0 1239.1,676.6 1251.7,680.0 1264.3,684.0 1276.9,684.2 1289.5,684.3 1302.1,684.5 1314.7,684.7 1327.3,684.9 1339.9,685.0 1352.5,685.2 1365.1,685.4 1377.7,685.6 1390.3,685.7 1402.9,685.9 1415.4,686.1 1428.0,686.2 1440.6,686.4 1453.2,686.6 1465.8,686.8 1478.4,686.9 1491.0,687.1 1503.6,687.3 1516.2,687.4 1528.8,687.6 1541.4,687.8 1554.0,688.0 1566.6,688.1 1579.2,688.3 1591.8,688.5 1604.4,688.7 1617.0,688.8 1629.6,689.0" fill="none" stroke-width="3" stroke-linejoin="round" stroke-linecap="round"/>
<path d="M781.9,685.4a3.8,3.8 0 1,0 7.6,0a3.8,3.8 0 1,0 -7.6,0zM794.4,685.3a3.8,3.8 0 1,0 7.6,0a3.8,3.8 0 1,0 -7.6,0zM807.0,685.2a3.8,3.8 0 1,0 7.6,0a3.8,3.8 0 1,0 -7.6,0zM819.6,685.1a3.8,3.8 0 1,0 7.6,0a3.8,3.8 0 1,0 -7.6,0zM832.2,685.1a3.8,3.8 0 1,0 7.6,0a3.8,3.8 0 1,0 -7.6,0zM844.8,685.0a3.8,3.8 0 1,0 7.6,0a3.8,3.8 0 1,0 -7.6,0zM857.4,684.9a3.8,3.8 0 1,0 7.6,0a3.8,3.8 0 1,0 -7.6,0zM870.0,684.9a3.8,3.8 0 1,0 7.6,0a3.8,3.8 0 1,0 -7.6,0zM882.6,684.8a3.8,3.8 0 1,0 7.6,0a3.8,3.8 0 1,0 -7.6,0zM895.2,684.7a3.8,3.8 0 1,0 7.6,0a3.8,3.8 0 1,0 -7.6,0zM907.8,684.7a3.8,3.8 0 1,0 7.6,0a3.8,3.8 0 1,0 -7.6,0zM920.4,684.6a3.8,3.8 0 1,0 7.6,0a3.8,3.8 0 1,0 -7.6,0zM933.0,684.5a3.8,3.8 0 1,0 7.6,0a3.8,3.8 0 1,0 -7.6,0zM945.6,684.5a3.8,3.8 0 1,0 7.6,0a3.8,3.8 0 1,0 -7.6,0zM958.2,684.4a3.8,3.8 0 1,0 7.6,0a3.8,3.8 0 1,0 -7.6,0zM970.8,684.3a3.8,3.8 0 1,0 7.6,0a3.8,3.8 0 1,0 -7.6,0zM983.4,684.3a3.8,3.8 0 1,0 7.6,0a3.8,3.8 0 1,0 -7.6,0zM996.0,684.2a3.8,3.8 0 1,0 7.6,0a3.8,3.8 0 1,0 -7.6,0zM1008.6,684.1a3.8,3.8 0 1,0 7.6,0a3.8,3.8 0 1,0 -7.6,0zM1021.2,684.1a3.8,3.8 0 1,0 7.6,0a3.8,3.8 0 1,0 -7.6,0zM1033.8,684.0a3.8,3.8 0 1,0 7.6,0a3.8,3.8 0 1,0 -7.6,0zM1046.4,682.2a3.8,3.8 0 1,0 7.6,0a3.8,3.8 0 1,0 -7.6,0zM1059.0,680.5a3.8,3.8 0 1,0 7.6,0a3.8,3.8 0 1,0 -7.6,0zM1071.6,681.5a3.8,3.8 0 1,0 7.6,0a3.8,3.8 0 1,0 -7.6,0zM1084.2,680.5a3.8,3.8 0 1,0 7.6,0a3.8,3.8 0 1,0 -7.6,0zM1096.8,662.2a3.8,3.8 0 1,0 7.6,0a3.8,3.8 0 1,0 -7.6,0zM1109.3,619.4a3.8,3.8 0 1,0 7.6,0a3.8,3.8 0 1,0 -7.6,0zM1121.9,553.2a3.8,3.8 0 1,0 7.6,0a3.8,3.8 0 1,0 -7.6,0zM1134.5,482.7a3.8,3.8 0 1,0 7.6,0a3.8,3.8 0 1,0 -7.6,0zM1147.1,634.6a3.8,3.8 0 1,0 7.6,0a3.8,3.8 0 1,0 -7.6,0zM1159.7,660.0a3.8,3.8 0 1,0 7.6,0a3.8,3.8 0 1,0 -7.6,0zM1172.3,665.8a3.8,3.8 0 1,0 7.6,0a3.8,3.8 0 1,0 -7.6,0zM1184.9,651.7a3.8,3.8 0 1,0 7.6,0a3.8,3.8 0 1,0 -7.6,0zM1197.5,656.4a3.8,3.8 0 1,0 7.6,0a3.8,3.8 0 1,0 -7.6,0zM1210.1,664.2a3.8,3.8 0 1,0 7.6,0a3.8,3.8 0 1,0 -7.6,0zM1222.7,672.0a3.8,3.8 0 1,0 7.6,0a3.8,3.8 0 1,0 -7.6,0zM1235.3,676.6a3.8,3.8 0 1,0 7.6,0a3.8,3.8 0 1,0 -7.6,0zM1247.9,680.0a3.8,3.8 0 1,0 7.6,0a3.8,3.8 0 1,0 -7.6,0zM1260.5,684.0a3.8,3.8 0 1,0 7.6,0a3.8,3.8 0 1,0 -7.6,0zM1273.1,684.2a3.8,3.8 0 1,0 7.6,0a3.8,3.8 0 1,0 -7.6,0zM1285.7,684.3a3.8,3.8 0 1,0 7.6,0a3.8,3.8 0 1,0 -7.6,0zM1298.3,684.5a3.8,3.8 0 1,0 7.6,0a3.8,3.8 0 1,0 -7.6,0zM1310.9,684.7a3.8,3.8 0 1,0 7.6,0a3.8,3.8 0 1,0 -7.6,0zM1323.5,684.9a3.8,3.8 0 1,0 7.6,0a3.8,3.8 0 1,0 -7.6,0zM1336.1,685.0a3.8,3.8 0 1,0 7.6,0a3.8,3.8 0 1,0 -7.6,0zM1348.7,685.2a3.8,3.8 0 1,0 7.6,0a3.8,3.8 0 1,0 -7.6,0zM1361.3,685.4a3.8,3.8 0 1,0 7.6,0a3.8,3.8 0 1,0 -7.6,0zM1373.9,685.6a3.8,3.8 0 1,0 7.6,0a3.8,3.8 0 1,0 -7.6,0zM1386.5,685.7a3.8,3.8 0 1,0 7.6,0a3.8,3.8 0 1,0 -7.6,0zM1399.1,685.9a3.8,3.8 0 1,0 7.6,0a3.8,3.8 0 1,0 -7.6,0zM1411.6,686.1a3.8,3.8 0 1,0 7.6,0a3.8,3.8 0 1,0 -7.6,0zM1424.2,686.2a3.8,3.8 0 1,0 7.6,0a3.8,3.8 0 1,0 -7.6,0zM1436.8,686.4a3.8,3.8 0 1,0 7.6,0a3.8,3.8 0 1,0 -7.6,0zM1449.4,686.6a3.8,3.8 0 1,0 7.6,0a3.8,3.8 0 1,0 -7.6,0zM1462.0,686.8a3.8,3.8 0 1,0 7.6,0a3.8,3.8 0 1,0 -7.6,0zM1474.6,686.9a3.8,3.8 0 1,0 7.6,0a3.8,3.8 0 1,0 -7.6,0zM1487.2,687.1a3.8,3.8 0 1,0 7.6,0a3.8,3.8 0 1,0 -7.6,0zM1499.8,687.3a3.8,3.8 0 1,0 7.6,0a3.8,3.8 0 1,0 -7.6,0zM1512.4,687.4a3.8,3.8 0 1,0 7.6,0a3.8,3.8 0 1,0 -7.6,0zM1525.0,687.6a3.8,3.8 0 1,0 7.6,0a3.8,3.8 0 1,0 -7.6,0zM1537.6,687.8a3.8,3.8 0 1,0 7.6,0a3.8,3.8 0 1,0 -7.6,0zM1550.2,688.0a3.8,3.8 0 1,0 7.6,0a3.8,3.8 0 1,0 -7.6,0zM1562.8,688.1a3.8,3.8 0 1,0 7.6,0a3.8,3.8 0 1,0 -7.6,0zM1575.4,688.3a3.8,3.8 0 1,0 7.6,0a3.8,3.8 0 1,0 -7.6,0zM1588.0,688.5a3.8,3.8 0 1,0 7.6,0a3.8,3.8 0 1,0 -7.6,0zM1600.6,688.7a3.8,3.8 0 1,0 7.6,0a3.8,3.8 0 1,0 -7.6,0zM1613.2,688.8a3.8,3.8 0 1,0 7.6,0a3.8,3.8 0 1,0 -7.6,0zM1625.8,689.0a3.8,3.8 0 1,0 7.6,0a3.8,3.8 0 1,0 -7.6,0z" stroke="none"/>
</g>
<g fill="#c9950c" stroke="#c9950c">
<polyline points="911.6,685.0 924.2,685.1 936.8,685.1 949.4,685.2 962.0,685.2 974.6,685.3 987.2,685.3 999.8,685.4 1012.4,685.4 1025.0,685.5 1037.6,685.6 1050.2,685.6 1062.8,685.7 1075.4,685.7 1088.0,685.8 1100.5,685.8 1113.1,685.9 1125.7,685.9 1138.3,686.0 1150.9,681.3 1163.5,650.2 1176.1,580.7 1188.7,573.0 1201.3,651.7 1213.9,661.0 1226.5,672.0 1239.1,676.6 1251.7,673.5 1264.3,678.2 1276.9,681.3 1289.5,685.0 1302.1,685.5 1314.7,686.0 1327.3,686.5 1339.9,687.0 1352.5,687.5 1365.1,688.0 1377.7,688.5 1390.3,689.0 1402.9,689.5 1415.4,690.0 1428.0,690.1 1440.6,690.1 1453.2,690.2 1465.8,690.2 1478.4,690.3 1491.0,690.4 1503.6,690.4 1516.2,690.5 1528.8,690.5 1541.4,690.6 1554.0,690.6 1566.6,690.7 1579.2,690.8 1591.8,690.8 1604.4,690.9 1617.0,690.9 1629.6,691.0" fill="none" stroke-width="3" stroke-linejoin="round" stroke-linecap="round"/>
<path d="M907.8,685.0a3.8,3.8 0 1,0 7.6,0a3.8,3.8 0 1,0 -7.6,0zM920.4,685.1a3.8,3.8 0 1,0 7.6,0a3.8,3.8 0 1,0 -7.6,0zM933.0,685.1a3.8,3.8 0 1,0 7.6,0a3.8,3.8 0 1,0 -7.6,0zM945.6,685.2a3.8,3.8 0 1,0 7.6,0a3.8,3.8 0 1,0 -7.6,0zM958.2,685.2a3.8,3.8 0 1,0 7.6,0a3.8,3.8 0 1,0 -7.6,0zM970.8,685.3a3.8,3.8 0 1,0 7.6,0a3.8,3.8 0 1,0 -7.6,0zM983.4,685.3a3.8,3.8 0 1,0 7.6,0a3.8,3.8 0 1,0 -7.6,0zM996.0,685.4a3.8,3.8 0 1,0 7.6,0a3.8,3.8 0 1,0 -7.6,0zM1008.6,685.4a3.8,3.8 0 1,0 7.6,0a3.8,3.8 0 1,0 -7.6,0zM1021.2,685.5a3.8,3.8 0 1,0 7.6,0a3.8,3.8 0 1,0 -7.6,0zM1033.8,685.6a3.8,3.8 0 1,0 7.6,0a3.8,3.8 0 1,0 -7.6,0zM1046.4,685.6a3.8,3.8 0 1,0 7.6,0a3.8,3.8 0 1,0 -7.6,0zM1059.0,685.7a3.8,3.8 0 1,0 7.6,0a3.8,3.8 0 1,0 -7.6,0zM1071.6,685.7a3.8,3.8 0 1,0 7.6,0a3.8,3.8 0 1,0 -7.6,0zM1084.2,685.8a3.8,3.8 0 1,0 7.6,0a3.8,3.8 0 1,0 -7.6,0zM1096.8,685.8a3.8,3.8 0 1,0 7.6,0a3.8,3.8 0 1,0 -7.6,0zM1109.3,685.9a3.8,3.8 0 1,0 7.6,0a3.8,3.8 0 1,0 -7.6,0zM1121.9,685.9a3.8,3.8 0 1,0 7.6,0a3.8,3.8 0 1,0 -7.6,0zM1134.5,686.0a3.8,3.8 0 1,0 7.6,0a3.8,3.8 0 1,0 -7.6,0zM1147.1,681.3a3.8,3.8 0 1,0 7.6,0a3.8,3.8 0 1,0 -7.6,0zM1159.7,650.2a3.8,3.8 0 1,0 7.6,0a3.8,3.8 0 1,0 -7.6,0zM1172.3,580.7a3.8,3.8 0 1,0 7.6,0a3.8,3.8 0 1,0 -7.6,0zM1184.9,573.0a3.8,3.8 0 1,0 7.6,0a3.8,3.8 0 1,0 -7.6,0zM1197.5,651.7a3.8,3.8 0 1,0 7.6,0a3.8,3.8 0 1,0 -7.6,0zM1210.1,661.0a3.8,3.8 0 1,0 7.6,0a3.8,3.8 0 1,0 -7.6,0zM1222.7,672.0a3.8,3.8 0 1,0 7.6,0a3.8,3.8 0 1,0 -7.6,0zM1235.3,676.6a3.8,3.8 0 1,0 7.6,0a3.8,3.8 0 1,0 -7.6,0zM1247.9,673.5a3.8,3.8 0 1,0 7.6,0a3.8,3.8 0 1,0 -7.6,0zM1260.5,678.2a3.8,3.8 0 1,0 7.6,0a3.8,3.8 0 1,0 -7.6,0zM1273.1,681.3a3.8,3.8 0 1,0 7.6,0a3.8,3.8 0 1,0 -7.6,0zM1285.7,685.0a3.8,3.8 0 1,0 7.6,0a3.8,3.8 0 1,0 -7.6,0zM1298.3,685.5a3.8,3.8 0 1,0 7.6,0a3.8,3.8 0 1,0 -7.6,0zM1310.9,686.0a3.8,3.8 0 1,0 7.6,0a3.8,3.8 0 1,0 -7.6,0zM1323.5,686.5a3.8,3.8 0 1,0 7.6,0a3.8,3.8 0 1,0 -7.6,0zM1336.1,687.0a3.8,3.8 0 1,0 7.6,0a3.8,3.8 0 1,0 -7.6,0zM1348.7,687.5a3.8,3.8 0 1,0 7.6,0a3.8,3.8 0 1,0 -7.6,0zM1361.3,688.0a3.8,3.8 0 1,0 7.6,0a3.8,3.8 0 1,0 -7.6,0zM1373.9,688.5a3.8,3.8 0 1,0 7.6,0a3.8,3.8 0 1,0 -7.6,0zM1386.5,689.0a3.8,3.8 0 1,0 7.6,0a3.8,3.8 0 1,0 -7.6,0zM1399.1,689.5a3.8,3.8 0 1,0 7.6,0a3.8,3.8 0 1,0 -7.6,0zM1411.6,690.0a3.8,3.8 0 1,0 7.6,0a3.8,3.8 0 1,0 -7.6,0zM1424.2,690.1a3.8,3.8 0 1,0 7.6,0a3.8,3.8 0 1,0 -7.6,0zM1436.8,690.1a3.8,3.8 0 1,0 7.6,0a3.8,3.8 0 1,0 -7.6,0zM1449.4,690.2a3.8,3.8 0 1,0 7.6,0a3.8,3.8 0 1,0 -7.6,0zM1462.0,690.2a3.8,3.8 0 1,0 7.6,0a3.8,3.8 0 1,0 -7.6,0zM1474.6,690.3a3.8,3.8 0 1,0 7.6,0a3.8,3.8 0 1,0 -7.6,0zM1487.2,690.4a3.8,3.8 0 1,0 7.6,0a3.8,3.8 0 1,0 -7.6,0zM1499.8,690.4a3.8,3.8 0 1,0 7.6,0a3.8,3.8 0 1,0 -7.6,0zM1512.4,690.5a3.8,3.8 0 1,0 7.6,0a3.8,3.8 0 1,0 -7.6,0zM1525.0,690.5a3.8,3.8 0 1,0 7.6,0a3.8,3.8 0 1,0 -7.6,0zM1537.6,690.6a3.8,3.8 0 1,0 7.6,0a3.8,3.8 0 1,0 -7.6,0zM1550.2,690.6a3.8,3.8 0 1,0 7.6,0a3.8,3.8 0 1,0 -7.6,0zM1562.8,690.7a3.8,3.8 0 1,0 7.6,0a3.8,3.8 0 1,0 -7.6,0zM1575.4,690.8a3.8,3.8 0 1,0 7.6,0a3.8,3.8 0 1,0 -7.6,0zM1588.0,690.8a3.8,3.8 0 1,0 7.6,0a3.8,3.8 0 1,0 -7.6,0zM1600.6,690.9a3.8,3.8 0 1,0 7.6,0a3.8,3.8 0 1,0 -7.6,0zM1613.2,690.9a3.8,3.8 0 1,0 7.6,0a3.8,3.8 0 1,0 -7.6,0zM1625.8,691.0a3.8,3.8 0 1,0 7.6,0a3.8,3.8 0 1,0 -7.6,0z" stroke="none"/>
</g>
<g fill="#1c6ea4" stroke="#1c6ea4">
<polyline points="911.6,684.0 924.2,684.0 936.8,684.0 949.4,684.0 962.0,684.0 974.6,684.0 987.2,684.0 999.8,684.0 1012.4,684.0 1025.0,684.0 1037.6,684.0 1050.2,684.0 1062.8,684.0 1075.4,684.0 1088.0,684.0 1100.5,684.0 1113.1,684.0 1125.7,684.0 1138.3,684.0 1150.9,684.0 1163.5,684.0 1176.1,684.0 1188.7,684.0 1201.3,676.6 1213.9,568.3 1226.5,406.4 1239.1,357.5 1251.7,334.9 1264.3,421.5 1276.9,538.7 1289.5,593.2 1302.1,630.6 1314.7,654.9 1327.3,680.0 1339.9,683.0 1352.5,682.0 1365.1,680.0 1377.7,680.0 1390.3,681.0 1402.9,680.5 1415.4,683.0 1428.0,683.3 1440.6,683.6 1453.2,683.9 1465.8,684.2 1478.4,684.5 1491.0,684.8 1503.6,685.1 1516.2,685.4 1528.8,685.6 1541.4,685.9 1554.0,686.2 1566.6,686.5 1579.2,686.8 1591.8,687.1 1604.4,687.4 1617.0,687.7 1629.6,688.0" fill="none" stroke-width="3" stroke-linejoin="round" stroke-linecap="round"/>
<path d="M907.8,684.0a3.8,3.8 0 1,0 7.6,0a3.8,3.8 0 1,0 -7.6,0zM920.4,684.0a3.8,3.8 0 1,0 7.6,0a3.8,3.8 0 1,0 -7.6,0zM933.0,684.0a3.8,3.8 0 1,0 7.6,0a3.8,3.8 0 1,0 -7.6,0zM945.6,684.0a3.8,3.8 0 1,0 7.6,0a3.8,3.8 0 1,0 -7.6,0zM958.2,684.0a3.8,3.8 0 1,0 7.6,0a3.8,3.8 0 1,0 -7.6,0zM970.8,684.0a3.8,3.8 0 1,0 7.6,0a3.8,3.8 0 1,0 -7.6,0zM983.4,684.0a3.8,3.8 0 1,0 7.6,0a3.8,3.8 0 1,0 -7.6,0zM996.0,684.0a3.8,3.8 0 1,0 7.6,0a3.8,3.8 0 1,0 -7.6,0zM1008.6,684.0a3.8,3.8 0 1,0 7.6,0a3.8,3.8 0 1,0 -7.6,0zM1021.2,684.0a3.8,3.8 0 1,0 7.6,0a3.8,3.8 0 1,0 -7.6,0zM1033.8,684.0a3.8,3.8 0 1,0 7.6,0a3.8,3.8 0 1,0 -7.6,0zM1046.4,684.0a3.8,3.8 0 1,0 7.6,0a3.8,3.8 0 1,0 -7.6,0zM1059.0,684.0a3.8,3.8 0 1,0 7.6,0a3.8,3.8 0 1,0 -7.6,0zM1071.6,684.0a3.8,3.8 0 1,0 7.6,0a3.8,3.8 0 1,0 -7.6,0zM1084.2,684.0a3.8,3.8 0 1,0 7.6,0a3.8,3.8 0 1,0 -7.6,0zM1096.8,684.0a3.8,3.8 0 1,0 7.6,0a3.8,3.8 0 1,0 -7.6,0zM1109.3,684.0a3.8,3.8 0 1,0 7.6,0a3.8,3.8 0 1,0 -7.6,0zM1121.9,684.0a3.8,3.8 0 1,0 7.6,0a3.8,3.8 0 1,0 -7.6,0zM1134.5,684.0a3.8,3.8 0 1,0 7.6,0a3.8,3.8 0 1,0 -7.6,0zM1147.1,684.0a3.8,3.8 0 1,0 7.6,0a3.8,3.8 0 1,0 -7.6,0zM1159.7,684.0a3.8,3.8 0 1,0 7.6,0a3.8,3.8 0 1,0 -7.6,0zM1172.3,684.0a3.8,3.8 0 1,0 7.6,0a3.8,3.8 0 1,0 -7.6,0zM1184.9,684.0a3.8,3.8 0 1,0 7.6,0a3.8,3.8 0 1,0 -7.6,0zM1197.5,676.6a3.8,3.8 0 1,0 7.6,0a3.8,3.8 0 1,0 -7.6,0zM1210.1,568.3a3.8,3.8 0 1,0 7.6,0a3.8,3.8 0 1,0 -7.6,0zM1222.7,406.4a3.8,3.8 0 1,0 7.6,0a3.8,3.8 0 1,0 -7.6,0zM1235.3,357.5a3.8,3.8 0 1,0 7.6,0a3.8,3.8 0 1,0 -7.6,0zM1247.9,334.9a3.8,3.8 0 1,0 7.6,0a3.8,3.8 0 1,0 -7.6,0zM1260.5,421.5a3.8,3.8 0 1,0 7.6,0a3.8,3.8 0 1,0 -7.6,0zM1273.1,538.7a3.8,3.8 0 1,0 7.6,0a3.8,3.8 0 1,0 -7.6,0zM1285.7,593.2a3.8,3.8 0 1,0 7.6,0a3.8,3.8 0 1,0 -7.6,0zM1298.3,630.6a3.8,3.8 0 1,0 7.6,0a3.8,3.8 0 1,0 -7.6,0zM1310.9,654.9a3.8,3.8 0 1,0 7.6,0a3.8,3.8 0 1,0 -7.6,0zM1323.5,680.0a3.8,3.8 0 1,0 7.6,0a3.8,3.8 0 1,0 -7.6,0zM1336.1,683.0a3.8,3.8 0 1,0 7.6,0a3.8,3.8 0 1,0 -7.6,0zM1348.7,682.0a3.8,3.8 0 1,0 7.6,0a3.8,3.8 0 1,0 -7.6,0zM1361.3,680.0a3.8,3.8 0 1,0 7.6,0a3.8,3.8 0 1,0 -7.6,0zM1373.9,680.0a3.8,3.8 0 1,0 7.6,0a3.8,3.8 0 1,0 -7.6,0zM1386.5,681.0a3.8,3.8 0 1,0 7.6,0a3.8,3.8 0 1,0 -7.6,0zM1399.1,680.5a3.8,3.8 0 1,0 7.6,0a3.8,3.8 0 1,0 -7.6,0zM1411.6,683.0a3.8,3.8 0 1,0 7.6,0a3.8,3.8 0 1,0 -7.6,0zM1424.2,683.3a3.8,3.8 0 1,0 7.6,0a3.8,3.8 0 1,0 -7.6,0zM1436.8,683.6a3.8,3.8 0 1,0 7.6,0a3.8,3.8 0 1,0 -7.6,0zM1449.4,683.9a3.8,3.8 0 1,0 7.6,0a3.8,3.8 0 1,0 -7.6,0zM1462.0,684.2a3.8,3.8 0 1,0 7.6,0a3.8,3.8 0 1,0 -7.6,0zM1474.6,684.5a3.8,3.8 0 1,0 7.6,0a3.8,3.8 0 1,0 -7.6,0zM1487.2,684.8a3.8,3.8 0 1,0 7.6,0a3.8,3.8 0 1,0 -7.6,0zM1499.8,685.1a3.8,3.8 0 1,0 7.6,0a3.8,3.8 0 1,0 -7.6,0zM1512.4,685.4a3.8,3.8 0 1,0 7.6,0a3.8,3.8 0 1,0 -7.6,0zM1525.0,685.6a3.8,3.8 0 1,0 7.6,0a3.8,3.8 0 1,0 -7.6,0zM1537.6,685.9a3.8,3.8 0 1,0 7.6,0a3.8,3.8 0 1,0 -7.6,0zM1550.2,686.2a3.8,3.8 0 1,0 7.6,0a3.8,3.8 0 1,0 -7.6,0zM1562.8,686.5a3.8,3.8 0 1,0 7.6,0a3.8,3.8 0 1,0 -7.6,0zM1575.4,686.8a3.8,3.8 0 1,0 7.6,0a3.8,3.8 0 1,0 -7.6,0zM1588.0,687.1a3.8,3.8 0 1,0 7.6,0a3.8,3.8 0 1,0 -7.6,0zM1600.6,687.4a3.8,3.8 0 1,0 7.6,0a3.8,3.8 0 1,0 -7.6,0zM1613.2,687.7a3.8,3.8 0 1,0 7.6,0a3.8,3.8 0 1,0 -7.6,0zM1625.8,688.0a3.8,3.8 0 1,0 7.6,0a3.8,3.8 0 1,0 -7.6,0z" stroke="none"/>
</g>
<g fill="#a4007c" stroke="#a4007c">
<polyline points="911.6,685.0 924.2,685.0 936.8,685.0 949.4,685.0 962.0,685.0 974.6,685.0 987.2,685.0 999.8,685.0 1012.4,685.0 1025.0,685.0 1037.6,685.0 1050.2,685.0 1062.8,685.0 1075.4,685.0 1088.0,685.0 1100.5,685.0 1113.1,685.0 1125.7,685.0 1138.3,685.0 1150.9,685.0 1163.5,685.0 1176.1,685.0 1188.7,685.0 1201.3,685.0 1213.9,685.0 1226.5,685.0 1239.1,684.5 1251.7,679.8 1264.3,636.8 1276.9,554.3 1289.5,420.3 1302.1,353.0 1314.7,413.5 1327.3,555.8 1339.9,606.0 1352.5,650.2 1365.1,669.5 1377.7,681.3 1390.3,683.0 1402.9,682.0 1415.4,681.0 1428.0,680.0 1440.6,680.0 1453.2,680.0 1465.8,680.0 1478.4,680.0 1491.0,683.0 1503.6,684.9 1516.2,686.8 1528.8,686.8 1541.4,686.8 1554.0,686.8 1566.6,686.8 1579.2,686.8 1591.8,686.8 1604.4,686.8 1617.0,686.8 1629.6,689.0" fill="none" stroke-width="3" stroke-linejoin="round" stroke-linecap="round"/>
<path d="M907.8,685.0a3.8,3.8 0 1,0 7.6,0a3.8,3.8 0 1,0 -7.6,0zM920.4,685.0a3.8,3.8 0 1,0 7.6,0a3.8,3.8 0 1,0 -7.6,0zM933.0,685.0a3.8,3.8 0 1,0 7.6,0a3.8,3.8 0 1,0 -7.6,0zM945.6,685.0a3.8,3.8 0 1,0 7.6,0a3.8,3.8 0 1,0 -7.6,0zM958.2,685.0a3.8,3.8 0 1,0 7.6,0a3.8,3.8 0 1,0 -7.6,0zM970.8,685.0a3.8,3.8 0 1,0 7.6,0a3.8,3.8 0 1,0 -7.6,0zM983.4,685.0a3.8,3.8 0 1,0 7.6,0a3.8,3.8 0 1,0 -7.6,0zM996.0,685.0a3.8,3.8 0 1,0 7.6,0a3.8,3.8 0 1,0 -7.6,0zM1008.6,685.0a3.8,3.8 0 1,0 7.6,0a3.8,3.8 0 1,0 -7.6,0zM1021.2,685.0a3.8,3.8 0 1,0 7.6,0a3.8,3.8 0 1,0 -7.6,0zM1033.8,685.0a3.8,3.8 0 1,0 7.6,0a3.8,3.8 0 1,0 -7.6,0zM1046.4,685.0a3.8,3.8 0 1,0 7.6,0a3.8,3.8 0 1,0 -7.6,0zM1059.0,685.0a3.8,3.8 0 1,0 7.6,0a3.8,3.8 0 1,0 -7.6,0zM1071.6,685.0a3.8,3.8 0 1,0 7.6,0a3.8,3.8 0 1,0 -7.6,0zM1084.2,685.0a3.8,3.8 0 1,0 7.6,0a3.8,3.8 0 1,0 -7.6,0zM1096.8,685.0a3.8,3.8 0 1,0 7.6,0a3.8,3.8 0 1,0 -7.6,0zM1109.3,685.0a3.8,3.8 0 1,0 7.6,0a3.8,3.8 0 1,0 -7.6,0zM1121.9,685.0a3.8,3.8 0 1,0 7.6,0a3.8,3.8 0 1,0 -7.6,0zM1134.5,685.0a3.8,3.8 0 1,0 7.6,0a3.8,3.8 0 1,0 -7.6,0zM1147.1,685.0a3.8,3.8 0 1,0 7.6,0a3.8,3.8 0 1,0 -7.6,0zM1159.7,685.0a3.8,3.8 0 1,0 7.6,0a3.8,3.8 0 1,0 -7.6,0zM1172.3,685.0a3.8,3.8 0 1,0 7.6,0a3.8,3.8 0 1,0 -7.6,0zM1184.9,685.0a3.8,3.8 0 1,0 7.6,0a3.8,3.8 0 1,0 -7.6,0zM1197.5,685.0a3.8,3.8 0 1,0 7.6,0a3.8,3.8 0 1,0 -7.6,0zM1210.1,685.0a3.8,3.8 0 1,0 7.6,0a3.8,3.8 0 1,0 -7.6,0zM1222.7,685.0a3.8,3.8 0 1,0 7.6,0a3.8,3.8 0 1,0 -7.6,0zM1235.3,684.5a3.8,3.8 0 1,0 7.6,0a3.8,3.8 0 1,0 -7.6,0zM1247.9,679.8a3.8,3.8 0 1,0 7.6,0a3.8,3.8 0 1,0 -7.6,0zM1260.5,636.8a3.8,3.8 0 1,0 7.6,0a3.8,3.8 0 1,0 -7.6,0zM1273.1,554.3a3.8,3.8 0 1,0 7.6,0a3.8,3.8 0 1,0 -7.6,0zM1285.7,420.3a3.8,3.8 0 1,0 7.6,0a3.8,3.8 0 1,0 -7.6,0zM1298.3,353.0a3.8,3.8 0 1,0 7.6,0a3.8,3.8 0 1,0 -7.6,0zM1310.9,413.5a3.8,3.8 0 1,0 7.6,0a3.8,3.8 0 1,0 -7.6,0zM1323.5,555.8a3.8,3.8 0 1,0 7.6,0a3.8,3.8 0 1,0 -7.6,0zM1336.1,606.0a3.8,3.8 0 1,0 7.6,0a3.8,3.8 0 1,0 -7.6,0zM1348.7,650.2a3.8,3.8 0 1,0 7.6,0a3.8,3.8 0 1,0 -7.6,0zM1361.3,669.5a3.8,3.8 0 1,0 7.6,0a3.8,3.8 0 1,0 -7.6,0zM1373.9,681.3a3.8,3.8 0 1,0 7.6,0a3.8,3.8 0 1,0 -7.6,0zM1386.5,683.0a3.8,3.8 0 1,0 7.6,0a3.8,3.8 0 1,0 -7.6,0zM1399.1,682.0a3.8,3.8 0 1,0 7.6,0a3.8,3.8 0 1,0 -7.6,0zM1411.6,681.0a3.8,3.8 0 1,0 7.6,0a3.8,3.8 0 1,0 -7.6,0zM1424.2,680.0a3.8,3.8 0 1,0 7.6,0a3.8,3.8 0 1,0 -7.6,0zM1436.8,680.0a3.8,3.8 0 1,0 7.6,0a3.8,3.8 0 1,0 -7.6,0zM1449.4,680.0a3.8,3.8 0 1,0 7.6,0a3.8,3.8 0 1,0 -7.6,0zM1462.0,680.0a3.8,3.8 0 1,0 7.6,0a3.8,3.8 0 1,0 -7.6,0zM1474.6,680.0a3.8,3.8 0 1,0 7.6,0a3.8,3.8 0 1,0 -7.6,0zM1487.2,683.0a3.8,3.8 0 1,0 7.6,0a3.8,3.8 0 1,0 -7.6,0zM1499.8,684.9a3.8,3.8 0 1,0 7.6,0a3.8,3.8 0 1,0 -7.6,0zM1512.4,686.8a3.8,3.8 0 1,0 7.6,0a3.8,3.8 0 1,0 -7.6,0zM1525.0,686.8a3.8,3.8 0 1,0 7.6,0a3.8,3.8 0 1,0 -7.6,0zM1537.6,686.8a3.8,3.8 0 1,0 7.6,0a3.8,3.8 0 1,0 -7.6,0zM1550.2,686.8a3.8,3.8 0 1,0 7.6,0a3.8,3.8 0 1,0 -7.6,0zM1562.8,686.8a3.8,3.8 0 1,0 7.6,0a3.8,3.8 0 1,0 -7.6,0zM1575.4,686.8a3.8,3.8 0 1,0 7.6,0a3.8,3.8 0 1,0 -7.6,0zM1588.0,686.8a3.8,3.8 0 1,0 7.6,0a3.8,3.8 0 1,0 -7.6,0zM1600.6,686.8a3.8,3.8 0 1,0 7.6,0a3.8,3.8 0 1,0 -7.6,0zM1613.2,686.8a3.8,3.8 0 1,0 7.6,0a3.8,3.8 0 1,0 -7.6,0zM1625.8,689.0a3.8,3.8 0 1,0 7.6,0a3.8,3.8 0 1,0 -7.6,0z" stroke="none"/>
</g>
<g fill="#94846e" stroke="#94846e">
<polyline points="155.8,688.0 168.4,688.0 181.0,688.0 193.6,688.0 206.2,688.0 218.8,688.0 231.4,688.0 244.0,688.0 256.6,688.0 269.2,688.0 281.8,688.0 294.4,688.0 307.0,688.0 319.6,688.0 332.2,688.0 344.8,688.0 357.4,688.0 370.0,688.0 382.6,688.0 395.2,688.0 407.8,688.0 420.4,688.0 433.0,688.0 445.6,688.0 458.2,688.0 470.8,688.0 483.3,688.0 495.9,688.0 508.5,688.0 521.1,688.0 533.7,688.0 546.3,688.0 558.9,688.0 571.5,688.0 584.1,688.0 596.7,688.0 609.3,688.0 621.9,688.0 634.5,688.0 647.1,688.0 659.7,688.0 672.3,688.0 684.9,688.0 697.5,688.0 710.1,688.0 722.7,688.0 735.3,688.0 747.9,688.0 760.5,688.0 773.1,688.0 785.6,688.0 798.2,688.0 810.8,688.0 823.4,688.0 836.0,688.0 848.6,688.0 861.2,688.0 873.8,688.0 886.4,688.0 899.0,688.0 911.6,688.0 924.2,688.0 936.8,688.0 949.4,688.0 962.0,688.0 974.6,688.0 987.2,688.0 999.8,688.0 1012.4,688.0 1025.0,688.0 1037.6,688.0 1050.2,688.0 1062.8,688.0 1075.4,688.0 1088.0,688.0 1100.5,688.0 1113.1,688.0 1125.7,688.0 1138.3,688.0 1150.9,688.0 1163.5,688.0 1176.1,688.0 1188.7,688.0 1201.3,688.0 1213.9,688.0 1226.5,688.0 1239.1,688.0 1251.7,688.0 1264.3,688.0 1276.9,688.0 1289.5,688.0 1302.1,684.0 1314.7,661.1 1327.3,531.2 1339.9,315.9 1352.5,238.7 1365.1,303.4 1377.7,602.5 1390.3,674.2 1402.9,671.0 1415.4,670.4 1428.0,662.6 1440.6,660.1 1453.2,661.2 1465.8,664.8 1478.4,670.9 1491.0,677.7 1503.6,681.0 1516.2,680.7 1528.8,682.6 1541.4,685.0 1554.0,687.0 1566.6,687.2 1579.2,687.3 1591.8,687.5 1604.4,687.7 1617.0,687.8 1629.6,688.0" fill="none" stroke-width="3" stroke-linejoin="round" stroke-linecap="round"/>
<path d="M152.0,688.0a3.8,3.8 0 1,0 7.6,0a3.8,3.8 0 1,0 -7.6,0zM164.6,688.0a3.8,3.8 0 1,0 7.6,0a3.8,3.8 0 1,0 -7.6,0zM177.2,688.0a3.8,3.8 0 1,0 7.6,0a3.8,3.8 0 1,0 -7.6,0zM189.8,688.0a3.8,3.8 0 1,0 7.6,0a3.8,3.8 0 1,0 -7.6,0zM202.4,688.0a3.8,3.8 0 1,0 7.6,0a3.8,3.8 0 1,0 -7.6,0zM215.0,688.0a3.8,3.8 0 1,0 7.6,0a3.8,3.8 0 1,0 -7.6,0zM227.6,688.0a3.8,3.8 0 1,0 7.6,0a3.8,3.8 0 1,0 -7.6,0zM240.2,688.0a3.8,3.8 0 1,0 7.6,0a3.8,3.8 0 1,0 -7.6,0zM252.8,688.0a3.8,3.8 0 1,0 7.6,0a3.8,3.8 0 1,0 -7.6,0zM265.4,688.0a3.8,3.8 0 1,0 7.6,0a3.8,3.8 0 1,0 -7.6,0zM278.0,688.0a3.8,3.8 0 1,0 7.6,0a3.8,3.8 0 1,0 -7.6,0zM290.6,688.0a3.8,3.8 0 1,0 7.6,0a3.8,3.8 0 1,0 -7.6,0zM303.2,688.0a3.8,3.8 0 1,0 7.6,0a3.8,3.8 0 1,0 -7.6,0zM315.8,688.0a3.8,3.8 0 1,0 7.6,0a3.8,3.8 0 1,0 -7.6,0zM328.4,688.0a3.8,3.8 0 1,0 7.6,0a3.8,3.8 0 1,0 -7.6,0zM341.0,688.0a3.8,3.8 0 1,0 7.6,0a3.8,3.8 0 1,0 -7.6,0zM353.6,688.0a3.8,3.8 0 1,0 7.6,0a3.8,3.8 0 1,0 -7.6,0zM366.2,688.0a3.8,3.8 0 1,0 7.6,0a3.8,3.8 0 1,0 -7.6,0zM378.8,688.0a3.8,3.8 0 1,0 7.6,0a3.8,3.8 0 1,0 -7.6,0zM391.4,688.0a3.8,3.8 0 1,0 7.6,0a3.8,3.8 0 1,0 -7.6,0zM404.0,688.0a3.8,3.8 0 1,0 7.6,0a3.8,3.8 0 1,0 -7.6,0zM416.6,688.0a3.8,3.8 0 1,0 7.6,0a3.8,3.8 0 1,0 -7.6,0zM429.2,688.0a3.8,3.8 0 1,0 7.6,0a3.8,3.8 0 1,0 -7.6,0zM441.8,688.0a3.8,3.8 0 1,0 7.6,0a3.8,3.8 0 1,0 -7.6,0zM454.4,688.0a3.8,3.8 0 1,0 7.6,0a3.8,3.8 0 1,0 -7.6,0zM466.9,688.0a3.8,3.8 0 1,0 7.6,0a3.8,3.8 0 1,0 -7.6,0zM479.5,688.0a3.8,3.8 0 1,0 7.6,0a3.8,3.8 0 1,0 -7.6,0zM492.1,688.0a3.8,3.8 0 1,0 7.6,0a3.8,3.8 0 1,0 -7.6,0zM504.7,688.0a3.8,3.8 0 1,0 7.6,0a3.8,3.8 0 1,0 -7.6,0zM517.3,688.0a3.8,3.8 0 1,0 7.6,0a3.8,3.8 0 1,0 -7.6,0zM529.9,688.0a3.8,3.8 0 1,0 7.6,0a3.8,3.8 0 1,0 -7.6,0zM542.5,688.0a3.8,3.8 0 1,0 7.6,0a3.8,3.8 0 1,0 -7.6,0zM555.1,688.0a3.8,3.8 0 1,0 7.6,0a3.8,3.8 0 1,0 -7.6,0zM567.7,688.0a3.8,3.8 0 1,0 7.6,0a3.8,3.8 0 1,0 -7.6,0zM580.3,688.0a3.8,3.8 0 1,0 7.6,0a3.8,3.8 0 1,0 -7.6,0zM592.9,688.0a3.8,3.8 0 1,0 7.6,0a3.8,3.8 0 1,0 -7.6,0zM605.5,688.0a3.8,3.8 0 1,0 7.6,0a3.8,3.8 0 1,0 -7.6,0zM618.1,688.0a3.8,3.8 0 1,0 7.6,0a3.8,3.8 0 1,0 -7.6,0zM630.7,688.0a3.8,3.8 0 1,0 7.6,0a3.8,3.8 0 1,0 -7.6,0zM643.3,688.0a3.8,3.8 0 1,0 7.6,0a3.8,3.8 0 1,0 -7.6,0zM655.9,688.0a3.8,3.8 0 1,0 7.6,0a3.8,3.8 0 1,0 -7.6,0zM668.5,688.0a3.8,3.8 0 1,0 7.6,0a3.8,3.8 0 1,0 -7.6,0zM681.1,688.0a3.8,3.8 0 1,0 7.6,0a3.8,3.8 0 1,0 -7.6,0zM693.7,688.0a3.8,3.8 0 1,0 7.6,0a3.8,3.8 0 1,0 -7.6,0zM706.3,688.0a3.8,3.8 0 1,0 7.6,0a3.8,3.8 0 1,0 -7.6,0zM718.9,688.0a3.8,3.8 0 1,0 7.6,0a3.8,3.8 0 1,0 -7.6,0zM731.5,688.0a3.8,3.8 0 1,0 7.6,0a3.8,3.8 0 1,0 -7.6,0zM744.1,688.0a3.8,3.8 0 1,0 7.6,0a3.8,3.8 0 1,0 -7.6,0zM756.7,688.0a3.8,3.8 0 1,0 7.6,0a3.8,3.8 0 1,0 -7.6,0zM769.3,688.0a3.8,3.8 0 1,0 7.6,0a3.8,3.8 0 1,0 -7.6,0zM781.9,688.0a3.8,3.8 0 1,0 7.6,0a3.8,3.8 0 1,0 -7.6,0zM794.4,688.0a3.8,3.8 0 1,0 7.6,0a3.8,3.8 0 1,0 -7.6,0zM807.0,688.0a3.8,3.8 0 1,0 7.6,0a3.8,3.8 0 1,0 -7.6,0zM819.6,688.0a3.8,3.8 0 1,0 7.6,0a3.8,3.8 0 1,0 -7.6,0zM832.2,688.0a3.8,3.8 0 1,0 7.6,0a3.8,3.8 0 1,0 -7.6,0zM844.8,688.0a3.8,3.8 0 1,0 7.6,0a3.8,3.8 0 1,0 -7.6,0zM857.4,688.0a3.8,3.8 0 1,0 7.6,0a3.8,3.8 0 1,0 -7.6,0zM870.0,688.0a3.8,3.8 0 1,0 7.6,0a3.8,3.8 0 1,0 -7.6,0zM882.6,688.0a3.8,3.8 0 1,0 7.6,0a3.8,3.8 0 1,0 -7.6,0zM895.2,688.0a3.8,3.8 0 1,0 7.6,0a3.8,3.8 0 1,0 -7.6,0zM907.8,688.0a3.8,3.8 0 1,0 7.6,0a3.8,3.8 0 1,0 -7.6,0zM920.4,688.0a3.8,3.8 0 1,0 7.6,0a3.8,3.8 0 1,0 -7.6,0zM933.0,688.0a3.8,3.8 0 1,0 7.6,0a3.8,3.8 0 1,0 -7.6,0zM945.6,688.0a3.8,3.8 0 1,0 7.6,0a3.8,3.8 0 1,0 -7.6,0zM958.2,688.0a3.8,3.8 0 1,0 7.6,0a3.8,3.8 0 1,0 -7.6,0zM970.8,688.0a3.8,3.8 0 1,0 7.6,0a3.8,3.8 0 1,0 -7.6,0zM983.4,688.0a3.8,3.8 0 1,0 7.6,0a3.8,3.8 0 1,0 -7.6,0zM996.0,688.0a3.8,3.8 0 1,0 7.6,0a3.8,3.8 0 1,0 -7.6,0zM1008.6,688.0a3.8,3.8 0 1,0 7.6,0a3.8,3.8 0 1,0 -7.6,0zM1021.2,688.0a3.8,3.8 0 1,0 7.6,0a3.8,3.8 0 1,0 -7.6,0zM1033.8,688.0a3.8,3.8 0 1,0 7.6,0a3.8,3.8 0 1,0 -7.6,0zM1046.4,688.0a3.8,3.8 0 1,0 7.6,0a3.8,3.8 0 1,0 -7.6,0zM1059.0,688.0a3.8,3.8 0 1,0 7.6,0a3.8,3.8 0 1,0 -7.6,0zM1071.6,688.0a3.8,3.8 0 1,0 7.6,0a3.8,3.8 0 1,0 -7.6,0zM1084.2,688.0a3.8,3.8 0 1,0 7.6,0a3.8,3.8 0 1,0 -7.6,0zM1096.8,688.0a3.8,3.8 0 1,0 7.6,0a3.8,3.8 0 1,0 -7.6,0zM1109.3,688.0a3.8,3.8 0 1,0 7.6,0a3.8,3.8 0 1,0 -7.6,0zM1121.9,688.0a3.8,3.8 0 1,0 7.6,0a3.8,3.8 0 1,0 -7.6,0zM1134.5,688.0a3.8,3.8 0 1,0 7.6,0a3.8,3.8 0 1,0 -7.6,0zM1147.1,688.0a3.8,3.8 0 1,0 7.6,0a3.8,3.8 0 1,0 -7.6,0zM1159.7,688.0a3.8,3.8 0 1,0 7.6,0a3.8,3.8 0 1,0 -7.6,0zM1172.3,688.0a3.8,3.8 0 1,0 7.6,0a3.8,3.8 0 1,0 -7.6,0zM1184.9,688.0a3.8,3.8 0 1,0 7.6,0a3.8,3.8 0 1,0 -7.6,0zM1197.5,688.0a3.8,3.8 0 1,0 7.6,0a3.8,3.8 0 1,0 -7.6,0zM1210.1,688.0a3.8,3.8 0 1,0 7.6,0a3.8,3.8 0 1,0 -7.6,0zM1222.7,688.0a3.8,3.8 0 1,0 7.6,0a3.8,3.8 0 1,0 -7.6,0zM1235.3,688.0a3.8,3.8 0 1,0 7.6,0a3.8,3.8 0 1,0 -7.6,0zM1247.9,688.0a3.8,3.8 0 1,0 7.6,0a3.8,3.8 0 1,0 -7.6,0zM1260.5,688.0a3.8,3.8 0 1,0 7.6,0a3.8,3.8 0 1,0 -7.6,0zM1273.1,688.0a3.8,3.8 0 1,0 7.6,0a3.8,3.8 0 1,0 -7.6,0zM1285.7,688.0a3.8,3.8 0 1,0 7.6,0a3.8,3.8 0 1,0 -7.6,0zM1298.3,684.0a3.8,3.8 0 1,0 7.6,0a3.8,3.8 0 1,0 -7.6,0zM1310.9,661.1a3.8,3.8 0 1,0 7.6,0a3.8,3.8 0 1,0 -7.6,0zM1323.5,531.2a3.8,3.8 0 1,0 7.6,0a3.8,3.8 0 1,0 -7.6,0zM1336.1,315.9a3.8,3.8 0 1,0 7.6,0a3.8,3.8 0 1,0 -7.6,0zM1348.7,238.7a3.8,3.8 0 1,0 7.6,0a3.8,3.8 0 1,0 -7.6,0zM1361.3,303.4a3.8,3.8 0 1,0 7.6,0a3.8,3.8 0 1,0 -7.6,0zM1373.9,602.5a3.8,3.8 0 1,0 7.6,0a3.8,3.8 0 1,0 -7.6,0zM1386.5,674.2a3.8,3.8 0 1,0 7.6,0a3.8,3.8 0 1,0 -7.6,0zM1399.1,671.0a3.8,3.8 0 1,0 7.6,0a3.8,3.8 0 1,0 -7.6,0zM1411.6,670.4a3.8,3.8 0 1,0 7.6,0a3.8,3.8 0 1,0 -7.6,0zM1424.2,662.6a3.8,3.8 0 1,0 7.6,0a3.8,3.8 0 1,0 -7.6,0zM1436.8,660.1a3.8,3.8 0 1,0 7.6,0a3.8,3.8 0 1,0 -7.6,0zM1449.4,661.2a3.8,3.8 0 1,0 7.6,0a3.8,3.8 0 1,0 -7.6,0zM1462.0,664.8a3.8,3.8 0 1,0 7.6,0a3.8,3.8 0 1,0 -7.6,0zM1474.6,670.9a3.8,3.8 0 1,0 7.6,0a3.8,3.8 0 1,0 -7.6,0zM1487.2,677.7a3.8,3.8 0 1,0 7.6,0a3.8,3.8 0 1,0 -7.6,0zM1499.8,681.0a3.8,3.8 0 1,0 7.6,0a3.8,3.8 0 1,0 -7.6,0zM1512.4,680.7a3.8,3.8 0 1,0 7.6,0a3.8,3.8 0 1,0 -7.6,0zM1525.0,682.6a3.8,3.8 0 1,0 7.6,0a3.8,3.8 0 1,0 -7.6,0zM1537.6,685.0a3.8,3.8 0 1,0 7.6,0a3.8,3.8 0 1,0 -7.6,0zM1550.2,687.0a3.8,3.8 0 1,0 7.6,0a3.8,3.8 0 1,0 -7.6,0zM1562.8,687.2a3.8,3.8 0 1,0 7.6,0a3.8,3.8 0 1,0 -7.6,0zM1575.4,687.3a3.8,3.8 0 1,0 7.6,0a3.8,3.8 0 1,0 -7.6,0zM1588.0,687.5a3.8,3.8 0 1,0 7.6,0a3.8,3.8 0 1,0 -7.6,0zM1600.6,687.7a3.8,3.8 0 1,0 7.6,0a3.8,3.8 0 1,0 -7.6,0zM1613.2,687.8a3.8,3.8 0 1,0 7.6,0a3.8,3.8 0 1,0 -7.6,0zM1625.8,688.0a3.8,3.8 0 1,0 7.6,0a3.8,3.8 0 1,0 -7.6,0z" stroke="none"/>
</g>
<g fill="#d6478a" stroke="#d6478a">
<polyline points="155.8,682.0 168.4,682.4 181.0,682.9 193.6,683.3 206.2,683.7 218.8,683.7 231.4,683.7 244.0,683.7 256.6,683.7 269.2,683.8 281.8,683.9 294.4,684.0 307.0,684.1 319.6,684.2 332.2,684.4 344.8,684.5 357.4,684.6 370.0,684.7 382.6,684.8 395.2,684.9 407.8,685.0 420.4,685.0 433.0,685.0 445.6,685.1 458.2,685.1 470.8,685.1 483.3,685.1 495.9,685.1 508.5,685.2 521.1,685.2 533.7,685.2 546.3,685.2 558.9,685.3 571.5,685.3 584.1,685.3 596.7,685.3 609.3,685.3 621.9,685.4 634.5,685.4 647.1,685.4 659.7,685.4 672.3,685.4 684.9,685.5 697.5,685.5 710.1,685.5 722.7,685.5 735.3,685.6 747.9,685.6 760.5,685.6 773.1,685.6 785.6,685.6 798.2,685.7 810.8,685.7 823.4,685.7 836.0,685.7 848.6,685.7 861.2,685.8 873.8,685.8 886.4,685.8 899.0,685.8 911.6,685.9 924.2,685.9 936.8,685.9 949.4,685.9 962.0,685.9 974.6,686.0 987.2,686.0 999.8,686.0 1012.4,681.0 1025.0,666.6 1037.6,649.5 1050.2,657.7 1062.8,672.3 1075.4,675.4 1088.0,676.5 1100.5,678.8 1113.1,680.2 1125.7,682.2 1138.3,682.7 1150.9,682.7 1163.5,683.2 1176.1,684.0 1188.7,681.2 1201.3,680.7 1213.9,682.0 1226.5,683.0 1239.1,684.0 1251.7,682.0 1264.3,683.1 1276.9,684.2 1289.5,684.2 1302.1,683.5 1314.7,682.9 1327.3,682.2 1339.9,683.2 1352.5,682.7 1365.1,628.4 1377.7,502.9 1390.3,423.8 1402.9,574.8 1415.4,549.9 1428.0,534.0 1440.6,541.8 1453.2,549.6 1465.8,591.0 1478.4,617.5 1491.0,637.9 1503.6,644.0 1516.2,656.3 1528.8,663.6 1541.4,662.4 1554.0,662.4 1566.6,663.0 1579.2,666.0 1591.8,667.3 1604.4,663.0 1617.0,671.6 1629.6,687.5" fill="none" stroke-width="3" stroke-linejoin="round" stroke-linecap="round"/>
<path d="M152.0,682.0a3.8,3.8 0 1,0 7.6,0a3.8,3.8 0 1,0 -7.6,0zM164.6,682.4a3.8,3.8 0 1,0 7.6,0a3.8,3.8 0 1,0 -7.6,0zM177.2,682.9a3.8,3.8 0 1,0 7.6,0a3.8,3.8 0 1,0 -7.6,0zM189.8,683.3a3.8,3.8 0 1,0 7.6,0a3.8,3.8 0 1,0 -7.6,0zM202.4,683.7a3.8,3.8 0 1,0 7.6,0a3.8,3.8 0 1,0 -7.6,0zM215.0,683.7a3.8,3.8 0 1,0 7.6,0a3.8,3.8 0 1,0 -7.6,0zM227.6,683.7a3.8,3.8 0 1,0 7.6,0a3.8,3.8 0 1,0 -7.6,0zM240.2,683.7a3.8,3.8 0 1,0 7.6,0a3.8,3.8 0 1,0 -7.6,0zM252.8,683.7a3.8,3.8 0 1,0 7.6,0a3.8,3.8 0 1,0 -7.6,0zM265.4,683.8a3.8,3.8 0 1,0 7.6,0a3.8,3.8 0 1,0 -7.6,0zM278.0,683.9a3.8,3.8 0 1,0 7.6,0a3.8,3.8 0 1,0 -7.6,0zM290.6,684.0a3.8,3.8 0 1,0 7.6,0a3.8,3.8 0 1,0 -7.6,0zM303.2,684.1a3.8,3.8 0 1,0 7.6,0a3.8,3.8 0 1,0 -7.6,0zM315.8,684.2a3.8,3.8 0 1,0 7.6,0a3.8,3.8 0 1,0 -7.6,0zM328.4,684.4a3.8,3.8 0 1,0 7.6,0a3.8,3.8 0 1,0 -7.6,0zM341.0,684.5a3.8,3.8 0 1,0 7.6,0a3.8,3.8 0 1,0 -7.6,0zM353.6,684.6a3.8,3.8 0 1,0 7.6,0a3.8,3.8 0 1,0 -7.6,0zM366.2,684.7a3.8,3.8 0 1,0 7.6,0a3.8,3.8 0 1,0 -7.6,0zM378.8,684.8a3.8,3.8 0 1,0 7.6,0a3.8,3.8 0 1,0 -7.6,0zM391.4,684.9a3.8,3.8 0 1,0 7.6,0a3.8,3.8 0 1,0 -7.6,0zM404.0,685.0a3.8,3.8 0 1,0 7.6,0a3.8,3.8 0 1,0 -7.6,0zM416.6,685.0a3.8,3.8 0 1,0 7.6,0a3.8,3.8 0 1,0 -7.6,0zM429.2,685.0a3.8,3.8 0 1,0 7.6,0a3.8,3.8 0 1,0 -7.6,0zM441.8,685.1a3.8,3.8 0 1,0 7.6,0a3.8,3.8 0 1,0 -7.6,0zM454.4,685.1a3.8,3.8 0 1,0 7.6,0a3.8,3.8 0 1,0 -7.6,0zM466.9,685.1a3.8,3.8 0 1,0 7.6,0a3.8,3.8 0 1,0 -7.6,0zM479.5,685.1a3.8,3.8 0 1,0 7.6,0a3.8,3.8 0 1,0 -7.6,0zM492.1,685.1a3.8,3.8 0 1,0 7.6,0a3.8,3.8 0 1,0 -7.6,0zM504.7,685.2a3.8,3.8 0 1,0 7.6,0a3.8,3.8 0 1,0 -7.6,0zM517.3,685.2a3.8,3.8 0 1,0 7.6,0a3.8,3.8 0 1,0 -7.6,0zM529.9,685.2a3.8,3.8 0 1,0 7.6,0a3.8,3.8 0 1,0 -7.6,0zM542.5,685.2a3.8,3.8 0 1,0 7.6,0a3.8,3.8 0 1,0 -7.6,0zM555.1,685.3a3.8,3.8 0 1,0 7.6,0a3.8,3.8 0 1,0 -7.6,0zM567.7,685.3a3.8,3.8 0 1,0 7.6,0a3.8,3.8 0 1,0 -7.6,0zM580.3,685.3a3.8,3.8 0 1,0 7.6,0a3.8,3.8 0 1,0 -7.6,0zM592.9,685.3a3.8,3.8 0 1,0 7.6,0a3.8,3.8 0 1,0 -7.6,0zM605.5,685.3a3.8,3.8 0 1,0 7.6,0a3.8,3.8 0 1,0 -7.6,0zM618.1,685.4a3.8,3.8 0 1,0 7.6,0a3.8,3.8 0 1,0 -7.6,0zM630.7,685.4a3.8,3.8 0 1,0 7.6,0a3.8,3.8 0 1,0 -7.6,0zM643.3,685.4a3.8,3.8 0 1,0 7.6,0a3.8,3.8 0 1,0 -7.6,0zM655.9,685.4a3.8,3.8 0 1,0 7.6,0a3.8,3.8 0 1,0 -7.6,0zM668.5,685.4a3.8,3.8 0 1,0 7.6,0a3.8,3.8 0 1,0 -7.6,0zM681.1,685.5a3.8,3.8 0 1,0 7.6,0a3.8,3.8 0 1,0 -7.6,0zM693.7,685.5a3.8,3.8 0 1,0 7.6,0a3.8,3.8 0 1,0 -7.6,0zM706.3,685.5a3.8,3.8 0 1,0 7.6,0a3.8,3.8 0 1,0 -7.6,0zM718.9,685.5a3.8,3.8 0 1,0 7.6,0a3.8,3.8 0 1,0 -7.6,0zM731.5,685.6a3.8,3.8 0 1,0 7.6,0a3.8,3.8 0 1,0 -7.6,0zM744.1,685.6a3.8,3.8 0 1,0 7.6,0a3.8,3.8 0 1,0 -7.6,0zM756.7,685.6a3.8,3.8 0 1,0 7.6,0a3.8,3.8 0 1,0 -7.6,0zM769.3,685.6a3.8,3.8 0 1,0 7.6,0a3.8,3.8 0 1,0 -7.6,0zM781.9,685.6a3.8,3.8 0 1,0 7.6,0a3.8,3.8 0 1,0 -7.6,0zM794.4,685.7a3.8,3.8 0 1,0 7.6,0a3.8,3.8 0 1,0 -7.6,0zM807.0,685.7a3.8,3.8 0 1,0 7.6,0a3.8,3.8 0 1,0 -7.6,0zM819.6,685.7a3.8,3.8 0 1,0 7.6,0a3.8,3.8 0 1,0 -7.6,0zM832.2,685.7a3.8,3.8 0 1,0 7.6,0a3.8,3.8 0 1,0 -7.6,0zM844.8,685.7a3.8,3.8 0 1,0 7.6,0a3.8,3.8 0 1,0 -7.6,0zM857.4,685.8a3.8,3.8 0 1,0 7.6,0a3.8,3.8 0 1,0 -7.6,0zM870.0,685.8a3.8,3.8 0 1,0 7.6,0a3.8,3.8 0 1,0 -7.6,0zM882.6,685.8a3.8,3.8 0 1,0 7.6,0a3.8,3.8 0 1,0 -7.6,0zM895.2,685.8a3.8,3.8 0 1,0 7.6,0a3.8,3.8 0 1,0 -7.6,0zM907.8,685.9a3.8,3.8 0 1,0 7.6,0a3.8,3.8 0 1,0 -7.6,0zM920.4,685.9a3.8,3.8 0 1,0 7.6,0a3.8,3.8 0 1,0 -7.6,0zM933.0,685.9a3.8,3.8 0 1,0 7.6,0a3.8,3.8 0 1,0 -7.6,0zM945.6,685.9a3.8,3.8 0 1,0 7.6,0a3.8,3.8 0 1,0 -7.6,0zM958.2,685.9a3.8,3.8 0 1,0 7.6,0a3.8,3.8 0 1,0 -7.6,0zM970.8,686.0a3.8,3.8 0 1,0 7.6,0a3.8,3.8 0 1,0 -7.6,0zM983.4,686.0a3.8,3.8 0 1,0 7.6,0a3.8,3.8 0 1,0 -7.6,0zM996.0,686.0a3.8,3.8 0 1,0 7.6,0a3.8,3.8 0 1,0 -7.6,0zM1008.6,681.0a3.8,3.8 0 1,0 7.6,0a3.8,3.8 0 1,0 -7.6,0zM1021.2,666.6a3.8,3.8 0 1,0 7.6,0a3.8,3.8 0 1,0 -7.6,0zM1033.8,649.5a3.8,3.8 0 1,0 7.6,0a3.8,3.8 0 1,0 -7.6,0zM1046.4,657.7a3.8,3.8 0 1,0 7.6,0a3.8,3.8 0 1,0 -7.6,0zM1059.0,672.3a3.8,3.8 0 1,0 7.6,0a3.8,3.8 0 1,0 -7.6,0zM1071.6,675.4a3.8,3.8 0 1,0 7.6,0a3.8,3.8 0 1,0 -7.6,0zM1084.2,676.5a3.8,3.8 0 1,0 7.6,0a3.8,3.8 0 1,0 -7.6,0zM1096.8,678.8a3.8,3.8 0 1,0 7.6,0a3.8,3.8 0 1,0 -7.6,0zM1109.3,680.2a3.8,3.8 0 1,0 7.6,0a3.8,3.8 0 1,0 -7.6,0zM1121.9,682.2a3.8,3.8 0 1,0 7.6,0a3.8,3.8 0 1,0 -7.6,0zM1134.5,682.7a3.8,3.8 0 1,0 7.6,0a3.8,3.8 0 1,0 -7.6,0zM1147.1,682.7a3.8,3.8 0 1,0 7.6,0a3.8,3.8 0 1,0 -7.6,0zM1159.7,683.2a3.8,3.8 0 1,0 7.6,0a3.8,3.8 0 1,0 -7.6,0zM1172.3,684.0a3.8,3.8 0 1,0 7.6,0a3.8,3.8 0 1,0 -7.6,0zM1184.9,681.2a3.8,3.8 0 1,0 7.6,0a3.8,3.8 0 1,0 -7.6,0zM1197.5,680.7a3.8,3.8 0 1,0 7.6,0a3.8,3.8 0 1,0 -7.6,0zM1210.1,682.0a3.8,3.8 0 1,0 7.6,0a3.8,3.8 0 1,0 -7.6,0zM1222.7,683.0a3.8,3.8 0 1,0 7.6,0a3.8,3.8 0 1,0 -7.6,0zM1235.3,684.0a3.8,3.8 0 1,0 7.6,0a3.8,3.8 0 1,0 -7.6,0zM1247.9,682.0a3.8,3.8 0 1,0 7.6,0a3.8,3.8 0 1,0 -7.6,0zM1260.5,683.1a3.8,3.8 0 1,0 7.6,0a3.8,3.8 0 1,0 -7.6,0zM1273.1,684.2a3.8,3.8 0 1,0 7.6,0a3.8,3.8 0 1,0 -7.6,0zM1285.7,684.2a3.8,3.8 0 1,0 7.6,0a3.8,3.8 0 1,0 -7.6,0zM1298.3,683.5a3.8,3.8 0 1,0 7.6,0a3.8,3.8 0 1,0 -7.6,0zM1310.9,682.9a3.8,3.8 0 1,0 7.6,0a3.8,3.8 0 1,0 -7.6,0zM1323.5,682.2a3.8,3.8 0 1,0 7.6,0a3.8,3.8 0 1,0 -7.6,0zM1336.1,683.2a3.8,3.8 0 1,0 7.6,0a3.8,3.8 0 1,0 -7.6,0zM1348.7,682.7a3.8,3.8 0 1,0 7.6,0a3.8,3.8 0 1,0 -7.6,0zM1361.3,628.4a3.8,3.8 0 1,0 7.6,0a3.8,3.8 0 1,0 -7.6,0zM1373.9,502.9a3.8,3.8 0 1,0 7.6,0a3.8,3.8 0 1,0 -7.6,0zM1386.5,423.8a3.8,3.8 0 1,0 7.6,0a3.8,3.8 0 1,0 -7.6,0zM1399.1,574.8a3.8,3.8 0 1,0 7.6,0a3.8,3.8 0 1,0 -7.6,0zM1411.6,549.9a3.8,3.8 0 1,0 7.6,0a3.8,3.8 0 1,0 -7.6,0zM1424.2,534.0a3.8,3.8 0 1,0 7.6,0a3.8,3.8 0 1,0 -7.6,0zM1436.8,541.8a3.8,3.8 0 1,0 7.6,0a3.8,3.8 0 1,0 -7.6,0zM1449.4,549.6a3.8,3.8 0 1,0 7.6,0a3.8,3.8 0 1,0 -7.6,0zM1462.0,591.0a3.8,3.8 0 1,0 7.6,0a3.8,3.8 0 1,0 -7.6,0zM1474.6,617.5a3.8,3.8 0 1,0 7.6,0a3.8,3.8 0 1,0 -7.6,0zM1487.2,637.9a3.8,3.8 0 1,0 7.6,0a3.8,3.8 0 1,0 -7.6,0zM1499.8,644.0a3.8,3.8 0 1,0 7.6,0a3.8,3.8 0 1,0 -7.6,0zM1512.4,656.3a3.8,3.8 0 1,0 7.6,0a3.8,3.8 0 1,0 -7.6,0zM1525.0,663.6a3.8,3.8 0 1,0 7.6,0a3.8,3.8 0 1,0 -7.6,0zM1537.6,662.4a3.8,3.8 0 1,0 7.6,0a3.8,3.8 0 1,0 -7.6,0zM1550.2,662.4a3.8,3.8 0 1,0 7.6,0a3.8,3.8 0 1,0 -7.6,0zM1562.8,663.0a3.8,3.8 0 1,0 7.6,0a3.8,3.8 0 1,0 -7.6,0zM1575.4,666.0a3.8,3.8 0 1,0 7.6,0a3.8,3.8 0 1,0 -7.6,0zM1588.0,667.3a3.8,3.8 0 1,0 7.6,0a3.8,3.8 0 1,0 -7.6,0zM1600.6,663.0a3.8,3.8 0 1,0 7.6,0a3.8,3.8 0 1,0 -7.6,0zM1613.2,671.6a3.8,3.8 0 1,0 7.6,0a3.8,3.8 0 1,0 -7.6,0zM1625.8,687.5a3.8,3.8 0 1,0 7.6,0a3.8,3.8 0 1,0 -7.6,0z" stroke="none"/>
</g>
<g fill="#0b8a4b" stroke="#0b8a4b">
<polyline points="155.8,687.5 168.4,687.9 181.0,688.3 193.6,688.7 206.2,689.1 218.8,689.5 231.4,689.5 244.0,689.5 256.6,689.5 269.2,689.5 281.8,689.5 294.4,689.5 307.0,689.5 319.6,689.5 332.2,689.5 344.8,689.5 357.4,689.5 370.0,689.5 382.6,689.5 395.2,689.5 407.8,689.5 420.4,689.5 433.0,689.5 445.6,689.4 458.2,689.4 470.8,689.4 483.3,689.4 495.9,689.4 508.5,689.4 521.1,689.4 533.7,689.4 546.3,689.4 558.9,689.4 571.5,689.4 584.1,689.4 596.7,689.4 609.3,689.4 621.9,689.4 634.5,689.4 647.1,689.4 659.7,689.4 672.3,689.4 684.9,689.4 697.5,689.4 710.1,689.4 722.7,689.4 735.3,689.4 747.9,689.4 760.5,689.4 773.1,689.4 785.6,689.4 798.2,689.4 810.8,689.4 823.4,689.4 836.0,689.4 848.6,689.4 861.2,689.4 873.8,689.4 886.4,689.3 899.0,689.3 911.6,689.3 924.2,689.3 936.8,689.3 949.4,689.3 962.0,689.3 974.6,689.3 987.2,689.3 999.8,689.3 1012.4,689.3 1025.0,689.3 1037.6,689.3 1050.2,689.3 1062.8,689.3 1075.4,689.3 1088.0,689.3 1100.5,689.3 1113.1,689.5 1125.7,689.6 1138.3,689.8 1150.9,690.0 1163.5,690.2 1176.1,690.4 1188.7,690.5 1201.3,690.7 1213.9,686.0 1226.5,682.0 1239.1,680.4 1251.7,680.0 1264.3,679.8 1276.9,679.8 1289.5,682.2 1302.1,682.7 1314.7,686.0 1327.3,686.3 1339.9,686.7 1352.5,687.0 1365.1,687.3 1377.7,687.7 1390.3,688.0 1402.9,681.3 1415.4,678.2 1428.0,627.5 1440.6,450.9 1453.2,378.6 1465.8,411.6 1478.4,588.5 1491.0,682.6 1503.6,674.0 1516.2,669.7 1528.8,677.1 1541.4,680.1 1554.0,680.5 1566.6,683.2 1579.2,683.2 1591.8,682.6 1604.4,681.3 1617.0,683.2 1629.6,690.5" fill="none" stroke-width="3" stroke-linejoin="round" stroke-linecap="round"/>
<path d="M152.0,687.5a3.8,3.8 0 1,0 7.6,0a3.8,3.8 0 1,0 -7.6,0zM164.6,687.9a3.8,3.8 0 1,0 7.6,0a3.8,3.8 0 1,0 -7.6,0zM177.2,688.3a3.8,3.8 0 1,0 7.6,0a3.8,3.8 0 1,0 -7.6,0zM189.8,688.7a3.8,3.8 0 1,0 7.6,0a3.8,3.8 0 1,0 -7.6,0zM202.4,689.1a3.8,3.8 0 1,0 7.6,0a3.8,3.8 0 1,0 -7.6,0zM215.0,689.5a3.8,3.8 0 1,0 7.6,0a3.8,3.8 0 1,0 -7.6,0zM227.6,689.5a3.8,3.8 0 1,0 7.6,0a3.8,3.8 0 1,0 -7.6,0zM240.2,689.5a3.8,3.8 0 1,0 7.6,0a3.8,3.8 0 1,0 -7.6,0zM252.8,689.5a3.8,3.8 0 1,0 7.6,0a3.8,3.8 0 1,0 -7.6,0zM265.4,689.5a3.8,3.8 0 1,0 7.6,0a3.8,3.8 0 1,0 -7.6,0zM278.0,689.5a3.8,3.8 0 1,0 7.6,0a3.8,3.8 0 1,0 -7.6,0zM290.6,689.5a3.8,3.8 0 1,0 7.6,0a3.8,3.8 0 1,0 -7.6,0zM303.2,689.5a3.8,3.8 0 1,0 7.6,0a3.8,3.8 0 1,0 -7.6,0zM315.8,689.5a3.8,3.8 0 1,0 7.6,0a3.8,3.8 0 1,0 -7.6,0zM328.4,689.5a3.8,3.8 0 1,0 7.6,0a3.8,3.8 0 1,0 -7.6,0zM341.0,689.5a3.8,3.8 0 1,0 7.6,0a3.8,3.8 0 1,0 -7.6,0zM353.6,689.5a3.8,3.8 0 1,0 7.6,0a3.8,3.8 0 1,0 -7.6,0zM366.2,689.5a3.8,3.8 0 1,0 7.6,0a3.8,3.8 0 1,0 -7.6,0zM378.8,689.5a3.8,3.8 0 1,0 7.6,0a3.8,3.8 0 1,0 -7.6,0zM391.4,689.5a3.8,3.8 0 1,0 7.6,0a3.8,3.8 0 1,0 -7.6,0zM404.0,689.5a3.8,3.8 0 1,0 7.6,0a3.8,3.8 0 1,0 -7.6,0zM416.6,689.5a3.8,3.8 0 1,0 7.6,0a3.8,3.8 0 1,0 -7.6,0zM429.2,689.5a3.8,3.8 0 1,0 7.6,0a3.8,3.8 0 1,0 -7.6,0zM441.8,689.4a3.8,3.8 0 1,0 7.6,0a3.8,3.8 0 1,0 -7.6,0zM454.4,689.4a3.8,3.8 0 1,0 7.6,0a3.8,3.8 0 1,0 -7.6,0zM466.9,689.4a3.8,3.8 0 1,0 7.6,0a3.8,3.8 0 1,0 -7.6,0zM479.5,689.4a3.8,3.8 0 1,0 7.6,0a3.8,3.8 0 1,0 -7.6,0zM492.1,689.4a3.8,3.8 0 1,0 7.6,0a3.8,3.8 0 1,0 -7.6,0zM504.7,689.4a3.8,3.8 0 1,0 7.6,0a3.8,3.8 0 1,0 -7.6,0zM517.3,689.4a3.8,3.8 0 1,0 7.6,0a3.8,3.8 0 1,0 -7.6,0zM529.9,689.4a3.8,3.8 0 1,0 7.6,0a3.8,3.8 0 1,0 -7.6,0zM542.5,689.4a3.8,3.8 0 1,0 7.6,0a3.8,3.8 0 1,0 -7.6,0zM555.1,689.4a3.8,3.8 0 1,0 7.6,0a3.8,3.8 0 1,0 -7.6,0zM567.7,689.4a3.8,3.8 0 1,0 7.6,0a3.8,3.8 0 1,0 -7.6,0zM580.3,689.4a3.8,3.8 0 1,0 7.6,0a3.8,3.8 0 1,0 -7.6,0zM592.9,689.4a3.8,3.8 0 1,0 7.6,0a3.8,3.8 0 1,0 -7.6,0zM605.5,689.4a3.8,3.8 0 1,0 7.6,0a3.8,3.8 0 1,0 -7.6,0zM618.1,689.4a3.8,3.8 0 1,0 7.6,0a3.8,3.8 0 1,0 -7.6,0zM630.7,689.4a3.8,3.8 0 1,0 7.6,0a3.8,3.8 0 1,0 -7.6,0zM643.3,689.4a3.8,3.8 0 1,0 7.6,0a3.8,3.8 0 1,0 -7.6,0zM655.9,689.4a3.8,3.8 0 1,0 7.6,0a3.8,3.8 0 1,0 -7.6,0zM668.5,689.4a3.8,3.8 0 1,0 7.6,0a3.8,3.8 0 1,0 -7.6,0zM681.1,689.4a3.8,3.8 0 1,0 7.6,0a3.8,3.8 0 1,0 -7.6,0zM693.7,689.4a3.8,3.8 0 1,0 7.6,0a3.8,3.8 0 1,0 -7.6,0zM706.3,689.4a3.8,3.8 0 1,0 7.6,0a3.8,3.8 0 1,0 -7.6,0zM718.9,689.4a3.8,3.8 0 1,0 7.6,0a3.8,3.8 0 1,0 -7.6,0zM731.5,689.4a3.8,3.8 0 1,0 7.6,0a3.8,3.8 0 1,0 -7.6,0zM744.1,689.4a3.8,3.8 0 1,0 7.6,0a3.8,3.8 0 1,0 -7.6,0zM756.7,689.4a3.8,3.8 0 1,0 7.6,0a3.8,3.8 0 1,0 -7.6,0zM769.3,689.4a3.8,3.8 0 1,0 7.6,0a3.8,3.8 0 1,0 -7.6,0zM781.9,689.4a3.8,3.8 0 1,0 7.6,0a3.8,3.8 0 1,0 -7.6,0zM794.4,689.4a3.8,3.8 0 1,0 7.6,0a3.8,3.8 0 1,0 -7.6,0zM807.0,689.4a3.8,3.8 0 1,0 7.6,0a3.8,3.8 0 1,0 -7.6,0zM819.6,689.4a3.8,3.8 0 1,0 7.6,0a3.8,3.8 0 1,0 -7.6,0zM832.2,689.4a3.8,3.8 0 1,0 7.6,0a3.8,3.8 0 1,0 -7.6,0zM844.8,689.4a3.8,3.8 0 1,0 7.6,0a3.8,3.8 0 1,0 -7.6,0zM857.4,689.4a3.8,3.8 0 1,0 7.6,0a3.8,3.8 0 1,0 -7.6,0zM870.0,689.4a3.8,3.8 0 1,0 7.6,0a3.8,3.8 0 1,0 -7.6,0zM882.6,689.3a3.8,3.8 0 1,0 7.6,0a3.8,3.8 0 1,0 -7.6,0zM895.2,689.3a3.8,3.8 0 1,0 7.6,0a3.8,3.8 0 1,0 -7.6,0zM907.8,689.3a3.8,3.8 0 1,0 7.6,0a3.8,3.8 0 1,0 -7.6,0zM920.4,689.3a3.8,3.8 0 1,0 7.6,0a3.8,3.8 0 1,0 -7.6,0zM933.0,689.3a3.8,3.8 0 1,0 7.6,0a3.8,3.8 0 1,0 -7.6,0zM945.6,689.3a3.8,3.8 0 1,0 7.6,0a3.8,3.8 0 1,0 -7.6,0zM958.2,689.3a3.8,3.8 0 1,0 7.6,0a3.8,3.8 0 1,0 -7.6,0zM970.8,689.3a3.8,3.8 0 1,0 7.6,0a3.8,3.8 0 1,0 -7.6,0zM983.4,689.3a3.8,3.8 0 1,0 7.6,0a3.8,3.8 0 1,0 -7.6,0zM996.0,689.3a3.8,3.8 0 1,0 7.6,0a3.8,3.8 0 1,0 -7.6,0zM1008.6,689.3a3.8,3.8 0 1,0 7.6,0a3.8,3.8 0 1,0 -7.6,0zM1021.2,689.3a3.8,3.8 0 1,0 7.6,0a3.8,3.8 0 1,0 -7.6,0zM1033.8,689.3a3.8,3.8 0 1,0 7.6,0a3.8,3.8 0 1,0 -7.6,0zM1046.4,689.3a3.8,3.8 0 1,0 7.6,0a3.8,3.8 0 1,0 -7.6,0zM1059.0,689.3a3.8,3.8 0 1,0 7.6,0a3.8,3.8 0 1,0 -7.6,0zM1071.6,689.3a3.8,3.8 0 1,0 7.6,0a3.8,3.8 0 1,0 -7.6,0zM1084.2,689.3a3.8,3.8 0 1,0 7.6,0a3.8,3.8 0 1,0 -7.6,0zM1096.8,689.3a3.8,3.8 0 1,0 7.6,0a3.8,3.8 0 1,0 -7.6,0zM1109.3,689.5a3.8,3.8 0 1,0 7.6,0a3.8,3.8 0 1,0 -7.6,0zM1121.9,689.6a3.8,3.8 0 1,0 7.6,0a3.8,3.8 0 1,0 -7.6,0zM1134.5,689.8a3.8,3.8 0 1,0 7.6,0a3.8,3.8 0 1,0 -7.6,0zM1147.1,690.0a3.8,3.8 0 1,0 7.6,0a3.8,3.8 0 1,0 -7.6,0zM1159.7,690.2a3.8,3.8 0 1,0 7.6,0a3.8,3.8 0 1,0 -7.6,0zM1172.3,690.4a3.8,3.8 0 1,0 7.6,0a3.8,3.8 0 1,0 -7.6,0zM1184.9,690.5a3.8,3.8 0 1,0 7.6,0a3.8,3.8 0 1,0 -7.6,0zM1197.5,690.7a3.8,3.8 0 1,0 7.6,0a3.8,3.8 0 1,0 -7.6,0zM1210.1,686.0a3.8,3.8 0 1,0 7.6,0a3.8,3.8 0 1,0 -7.6,0zM1222.7,682.0a3.8,3.8 0 1,0 7.6,0a3.8,3.8 0 1,0 -7.6,0zM1235.3,680.4a3.8,3.8 0 1,0 7.6,0a3.8,3.8 0 1,0 -7.6,0zM1247.9,680.0a3.8,3.8 0 1,0 7.6,0a3.8,3.8 0 1,0 -7.6,0zM1260.5,679.8a3.8,3.8 0 1,0 7.6,0a3.8,3.8 0 1,0 -7.6,0zM1273.1,679.8a3.8,3.8 0 1,0 7.6,0a3.8,3.8 0 1,0 -7.6,0zM1285.7,682.2a3.8,3.8 0 1,0 7.6,0a3.8,3.8 0 1,0 -7.6,0zM1298.3,682.7a3.8,3.8 0 1,0 7.6,0a3.8,3.8 0 1,0 -7.6,0zM1310.9,686.0a3.8,3.8 0 1,0 7.6,0a3.8,3.8 0 1,0 -7.6,0zM1323.5,686.3a3.8,3.8 0 1,0 7.6,0a3.8,3.8 0 1,0 -7.6,0zM1336.1,686.7a3.8,3.8 0 1,0 7.6,0a3.8,3.8 0 1,0 -7.6,0zM1348.7,687.0a3.8,3.8 0 1,0 7.6,0a3.8,3.8 0 1,0 -7.6,0zM1361.3,687.3a3.8,3.8 0 1,0 7.6,0a3.8,3.8 0 1,0 -7.6,0zM1373.9,687.7a3.8,3.8 0 1,0 7.6,0a3.8,3.8 0 1,0 -7.6,0zM1386.5,688.0a3.8,3.8 0 1,0 7.6,0a3.8,3.8 0 1,0 -7.6,0zM1399.1,681.3a3.8,3.8 0 1,0 7.6,0a3.8,3.8 0 1,0 -7.6,0zM1411.6,678.2a3.8,3.8 0 1,0 7.6,0a3.8,3.8 0 1,0 -7.6,0zM1424.2,627.5a3.8,3.8 0 1,0 7.6,0a3.8,3.8 0 1,0 -7.6,0zM1436.8,450.9a3.8,3.8 0 1,0 7.6,0a3.8,3.8 0 1,0 -7.6,0zM1449.4,378.6a3.8,3.8 0 1,0 7.6,0a3.8,3.8 0 1,0 -7.6,0zM1462.0,411.6a3.8,3.8 0 1,0 7.6,0a3.8,3.8 0 1,0 -7.6,0zM1474.6,588.5a3.8,3.8 0 1,0 7.6,0a3.8,3.8 0 1,0 -7.6,0zM1487.2,682.6a3.8,3.8 0 1,0 7.6,0a3.8,3.8 0 1,0 -7.6,0zM1499.8,674.0a3.8,3.8 0 1,0 7.6,0a3.8,3.8 0 1,0 -7.6,0zM1512.4,669.7a3.8,3.8 0 1,0 7.6,0a3.8,3.8 0 1,0 -7.6,0zM1525.0,677.1a3.8,3.8 0 1,0 7.6,0a3.8,3.8 0 1,0 -7.6,0zM1537.6,680.1a3.8,3.8 0 1,0 7.6,0a3.8,3.8 0 1,0 -7.6,0zM1550.2,680.5a3.8,3.8 0 1,0 7.6,0a3.8,3.8 0 1,0 -7.6,0zM1562.8,683.2a3.8,3.8 0 1,0 7.6,0a3.8,3.8 0 1,0 -7.6,0zM1575.4,683.2a3.8,3.8 0 1,0 7.6,0a3.8,3.8 0 1,0 -7.6,0zM1588.0,682.6a3.8,3.8 0 1,0 7.6,0a3.8,3.8 0 1,0 -7.6,0zM1600.6,681.3a3.8,3.8 0 1,0 7.6,0a3.8,3.8 0 1,0 -7.6,0zM1613.2,683.2a3.8,3.8 0 1,0 7.6,0a3.8,3.8 0 1,0 -7.6,0zM1625.8,690.5a3.8,3.8 0 1,0 7.6,0a3.8,3.8 0 1,0 -7.6,0z" stroke="none"/>
</g>
<g fill="#c0571a" stroke="#c0571a">
<polyline points="155.8,677.0 168.4,681.0 181.0,681.4 193.6,670.7 206.2,674.1 218.8,679.0 231.4,681.0 244.0,682.0 256.6,682.5 269.2,682.5 281.8,682.5 294.4,682.5 307.0,682.5 319.6,682.5 332.2,682.5 344.8,682.5 357.4,682.5 370.0,682.5 382.6,680.0 395.2,683.0 407.8,683.1 420.4,683.3 433.0,683.1 445.6,683.0 458.2,683.9 470.8,683.6 483.3,683.8 495.9,683.1 508.5,684.3 521.1,683.9 533.7,684.3 546.3,683.5 558.9,684.6 571.5,684.4 584.1,684.7 596.7,684.0 609.3,684.7 621.9,684.9 634.5,685.0 647.1,684.6 659.7,684.7 672.3,685.4 684.9,685.0 697.5,685.0 710.1,684.4 722.7,685.4 735.3,684.9 747.9,685.1 760.5,684.2 773.1,685.3 785.6,684.9 798.2,685.1 810.8,684.2 823.4,685.0 836.0,684.9 848.6,685.0 861.2,684.4 873.8,684.6 886.4,685.1 899.0,684.8 911.6,684.6 924.2,684.2 936.8,685.1 949.4,684.6 962.0,684.8 974.6,683.9 987.2,685.0 999.8,684.6 1012.4,684.8 1025.0,683.9 1037.6,684.8 1050.2,684.6 1062.8,684.7 1075.4,684.0 1088.0,684.4 1100.5,684.7 1113.1,684.6 1125.7,684.2 1138.3,684.0 1150.9,684.8 1163.5,684.4 1176.1,684.4 1188.7,683.7 1201.3,684.8 1213.9,684.3 1226.5,684.5 1239.1,683.6 1251.7,684.6 1264.3,684.3 1276.9,684.5 1289.5,683.6 1302.1,684.3 1314.7,684.4 1327.3,684.3 1339.9,683.8 1352.5,683.9 1365.1,684.5 1377.7,684.1 1390.3,684.0 1402.9,683.5 1415.4,684.0 1428.0,684.0 1440.6,684.0 1453.2,680.4 1465.8,619.7 1478.4,507.6 1491.0,460.9 1503.6,564.6 1516.2,574.5 1528.8,580.7 1541.4,591.0 1554.0,584.8 1566.6,579.5 1579.2,611.9 1591.8,621.2 1604.4,623.1 1617.0,647.0 1629.6,687.5" fill="none" stroke-width="3" stroke-linejoin="round" stroke-linecap="round"/>
<path d="M152.0,677.0a3.8,3.8 0 1,0 7.6,0a3.8,3.8 0 1,0 -7.6,0zM164.6,681.0a3.8,3.8 0 1,0 7.6,0a3.8,3.8 0 1,0 -7.6,0zM177.2,681.4a3.8,3.8 0 1,0 7.6,0a3.8,3.8 0 1,0 -7.6,0zM189.8,670.7a3.8,3.8 0 1,0 7.6,0a3.8,3.8 0 1,0 -7.6,0zM202.4,674.1a3.8,3.8 0 1,0 7.6,0a3.8,3.8 0 1,0 -7.6,0zM215.0,679.0a3.8,3.8 0 1,0 7.6,0a3.8,3.8 0 1,0 -7.6,0zM227.6,681.0a3.8,3.8 0 1,0 7.6,0a3.8,3.8 0 1,0 -7.6,0zM240.2,682.0a3.8,3.8 0 1,0 7.6,0a3.8,3.8 0 1,0 -7.6,0zM252.8,682.5a3.8,3.8 0 1,0 7.6,0a3.8,3.8 0 1,0 -7.6,0zM265.4,682.5a3.8,3.8 0 1,0 7.6,0a3.8,3.8 0 1,0 -7.6,0zM278.0,682.5a3.8,3.8 0 1,0 7.6,0a3.8,3.8 0 1,0 -7.6,0zM290.6,682.5a3.8,3.8 0 1,0 7.6,0a3.8,3.8 0 1,0 -7.6,0zM303.2,682.5a3.8,3.8 0 1,0 7.6,0a3.8,3.8 0 1,0 -7.6,0zM315.8,682.5a3.8,3.8 0 1,0 7.6,0a3.8,3.8 0 1,0 -7.6,0zM328.4,682.5a3.8,3.8 0 1,0 7.6,0a3.8,3.8 0 1,0 -7.6,0zM341.0,682.5a3.8,3.8 0 1,0 7.6,0a3.8,3.8 0 1,0 -7.6,0zM353.6,682.5a3.8,3.8 0 1,0 7.6,0a3.8,3.8 0 1,0 -7.6,0zM366.2,682.5a3.8,3.8 0 1,0 7.6,0a3.8,3.8 0 1,0 -7.6,0zM378.8,680.0a3.8,3.8 0 1,0 7.6,0a3.8,3.8 0 1,0 -7.6,0zM391.4,683.0a3.8,3.8 0 1,0 7.6,0a3.8,3.8 0 1,0 -7.6,0zM404.0,683.1a3.8,3.8 0 1,0 7.6,0a3.8,3.8 0 1,0 -7.6,0zM416.6,683.3a3.8,3.8 0 1,0 7.6,0a3.8,3.8 0 1,0 -7.6,0zM429.2,683.1a3.8,3.8 0 1,0 7.6,0a3.8,3.8 0 1,0 -7.6,0zM441.8,683.0a3.8,3.8 0 1,0 7.6,0a3.8,3.8 0 1,0 -7.6,0zM454.4,683.9a3.8,3.8 0 1,0 7.6,0a3.8,3.8 0 1,0 -7.6,0zM466.9,683.6a3.8,3.8 0 1,0 7.6,0a3.8,3.8 0 1,0 -7.6,0zM479.5,683.8a3.8,3.8 0 1,0 7.6,0a3.8,3.8 0 1,0 -7.6,0zM492.1,683.1a3.8,3.8 0 1,0 7.6,0a3.8,3.8 0 1,0 -7.6,0zM504.7,684.3a3.8,3.8 0 1,0 7.6,0a3.8,3.8 0 1,0 -7.6,0zM517.3,683.9a3.8,3.8 0 1,0 7.6,0a3.8,3.8 0 1,0 -7.6,0zM529.9,684.3a3.8,3.8 0 1,0 7.6,0a3.8,3.8 0 1,0 -7.6,0zM542.5,683.5a3.8,3.8 0 1,0 7.6,0a3.8,3.8 0 1,0 -7.6,0zM555.1,684.6a3.8,3.8 0 1,0 7.6,0a3.8,3.8 0 1,0 -7.6,0zM567.7,684.4a3.8,3.8 0 1,0 7.6,0a3.8,3.8 0 1,0 -7.6,0zM580.3,684.7a3.8,3.8 0 1,0 7.6,0a3.8,3.8 0 1,0 -7.6,0zM592.9,684.0a3.8,3.8 0 1,0 7.6,0a3.8,3.8 0 1,0 -7.6,0zM605.5,684.7a3.8,3.8 0 1,0 7.6,0a3.8,3.8 0 1,0 -7.6,0zM618.1,684.9a3.8,3.8 0 1,0 7.6,0a3.8,3.8 0 1,0 -7.6,0zM630.7,685.0a3.8,3.8 0 1,0 7.6,0a3.8,3.8 0 1,0 -7.6,0zM643.3,684.6a3.8,3.8 0 1,0 7.6,0a3.8,3.8 0 1,0 -7.6,0zM655.9,684.7a3.8,3.8 0 1,0 7.6,0a3.8,3.8 0 1,0 -7.6,0zM668.5,685.4a3.8,3.8 0 1,0 7.6,0a3.8,3.8 0 1,0 -7.6,0zM681.1,685.0a3.8,3.8 0 1,0 7.6,0a3.8,3.8 0 1,0 -7.6,0zM693.7,685.0a3.8,3.8 0 1,0 7.6,0a3.8,3.8 0 1,0 -7.6,0zM706.3,684.4a3.8,3.8 0 1,0 7.6,0a3.8,3.8 0 1,0 -7.6,0zM718.9,685.4a3.8,3.8 0 1,0 7.6,0a3.8,3.8 0 1,0 -7.6,0zM731.5,684.9a3.8,3.8 0 1,0 7.6,0a3.8,3.8 0 1,0 -7.6,0zM744.1,685.1a3.8,3.8 0 1,0 7.6,0a3.8,3.8 0 1,0 -7.6,0zM756.7,684.2a3.8,3.8 0 1,0 7.6,0a3.8,3.8 0 1,0 -7.6,0zM769.3,685.3a3.8,3.8 0 1,0 7.6,0a3.8,3.8 0 1,0 -7.6,0zM781.9,684.9a3.8,3.8 0 1,0 7.6,0a3.8,3.8 0 1,0 -7.6,0zM794.4,685.1a3.8,3.8 0 1,0 7.6,0a3.8,3.8 0 1,0 -7.6,0zM807.0,684.2a3.8,3.8 0 1,0 7.6,0a3.8,3.8 0 1,0 -7.6,0zM819.6,685.0a3.8,3.8 0 1,0 7.6,0a3.8,3.8 0 1,0 -7.6,0zM832.2,684.9a3.8,3.8 0 1,0 7.6,0a3.8,3.8 0 1,0 -7.6,0zM844.8,685.0a3.8,3.8 0 1,0 7.6,0a3.8,3.8 0 1,0 -7.6,0zM857.4,684.4a3.8,3.8 0 1,0 7.6,0a3.8,3.8 0 1,0 -7.6,0zM870.0,684.6a3.8,3.8 0 1,0 7.6,0a3.8,3.8 0 1,0 -7.6,0zM882.6,685.1a3.8,3.8 0 1,0 7.6,0a3.8,3.8 0 1,0 -7.6,0zM895.2,684.8a3.8,3.8 0 1,0 7.6,0a3.8,3.8 0 1,0 -7.6,0zM907.8,684.6a3.8,3.8 0 1,0 7.6,0a3.8,3.8 0 1,0 -7.6,0zM920.4,684.2a3.8,3.8 0 1,0 7.6,0a3.8,3.8 0 1,0 -7.6,0zM933.0,685.1a3.8,3.8 0 1,0 7.6,0a3.8,3.8 0 1,0 -7.6,0zM945.6,684.6a3.8,3.8 0 1,0 7.6,0a3.8,3.8 0 1,0 -7.6,0zM958.2,684.8a3.8,3.8 0 1,0 7.6,0a3.8,3.8 0 1,0 -7.6,0zM970.8,683.9a3.8,3.8 0 1,0 7.6,0a3.8,3.8 0 1,0 -7.6,0zM983.4,685.0a3.8,3.8 0 1,0 7.6,0a3.8,3.8 0 1,0 -7.6,0zM996.0,684.6a3.8,3.8 0 1,0 7.6,0a3.8,3.8 0 1,0 -7.6,0zM1008.6,684.8a3.8,3.8 0 1,0 7.6,0a3.8,3.8 0 1,0 -7.6,0zM1021.2,683.9a3.8,3.8 0 1,0 7.6,0a3.8,3.8 0 1,0 -7.6,0zM1033.8,684.8a3.8,3.8 0 1,0 7.6,0a3.8,3.8 0 1,0 -7.6,0zM1046.4,684.6a3.8,3.8 0 1,0 7.6,0a3.8,3.8 0 1,0 -7.6,0zM1059.0,684.7a3.8,3.8 0 1,0 7.6,0a3.8,3.8 0 1,0 -7.6,0zM1071.6,684.0a3.8,3.8 0 1,0 7.6,0a3.8,3.8 0 1,0 -7.6,0zM1084.2,684.4a3.8,3.8 0 1,0 7.6,0a3.8,3.8 0 1,0 -7.6,0zM1096.8,684.7a3.8,3.8 0 1,0 7.6,0a3.8,3.8 0 1,0 -7.6,0zM1109.3,684.6a3.8,3.8 0 1,0 7.6,0a3.8,3.8 0 1,0 -7.6,0zM1121.9,684.2a3.8,3.8 0 1,0 7.6,0a3.8,3.8 0 1,0 -7.6,0zM1134.5,684.0a3.8,3.8 0 1,0 7.6,0a3.8,3.8 0 1,0 -7.6,0zM1147.1,684.8a3.8,3.8 0 1,0 7.6,0a3.8,3.8 0 1,0 -7.6,0zM1159.7,684.4a3.8,3.8 0 1,0 7.6,0a3.8,3.8 0 1,0 -7.6,0zM1172.3,684.4a3.8,3.8 0 1,0 7.6,0a3.8,3.8 0 1,0 -7.6,0zM1184.9,683.7a3.8,3.8 0 1,0 7.6,0a3.8,3.8 0 1,0 -7.6,0zM1197.5,684.8a3.8,3.8 0 1,0 7.6,0a3.8,3.8 0 1,0 -7.6,0zM1210.1,684.3a3.8,3.8 0 1,0 7.6,0a3.8,3.8 0 1,0 -7.6,0zM1222.7,684.5a3.8,3.8 0 1,0 7.6,0a3.8,3.8 0 1,0 -7.6,0zM1235.3,683.6a3.8,3.8 0 1,0 7.6,0a3.8,3.8 0 1,0 -7.6,0zM1247.9,684.6a3.8,3.8 0 1,0 7.6,0a3.8,3.8 0 1,0 -7.6,0zM1260.5,684.3a3.8,3.8 0 1,0 7.6,0a3.8,3.8 0 1,0 -7.6,0zM1273.1,684.5a3.8,3.8 0 1,0 7.6,0a3.8,3.8 0 1,0 -7.6,0zM1285.7,683.6a3.8,3.8 0 1,0 7.6,0a3.8,3.8 0 1,0 -7.6,0zM1298.3,684.3a3.8,3.8 0 1,0 7.6,0a3.8,3.8 0 1,0 -7.6,0zM1310.9,684.4a3.8,3.8 0 1,0 7.6,0a3.8,3.8 0 1,0 -7.6,0zM1323.5,684.3a3.8,3.8 0 1,0 7.6,0a3.8,3.8 0 1,0 -7.6,0zM1336.1,683.8a3.8,3.8 0 1,0 7.6,0a3.8,3.8 0 1,0 -7.6,0zM1348.7,683.9a3.8,3.8 0 1,0 7.6,0a3.8,3.8 0 1,0 -7.6,0zM1361.3,684.5a3.8,3.8 0 1,0 7.6,0a3.8,3.8 0 1,0 -7.6,0zM1373.9,684.1a3.8,3.8 0 1,0 7.6,0a3.8,3.8 0 1,0 -7.6,0zM1386.5,684.0a3.8,3.8 0 1,0 7.6,0a3.8,3.8 0 1,0 -7.6,0zM1399.1,683.5a3.8,3.8 0 1,0 7.6,0a3.8,3.8 0 1,0 -7.6,0zM1411.6,684.0a3.8,3.8 0 1,0 7.6,0a3.8,3.8 0 1,0 -7.6,0zM1424.2,684.0a3.8,3.8 0 1,0 7.6,0a3.8,3.8 0 1,0 -7.6,0zM1436.8,684.0a3.8,3.8 0 1,0 7.6,0a3.8,3.8 0 1,0 -7.6,0zM1449.4,680.4a3.8,3.8 0 1,0 7.6,0a3.8,3.8 0 1,0 -7.6,0zM1462.0,619.7a3.8,3.8 0 1,0 7.6,0a3.8,3.8 0 1,0 -7.6,0zM1474.6,507.6a3.8,3.8 0 1,0 7.6,0a3.8,3.8 0 1,0 -7.6,0zM1487.2,460.9a3.8,3.8 0 1,0 7.6,0a3.8,3.8 0 1,0 -7.6,0zM1499.8,564.6a3.8,3.8 0 1,0 7.6,0a3.8,3.8 0 1,0 -7.6,0zM1512.4,574.5a3.8,3.8 0 1,0 7.6,0a3.8,3.8 0 1,0 -7.6,0zM1525.0,580.7a3.8,3.8 0 1,0 7.6,0a3.8,3.8 0 1,0 -7.6,0zM1537.6,591.0a3.8,3.8 0 1,0 7.6,0a3.8,3.8 0 1,0 -7.6,0zM1550.2,584.8a3.8,3.8 0 1,0 7.6,0a3.8,3.8 0 1,0 -7.6,0zM1562.8,579.5a3.8,3.8 0 1,0 7.6,0a3.8,3.8 0 1,0 -7.6,0zM1575.4,611.9a3.8,3.8 0 1,0 7.6,0a3.8,3.8 0 1,0 -7.6,0zM1588.0,621.2a3.8,3.8 0 1,0 7.6,0a3.8,3.8 0 1,0 -7.6,0zM1600.6,623.1a3.8,3.8 0 1,0 7.6,0a3.8,3.8 0 1,0 -7.6,0zM1613.2,647.0a3.8,3.8 0 1,0 7.6,0a3.8,3.8 0 1,0 -7.6,0zM1625.8,687.5a3.8,3.8 0 1,0 7.6,0a3.8,3.8 0 1,0 -7.6,0z" stroke="none"/>
</g>
<g fill="#c792c8" stroke="#c792c8">
<polyline points="155.8,681.5 168.4,682.2 181.0,683.7 193.6,683.2 206.2,684.6 218.8,684.7 231.4,685.2 244.0,684.1 256.6,685.5 269.2,685.4 281.8,685.8 294.4,684.8 307.0,685.5 319.6,685.8 332.2,685.8 344.8,685.3 357.4,685.2 370.0,686.2 382.6,685.8 395.2,685.8 407.8,685.1 420.4,686.5 433.0,685.9 445.6,686.2 458.2,685.1 470.8,686.5 483.3,686.1 495.9,686.5 508.5,685.3 521.1,686.3 533.7,686.4 546.3,686.5 558.9,685.7 571.5,686.0 584.1,686.7 596.7,686.3 609.3,686.1 621.9,685.6 634.5,686.8 647.1,686.2 659.7,686.4 672.3,685.3 684.9,686.8 697.5,686.2 710.1,686.6 722.7,685.4 735.3,686.5 747.9,686.4 760.5,686.5 773.1,685.6 785.6,686.1 798.2,686.6 810.8,686.4 823.4,686.0 836.0,685.7 848.6,686.8 861.2,686.2 873.8,686.3 886.4,685.4 899.0,686.8 911.6,686.2 924.2,686.5 936.8,685.3 949.4,686.6 962.0,686.3 974.6,686.6 987.2,685.5 999.8,686.3 1012.4,686.5 1025.0,686.4 1037.6,685.8 1050.2,685.8 1062.8,686.7 1075.4,686.3 1088.0,686.2 1100.5,685.5 1113.1,686.9 1125.7,686.4 1138.3,686.8 1150.9,685.8 1163.5,687.3 1176.1,686.9 1188.7,687.4 1201.3,686.4 1213.9,687.5 1226.5,687.6 1239.1,687.7 1251.7,686.9 1264.3,687.2 1276.9,687.9 1289.5,687.5 1302.1,687.3 1314.7,686.8 1327.3,688.0 1339.9,687.4 1352.5,687.6 1365.1,686.5 1377.7,688.0 1390.3,687.4 1402.9,687.8 1415.4,686.5 1428.0,687.8 1440.6,687.5 1453.2,687.7 1465.8,686.8 1478.4,687.4 1491.0,687.8 1503.6,680.6 1516.2,647.7 1528.8,575.5 1541.4,528.7 1554.0,638.3 1566.6,532.8 1579.2,558.3 1591.8,591.6 1604.4,597.9 1617.0,639.0 1629.6,687.5" fill="none" stroke-width="3" stroke-linejoin="round" stroke-linecap="round"/>
<path d="M152.0,681.5a3.8,3.8 0 1,0 7.6,0a3.8,3.8 0 1,0 -7.6,0zM164.6,682.2a3.8,3.8 0 1,0 7.6,0a3.8,3.8 0 1,0 -7.6,0zM177.2,683.7a3.8,3.8 0 1,0 7.6,0a3.8,3.8 0 1,0 -7.6,0zM189.8,683.2a3.8,3.8 0 1,0 7.6,0a3.8,3.8 0 1,0 -7.6,0zM202.4,684.6a3.8,3.8 0 1,0 7.6,0a3.8,3.8 0 1,0 -7.6,0zM215.0,684.7a3.8,3.8 0 1,0 7.6,0a3.8,3.8 0 1,0 -7.6,0zM227.6,685.2a3.8,3.8 0 1,0 7.6,0a3.8,3.8 0 1,0 -7.6,0zM240.2,684.1a3.8,3.8 0 1,0 7.6,0a3.8,3.8 0 1,0 -7.6,0zM252.8,685.5a3.8,3.8 0 1,0 7.6,0a3.8,3.8 0 1,0 -7.6,0zM265.4,685.4a3.8,3.8 0 1,0 7.6,0a3.8,3.8 0 1,0 -7.6,0zM278.0,685.8a3.8,3.8 0 1,0 7.6,0a3.8,3.8 0 1,0 -7.6,0zM290.6,684.8a3.8,3.8 0 1,0 7.6,0a3.8,3.8 0 1,0 -7.6,0zM303.2,685.5a3.8,3.8 0 1,0 7.6,0a3.8,3.8 0 1,0 -7.6,0zM315.8,685.8a3.8,3.8 0 1,0 7.6,0a3.8,3.8 0 1,0 -7.6,0zM328.4,685.8a3.8,3.8 0 1,0 7.6,0a3.8,3.8 0 1,0 -7.6,0zM341.0,685.3a3.8,3.8 0 1,0 7.6,0a3.8,3.8 0 1,0 -7.6,0zM353.6,685.2a3.8,3.8 0 1,0 7.6,0a3.8,3.8 0 1,0 -7.6,0zM366.2,686.2a3.8,3.8 0 1,0 7.6,0a3.8,3.8 0 1,0 -7.6,0zM378.8,685.8a3.8,3.8 0 1,0 7.6,0a3.8,3.8 0 1,0 -7.6,0zM391.4,685.8a3.8,3.8 0 1,0 7.6,0a3.8,3.8 0 1,0 -7.6,0zM404.0,685.1a3.8,3.8 0 1,0 7.6,0a3.8,3.8 0 1,0 -7.6,0zM416.6,686.5a3.8,3.8 0 1,0 7.6,0a3.8,3.8 0 1,0 -7.6,0zM429.2,685.9a3.8,3.8 0 1,0 7.6,0a3.8,3.8 0 1,0 -7.6,0zM441.8,686.2a3.8,3.8 0 1,0 7.6,0a3.8,3.8 0 1,0 -7.6,0zM454.4,685.1a3.8,3.8 0 1,0 7.6,0a3.8,3.8 0 1,0 -7.6,0zM466.9,686.5a3.8,3.8 0 1,0 7.6,0a3.8,3.8 0 1,0 -7.6,0zM479.5,686.1a3.8,3.8 0 1,0 7.6,0a3.8,3.8 0 1,0 -7.6,0zM492.1,686.5a3.8,3.8 0 1,0 7.6,0a3.8,3.8 0 1,0 -7.6,0zM504.7,685.3a3.8,3.8 0 1,0 7.6,0a3.8,3.8 0 1,0 -7.6,0zM517.3,686.3a3.8,3.8 0 1,0 7.6,0a3.8,3.8 0 1,0 -7.6,0zM529.9,686.4a3.8,3.8 0 1,0 7.6,0a3.8,3.8 0 1,0 -7.6,0zM542.5,686.5a3.8,3.8 0 1,0 7.6,0a3.8,3.8 0 1,0 -7.6,0zM555.1,685.7a3.8,3.8 0 1,0 7.6,0a3.8,3.8 0 1,0 -7.6,0zM567.7,686.0a3.8,3.8 0 1,0 7.6,0a3.8,3.8 0 1,0 -7.6,0zM580.3,686.7a3.8,3.8 0 1,0 7.6,0a3.8,3.8 0 1,0 -7.6,0zM592.9,686.3a3.8,3.8 0 1,0 7.6,0a3.8,3.8 0 1,0 -7.6,0zM605.5,686.1a3.8,3.8 0 1,0 7.6,0a3.8,3.8 0 1,0 -7.6,0zM618.1,685.6a3.8,3.8 0 1,0 7.6,0a3.8,3.8 0 1,0 -7.6,0zM630.7,686.8a3.8,3.8 0 1,0 7.6,0a3.8,3.8 0 1,0 -7.6,0zM643.3,686.2a3.8,3.8 0 1,0 7.6,0a3.8,3.8 0 1,0 -7.6,0zM655.9,686.4a3.8,3.8 0 1,0 7.6,0a3.8,3.8 0 1,0 -7.6,0zM668.5,685.3a3.8,3.8 0 1,0 7.6,0a3.8,3.8 0 1,0 -7.6,0zM681.1,686.8a3.8,3.8 0 1,0 7.6,0a3.8,3.8 0 1,0 -7.6,0zM693.7,686.2a3.8,3.8 0 1,0 7.6,0a3.8,3.8 0 1,0 -7.6,0zM706.3,686.6a3.8,3.8 0 1,0 7.6,0a3.8,3.8 0 1,0 -7.6,0zM718.9,685.4a3.8,3.8 0 1,0 7.6,0a3.8,3.8 0 1,0 -7.6,0zM731.5,686.5a3.8,3.8 0 1,0 7.6,0a3.8,3.8 0 1,0 -7.6,0zM744.1,686.4a3.8,3.8 0 1,0 7.6,0a3.8,3.8 0 1,0 -7.6,0zM756.7,686.5a3.8,3.8 0 1,0 7.6,0a3.8,3.8 0 1,0 -7.6,0zM769.3,685.6a3.8,3.8 0 1,0 7.6,0a3.8,3.8 0 1,0 -7.6,0zM781.9,686.1a3.8,3.8 0 1,0 7.6,0a3.8,3.8 0 1,0 -7.6,0zM794.4,686.6a3.8,3.8 0 1,0 7.6,0a3.8,3.8 0 1,0 -7.6,0zM807.0,686.4a3.8,3.8 0 1,0 7.6,0a3.8,3.8 0 1,0 -7.6,0zM819.6,686.0a3.8,3.8 0 1,0 7.6,0a3.8,3.8 0 1,0 -7.6,0zM832.2,685.7a3.8,3.8 0 1,0 7.6,0a3.8,3.8 0 1,0 -7.6,0zM844.8,686.8a3.8,3.8 0 1,0 7.6,0a3.8,3.8 0 1,0 -7.6,0zM857.4,686.2a3.8,3.8 0 1,0 7.6,0a3.8,3.8 0 1,0 -7.6,0zM870.0,686.3a3.8,3.8 0 1,0 7.6,0a3.8,3.8 0 1,0 -7.6,0zM882.6,685.4a3.8,3.8 0 1,0 7.6,0a3.8,3.8 0 1,0 -7.6,0zM895.2,686.8a3.8,3.8 0 1,0 7.6,0a3.8,3.8 0 1,0 -7.6,0zM907.8,686.2a3.8,3.8 0 1,0 7.6,0a3.8,3.8 0 1,0 -7.6,0zM920.4,686.5a3.8,3.8 0 1,0 7.6,0a3.8,3.8 0 1,0 -7.6,0zM933.0,685.3a3.8,3.8 0 1,0 7.6,0a3.8,3.8 0 1,0 -7.6,0zM945.6,686.6a3.8,3.8 0 1,0 7.6,0a3.8,3.8 0 1,0 -7.6,0zM958.2,686.3a3.8,3.8 0 1,0 7.6,0a3.8,3.8 0 1,0 -7.6,0zM970.8,686.6a3.8,3.8 0 1,0 7.6,0a3.8,3.8 0 1,0 -7.6,0zM983.4,685.5a3.8,3.8 0 1,0 7.6,0a3.8,3.8 0 1,0 -7.6,0zM996.0,686.3a3.8,3.8 0 1,0 7.6,0a3.8,3.8 0 1,0 -7.6,0zM1008.6,686.5a3.8,3.8 0 1,0 7.6,0a3.8,3.8 0 1,0 -7.6,0zM1021.2,686.4a3.8,3.8 0 1,0 7.6,0a3.8,3.8 0 1,0 -7.6,0zM1033.8,685.8a3.8,3.8 0 1,0 7.6,0a3.8,3.8 0 1,0 -7.6,0zM1046.4,685.8a3.8,3.8 0 1,0 7.6,0a3.8,3.8 0 1,0 -7.6,0zM1059.0,686.7a3.8,3.8 0 1,0 7.6,0a3.8,3.8 0 1,0 -7.6,0zM1071.6,686.3a3.8,3.8 0 1,0 7.6,0a3.8,3.8 0 1,0 -7.6,0zM1084.2,686.2a3.8,3.8 0 1,0 7.6,0a3.8,3.8 0 1,0 -7.6,0zM1096.8,685.5a3.8,3.8 0 1,0 7.6,0a3.8,3.8 0 1,0 -7.6,0zM1109.3,686.9a3.8,3.8 0 1,0 7.6,0a3.8,3.8 0 1,0 -7.6,0zM1121.9,686.4a3.8,3.8 0 1,0 7.6,0a3.8,3.8 0 1,0 -7.6,0zM1134.5,686.8a3.8,3.8 0 1,0 7.6,0a3.8,3.8 0 1,0 -7.6,0zM1147.1,685.8a3.8,3.8 0 1,0 7.6,0a3.8,3.8 0 1,0 -7.6,0zM1159.7,687.3a3.8,3.8 0 1,0 7.6,0a3.8,3.8 0 1,0 -7.6,0zM1172.3,686.9a3.8,3.8 0 1,0 7.6,0a3.8,3.8 0 1,0 -7.6,0zM1184.9,687.4a3.8,3.8 0 1,0 7.6,0a3.8,3.8 0 1,0 -7.6,0zM1197.5,686.4a3.8,3.8 0 1,0 7.6,0a3.8,3.8 0 1,0 -7.6,0zM1210.1,687.5a3.8,3.8 0 1,0 7.6,0a3.8,3.8 0 1,0 -7.6,0zM1222.7,687.6a3.8,3.8 0 1,0 7.6,0a3.8,3.8 0 1,0 -7.6,0zM1235.3,687.7a3.8,3.8 0 1,0 7.6,0a3.8,3.8 0 1,0 -7.6,0zM1247.9,686.9a3.8,3.8 0 1,0 7.6,0a3.8,3.8 0 1,0 -7.6,0zM1260.5,687.2a3.8,3.8 0 1,0 7.6,0a3.8,3.8 0 1,0 -7.6,0zM1273.1,687.9a3.8,3.8 0 1,0 7.6,0a3.8,3.8 0 1,0 -7.6,0zM1285.7,687.5a3.8,3.8 0 1,0 7.6,0a3.8,3.8 0 1,0 -7.6,0zM1298.3,687.3a3.8,3.8 0 1,0 7.6,0a3.8,3.8 0 1,0 -7.6,0zM1310.9,686.8a3.8,3.8 0 1,0 7.6,0a3.8,3.8 0 1,0 -7.6,0zM1323.5,688.0a3.8,3.8 0 1,0 7.6,0a3.8,3.8 0 1,0 -7.6,0zM1336.1,687.4a3.8,3.8 0 1,0 7.6,0a3.8,3.8 0 1,0 -7.6,0zM1348.7,687.6a3.8,3.8 0 1,0 7.6,0a3.8,3.8 0 1,0 -7.6,0zM1361.3,686.5a3.8,3.8 0 1,0 7.6,0a3.8,3.8 0 1,0 -7.6,0zM1373.9,688.0a3.8,3.8 0 1,0 7.6,0a3.8,3.8 0 1,0 -7.6,0zM1386.5,687.4a3.8,3.8 0 1,0 7.6,0a3.8,3.8 0 1,0 -7.6,0zM1399.1,687.8a3.8,3.8 0 1,0 7.6,0a3.8,3.8 0 1,0 -7.6,0zM1411.6,686.5a3.8,3.8 0 1,0 7.6,0a3.8,3.8 0 1,0 -7.6,0zM1424.2,687.8a3.8,3.8 0 1,0 7.6,0a3.8,3.8 0 1,0 -7.6,0zM1436.8,687.5a3.8,3.8 0 1,0 7.6,0a3.8,3.8 0 1,0 -7.6,0zM1449.4,687.7a3.8,3.8 0 1,0 7.6,0a3.8,3.8 0 1,0 -7.6,0zM1462.0,686.8a3.8,3.8 0 1,0 7.6,0a3.8,3.8 0 1,0 -7.6,0zM1474.6,687.4a3.8,3.8 0 1,0 7.6,0a3.8,3.8 0 1,0 -7.6,0zM1487.2,687.8a3.8,3.8 0 1,0 7.6,0a3.8,3.8 0 1,0 -7.6,0zM1499.8,680.6a3.8,3.8 0 1,0 7.6,0a3.8,3.8 0 1,0 -7.6,0zM1512.4,647.7a3.8,3.8 0 1,0 7.6,0a3.8,3.8 0 1,0 -7.6,0zM1525.0,575.5a3.8,3.8 0 1,0 7.6,0a3.8,3.8 0 1,0 -7.6,0zM1537.6,528.7a3.8,3.8 0 1,0 7.6,0a3.8,3.8 0 1,0 -7.6,0zM1550.2,638.3a3.8,3.8 0 1,0 7.6,0a3.8,3.8 0 1,0 -7.6,0zM1562.8,532.8a3.8,3.8 0 1,0 7.6,0a3.8,3.8 0 1,0 -7.6,0zM1575.4,558.3a3.8,3.8 0 1,0 7.6,0a3.8,3.8 0 1,0 -7.6,0zM1588.0,591.6a3.8,3.8 0 1,0 7.6,0a3.8,3.8 0 1,0 -7.6,0zM1600.6,597.9a3.8,3.8 0 1,0 7.6,0a3.8,3.8 0 1,0 -7.6,0zM1613.2,639.0a3.8,3.8 0 1,0 7.6,0a3.8,3.8 0 1,0 -7.6,0zM1625.8,687.5a3.8,3.8 0 1,0 7.6,0a3.8,3.8 0 1,0 -7.6,0z" stroke="none"/>
</g>
<g fill="#7d0045" stroke="#7d0045">
<polyline points="155.8,685.2 168.4,685.9 181.0,687.7 193.6,686.7 206.2,687.7 218.8,688.0 231.4,688.4 244.0,687.1 256.6,688.4 269.2,688.1 281.8,688.4 294.4,687.3 307.0,688.0 319.6,688.3 332.2,688.2 344.8,687.6 357.4,687.6 370.0,688.5 382.6,688.0 395.2,688.0 407.8,687.2 420.4,688.6 433.0,687.9 445.6,688.3 458.2,687.1 470.8,688.4 483.3,688.0 495.9,688.3 508.5,687.2 521.1,688.1 533.7,688.2 546.3,688.2 558.9,687.5 571.5,687.7 584.1,688.4 596.7,688.0 609.3,687.8 621.9,687.3 634.5,688.5 647.1,687.9 659.7,688.1 672.3,687.0 684.9,688.5 697.5,687.9 710.1,688.3 722.7,687.0 735.3,688.2 747.9,688.0 760.5,688.2 773.1,687.3 785.6,687.8 798.2,688.3 810.8,688.0 823.4,687.6 836.0,687.4 848.6,688.4 861.2,687.9 873.8,688.0 886.4,687.0 899.0,688.5 911.6,687.8 924.2,688.2 936.8,687.0 949.4,688.3 962.0,687.9 974.6,688.2 987.2,687.1 999.8,687.9 1012.4,688.1 1025.0,688.1 1037.6,687.5 1050.2,687.5 1062.8,688.3 1075.4,687.9 1088.0,687.8 1100.5,687.1 1113.1,688.6 1125.7,688.2 1138.3,688.7 1150.9,687.7 1163.5,689.3 1176.1,689.0 1188.7,689.6 1201.3,688.4 1213.9,689.5 1226.5,689.5 1239.1,689.6 1251.7,688.8 1264.3,689.1 1276.9,689.8 1289.5,689.5 1302.1,689.2 1314.7,688.8 1327.3,690.0 1339.9,689.4 1352.5,689.6 1365.1,688.6 1377.7,690.0 1390.3,689.5 1402.9,689.8 1415.4,688.6 1428.0,689.5 1440.6,688.8 1453.2,689.0 1465.8,688.1 1478.4,688.7 1491.0,689.1 1503.6,688.9 1516.2,688.4 1528.8,688.2 1541.4,688.7 1554.0,682.6 1566.6,672.8 1579.2,641.0 1591.8,651.4 1604.4,648.9 1617.0,624.6 1629.6,685.6" fill="none" stroke-width="3" stroke-linejoin="round" stroke-linecap="round"/>
<path d="M152.0,685.2a3.8,3.8 0 1,0 7.6,0a3.8,3.8 0 1,0 -7.6,0zM164.6,685.9a3.8,3.8 0 1,0 7.6,0a3.8,3.8 0 1,0 -7.6,0zM177.2,687.7a3.8,3.8 0 1,0 7.6,0a3.8,3.8 0 1,0 -7.6,0zM189.8,686.7a3.8,3.8 0 1,0 7.6,0a3.8,3.8 0 1,0 -7.6,0zM202.4,687.7a3.8,3.8 0 1,0 7.6,0a3.8,3.8 0 1,0 -7.6,0zM215.0,688.0a3.8,3.8 0 1,0 7.6,0a3.8,3.8 0 1,0 -7.6,0zM227.6,688.4a3.8,3.8 0 1,0 7.6,0a3.8,3.8 0 1,0 -7.6,0zM240.2,687.1a3.8,3.8 0 1,0 7.6,0a3.8,3.8 0 1,0 -7.6,0zM252.8,688.4a3.8,3.8 0 1,0 7.6,0a3.8,3.8 0 1,0 -7.6,0zM265.4,688.1a3.8,3.8 0 1,0 7.6,0a3.8,3.8 0 1,0 -7.6,0zM278.0,688.4a3.8,3.8 0 1,0 7.6,0a3.8,3.8 0 1,0 -7.6,0zM290.6,687.3a3.8,3.8 0 1,0 7.6,0a3.8,3.8 0 1,0 -7.6,0zM303.2,688.0a3.8,3.8 0 1,0 7.6,0a3.8,3.8 0 1,0 -7.6,0zM315.8,688.3a3.8,3.8 0 1,0 7.6,0a3.8,3.8 0 1,0 -7.6,0zM328.4,688.2a3.8,3.8 0 1,0 7.6,0a3.8,3.8 0 1,0 -7.6,0zM341.0,687.6a3.8,3.8 0 1,0 7.6,0a3.8,3.8 0 1,0 -7.6,0zM353.6,687.6a3.8,3.8 0 1,0 7.6,0a3.8,3.8 0 1,0 -7.6,0zM366.2,688.5a3.8,3.8 0 1,0 7.6,0a3.8,3.8 0 1,0 -7.6,0zM378.8,688.0a3.8,3.8 0 1,0 7.6,0a3.8,3.8 0 1,0 -7.6,0zM391.4,688.0a3.8,3.8 0 1,0 7.6,0a3.8,3.8 0 1,0 -7.6,0zM404.0,687.2a3.8,3.8 0 1,0 7.6,0a3.8,3.8 0 1,0 -7.6,0zM416.6,688.6a3.8,3.8 0 1,0 7.6,0a3.8,3.8 0 1,0 -7.6,0zM429.2,687.9a3.8,3.8 0 1,0 7.6,0a3.8,3.8 0 1,0 -7.6,0zM441.8,688.3a3.8,3.8 0 1,0 7.6,0a3.8,3.8 0 1,0 -7.6,0zM454.4,687.1a3.8,3.8 0 1,0 7.6,0a3.8,3.8 0 1,0 -7.6,0zM466.9,688.4a3.8,3.8 0 1,0 7.6,0a3.8,3.8 0 1,0 -7.6,0zM479.5,688.0a3.8,3.8 0 1,0 7.6,0a3.8,3.8 0 1,0 -7.6,0zM492.1,688.3a3.8,3.8 0 1,0 7.6,0a3.8,3.8 0 1,0 -7.6,0zM504.7,687.2a3.8,3.8 0 1,0 7.6,0a3.8,3.8 0 1,0 -7.6,0zM517.3,688.1a3.8,3.8 0 1,0 7.6,0a3.8,3.8 0 1,0 -7.6,0zM529.9,688.2a3.8,3.8 0 1,0 7.6,0a3.8,3.8 0 1,0 -7.6,0zM542.5,688.2a3.8,3.8 0 1,0 7.6,0a3.8,3.8 0 1,0 -7.6,0zM555.1,687.5a3.8,3.8 0 1,0 7.6,0a3.8,3.8 0 1,0 -7.6,0zM567.7,687.7a3.8,3.8 0 1,0 7.6,0a3.8,3.8 0 1,0 -7.6,0zM580.3,688.4a3.8,3.8 0 1,0 7.6,0a3.8,3.8 0 1,0 -7.6,0zM592.9,688.0a3.8,3.8 0 1,0 7.6,0a3.8,3.8 0 1,0 -7.6,0zM605.5,687.8a3.8,3.8 0 1,0 7.6,0a3.8,3.8 0 1,0 -7.6,0zM618.1,687.3a3.8,3.8 0 1,0 7.6,0a3.8,3.8 0 1,0 -7.6,0zM630.7,688.5a3.8,3.8 0 1,0 7.6,0a3.8,3.8 0 1,0 -7.6,0zM643.3,687.9a3.8,3.8 0 1,0 7.6,0a3.8,3.8 0 1,0 -7.6,0zM655.9,688.1a3.8,3.8 0 1,0 7.6,0a3.8,3.8 0 1,0 -7.6,0zM668.5,687.0a3.8,3.8 0 1,0 7.6,0a3.8,3.8 0 1,0 -7.6,0zM681.1,688.5a3.8,3.8 0 1,0 7.6,0a3.8,3.8 0 1,0 -7.6,0zM693.7,687.9a3.8,3.8 0 1,0 7.6,0a3.8,3.8 0 1,0 -7.6,0zM706.3,688.3a3.8,3.8 0 1,0 7.6,0a3.8,3.8 0 1,0 -7.6,0zM718.9,687.0a3.8,3.8 0 1,0 7.6,0a3.8,3.8 0 1,0 -7.6,0zM731.5,688.2a3.8,3.8 0 1,0 7.6,0a3.8,3.8 0 1,0 -7.6,0zM744.1,688.0a3.8,3.8 0 1,0 7.6,0a3.8,3.8 0 1,0 -7.6,0zM756.7,688.2a3.8,3.8 0 1,0 7.6,0a3.8,3.8 0 1,0 -7.6,0zM769.3,687.3a3.8,3.8 0 1,0 7.6,0a3.8,3.8 0 1,0 -7.6,0zM781.9,687.8a3.8,3.8 0 1,0 7.6,0a3.8,3.8 0 1,0 -7.6,0zM794.4,688.3a3.8,3.8 0 1,0 7.6,0a3.8,3.8 0 1,0 -7.6,0zM807.0,688.0a3.8,3.8 0 1,0 7.6,0a3.8,3.8 0 1,0 -7.6,0zM819.6,687.6a3.8,3.8 0 1,0 7.6,0a3.8,3.8 0 1,0 -7.6,0zM832.2,687.4a3.8,3.8 0 1,0 7.6,0a3.8,3.8 0 1,0 -7.6,0zM844.8,688.4a3.8,3.8 0 1,0 7.6,0a3.8,3.8 0 1,0 -7.6,0zM857.4,687.9a3.8,3.8 0 1,0 7.6,0a3.8,3.8 0 1,0 -7.6,0zM870.0,688.0a3.8,3.8 0 1,0 7.6,0a3.8,3.8 0 1,0 -7.6,0zM882.6,687.0a3.8,3.8 0 1,0 7.6,0a3.8,3.8 0 1,0 -7.6,0zM895.2,688.5a3.8,3.8 0 1,0 7.6,0a3.8,3.8 0 1,0 -7.6,0zM907.8,687.8a3.8,3.8 0 1,0 7.6,0a3.8,3.8 0 1,0 -7.6,0zM920.4,688.2a3.8,3.8 0 1,0 7.6,0a3.8,3.8 0 1,0 -7.6,0zM933.0,687.0a3.8,3.8 0 1,0 7.6,0a3.8,3.8 0 1,0 -7.6,0zM945.6,688.3a3.8,3.8 0 1,0 7.6,0a3.8,3.8 0 1,0 -7.6,0zM958.2,687.9a3.8,3.8 0 1,0 7.6,0a3.8,3.8 0 1,0 -7.6,0zM970.8,688.2a3.8,3.8 0 1,0 7.6,0a3.8,3.8 0 1,0 -7.6,0zM983.4,687.1a3.8,3.8 0 1,0 7.6,0a3.8,3.8 0 1,0 -7.6,0zM996.0,687.9a3.8,3.8 0 1,0 7.6,0a3.8,3.8 0 1,0 -7.6,0zM1008.6,688.1a3.8,3.8 0 1,0 7.6,0a3.8,3.8 0 1,0 -7.6,0zM1021.2,688.1a3.8,3.8 0 1,0 7.6,0a3.8,3.8 0 1,0 -7.6,0zM1033.8,687.5a3.8,3.8 0 1,0 7.6,0a3.8,3.8 0 1,0 -7.6,0zM1046.4,687.5a3.8,3.8 0 1,0 7.6,0a3.8,3.8 0 1,0 -7.6,0zM1059.0,688.3a3.8,3.8 0 1,0 7.6,0a3.8,3.8 0 1,0 -7.6,0zM1071.6,687.9a3.8,3.8 0 1,0 7.6,0a3.8,3.8 0 1,0 -7.6,0zM1084.2,687.8a3.8,3.8 0 1,0 7.6,0a3.8,3.8 0 1,0 -7.6,0zM1096.8,687.1a3.8,3.8 0 1,0 7.6,0a3.8,3.8 0 1,0 -7.6,0zM1109.3,688.6a3.8,3.8 0 1,0 7.6,0a3.8,3.8 0 1,0 -7.6,0zM1121.9,688.2a3.8,3.8 0 1,0 7.6,0a3.8,3.8 0 1,0 -7.6,0zM1134.5,688.7a3.8,3.8 0 1,0 7.6,0a3.8,3.8 0 1,0 -7.6,0zM1147.1,687.7a3.8,3.8 0 1,0 7.6,0a3.8,3.8 0 1,0 -7.6,0zM1159.7,689.3a3.8,3.8 0 1,0 7.6,0a3.8,3.8 0 1,0 -7.6,0zM1172.3,689.0a3.8,3.8 0 1,0 7.6,0a3.8,3.8 0 1,0 -7.6,0zM1184.9,689.6a3.8,3.8 0 1,0 7.6,0a3.8,3.8 0 1,0 -7.6,0zM1197.5,688.4a3.8,3.8 0 1,0 7.6,0a3.8,3.8 0 1,0 -7.6,0zM1210.1,689.5a3.8,3.8 0 1,0 7.6,0a3.8,3.8 0 1,0 -7.6,0zM1222.7,689.5a3.8,3.8 0 1,0 7.6,0a3.8,3.8 0 1,0 -7.6,0zM1235.3,689.6a3.8,3.8 0 1,0 7.6,0a3.8,3.8 0 1,0 -7.6,0zM1247.9,688.8a3.8,3.8 0 1,0 7.6,0a3.8,3.8 0 1,0 -7.6,0zM1260.5,689.1a3.8,3.8 0 1,0 7.6,0a3.8,3.8 0 1,0 -7.6,0zM1273.1,689.8a3.8,3.8 0 1,0 7.6,0a3.8,3.8 0 1,0 -7.6,0zM1285.7,689.5a3.8,3.8 0 1,0 7.6,0a3.8,3.8 0 1,0 -7.6,0zM1298.3,689.2a3.8,3.8 0 1,0 7.6,0a3.8,3.8 0 1,0 -7.6,0zM1310.9,688.8a3.8,3.8 0 1,0 7.6,0a3.8,3.8 0 1,0 -7.6,0zM1323.5,690.0a3.8,3.8 0 1,0 7.6,0a3.8,3.8 0 1,0 -7.6,0zM1336.1,689.4a3.8,3.8 0 1,0 7.6,0a3.8,3.8 0 1,0 -7.6,0zM1348.7,689.6a3.8,3.8 0 1,0 7.6,0a3.8,3.8 0 1,0 -7.6,0zM1361.3,688.6a3.8,3.8 0 1,0 7.6,0a3.8,3.8 0 1,0 -7.6,0zM1373.9,690.0a3.8,3.8 0 1,0 7.6,0a3.8,3.8 0 1,0 -7.6,0zM1386.5,689.5a3.8,3.8 0 1,0 7.6,0a3.8,3.8 0 1,0 -7.6,0zM1399.1,689.8a3.8,3.8 0 1,0 7.6,0a3.8,3.8 0 1,0 -7.6,0zM1411.6,688.6a3.8,3.8 0 1,0 7.6,0a3.8,3.8 0 1,0 -7.6,0zM1424.2,689.5a3.8,3.8 0 1,0 7.6,0a3.8,3.8 0 1,0 -7.6,0zM1436.8,688.8a3.8,3.8 0 1,0 7.6,0a3.8,3.8 0 1,0 -7.6,0zM1449.4,689.0a3.8,3.8 0 1,0 7.6,0a3.8,3.8 0 1,0 -7.6,0zM1462.0,688.1a3.8,3.8 0 1,0 7.6,0a3.8,3.8 0 1,0 -7.6,0zM1474.6,688.7a3.8,3.8 0 1,0 7.6,0a3.8,3.8 0 1,0 -7.6,0zM1487.2,689.1a3.8,3.8 0 1,0 7.6,0a3.8,3.8 0 1,0 -7.6,0zM1499.8,688.9a3.8,3.8 0 1,0 7.6,0a3.8,3.8 0 1,0 -7.6,0zM1512.4,688.4a3.8,3.8 0 1,0 7.6,0a3.8,3.8 0 1,0 -7.6,0zM1525.0,688.2a3.8,3.8 0 1,0 7.6,0a3.8,3.8 0 1,0 -7.6,0zM1537.6,688.7a3.8,3.8 0 1,0 7.6,0a3.8,3.8 0 1,0 -7.6,0zM1550.2,682.6a3.8,3.8 0 1,0 7.6,0a3.8,3.8 0 1,0 -7.6,0zM1562.8,672.8a3.8,3.8 0 1,0 7.6,0a3.8,3.8 0 1,0 -7.6,0zM1575.4,641.0a3.8,3.8 0 1,0 7.6,0a3.8,3.8 0 1,0 -7.6,0zM1588.0,651.4a3.8,3.8 0 1,0 7.6,0a3.8,3.8 0 1,0 -7.6,0zM1600.6,648.9a3.8,3.8 0 1,0 7.6,0a3.8,3.8 0 1,0 -7.6,0zM1613.2,624.6a3.8,3.8 0 1,0 7.6,0a3.8,3.8 0 1,0 -7.6,0zM1625.8,685.6a3.8,3.8 0 1,0 7.6,0a3.8,3.8 0 1,0 -7.6,0z" stroke="none"/>
</g>

<!-- flags -->
<!-- UK flag -->
<svg x="662.9" y="230.9" width="87.1" height="60" viewBox="0 0 87.1 60" preserveAspectRatio="none">
<rect width="87.1" height="60" fill="#eeeeee"/>
<g fill="#226699">
<polygon points="14.9,0 30.2,0 30.2,10.9"/>
<polygon points="0,9.8 0,17.1 10.3,17.1"/>
<polygon points="55.9,0 71,0 55.9,10.9"/>
<polygon points="87.1,8.9 87.1,17.1 75.7,17.1"/>
<polygon points="0,43 10.3,43 0,50.2"/>
<polygon points="14.5,60 30.2,60 30.2,49"/>
<polygon points="87.1,43 76.1,43 87.1,50.9"/>
<polygon points="55.9,49 55.9,60 71.9,60"/>
</g>
<g fill="#dd2e44">
<polygon points="0,0 0.3,0 23.8,17.1 15.4,17.1 0,5.3"/>
<polygon points="55.9,15.6 55.9,17.1 61.7,17.1 85.5,0 76.6,0"/>
<polygon points="0.9,60 9.3,60 30.2,45.3 30.2,43 24.3,43"/>
<polygon points="62.6,43 70.5,43 87.1,54.6 87.1,60 86.6,60"/>
<rect x="35" y="0" width="15.9" height="60"/>
<rect x="0" y="22.4" width="87.1" height="15.15"/>
</g>
</svg>
<!-- Hungary flag -->
<rect x="1309" y="139" width="95.9" height="21.1" fill="#ce2029"/>
<rect x="1309" y="160.1" width="95.9" height="21.3" fill="#ffffff"/>
<rect x="1309" y="181.4" width="95.9" height="20.5" fill="#00864f"/>
<!-- Moldova flag -->
<rect x="1200" y="226" width="33.05" height="55.7" fill="#0a2a87"/>
<rect x="1233.05" y="226" width="39.3" height="55.7" fill="#ffee12"/>
<rect x="1272.3" y="226" width="36.5" height="55.7" fill="#e20e1a"/>
<g transform="translate(1225,222) scale(0.07663)">
<!-- eagle body, wings -->
<g fill="#7d5514" stroke="#5e3d0c" stroke-width="6" stroke-linejoin="round">
<path d="M208,210 Q178,222 168,258 L160,300 L163,622 L200,590 L225,600 L252,545 L252,300 L300,292 L332,272 L338,205 Q345,168 370,168 Q400,172 400,212 L400,272 L430,292 L476,300 L476,545 L503,600 L528,590 L563,622 L566,300 L558,258 Q548,222 518,210 Q492,228 484,272 L430,286 L300,286 L244,272 Q234,228 208,210 Z"/>
<path d="M363,556 L283,640 L303,666 L336,650 L331,690 L363,708 L395,690 L390,650 L423,666 L443,640 Z"/>
</g>
<g stroke="#5e3d0c" stroke-width="5" fill="none">
<path d="M190,300 L190,590 M220,300 L220,590 M168,300 L250,300 M168,262 L245,275"/>
<path d="M536,300 L536,590 M506,300 L506,590 M558,300 L476,300 M558,262 L481,275"/>
</g>
<!-- legs -->
<g fill="#7d5514">
<path d="M300,545 L235,600 L255,625 L320,565 Z"/>
<path d="M426,545 L491,600 L471,625 L406,565 Z"/>
</g>
<!-- beak and cross -->
<path d="M342,182 L310,192 L342,206 Z" fill="#c8281e"/>
<path d="M298,150 L308,150 L308,140 L316,140 L316,150 L326,150 L326,158 L316,158 L316,182 L308,182 L308,158 L298,158 Z" fill="#8a7a12"/>
<!-- branch (left) and sceptre (right) -->
<path d="M140,400 L235,562" stroke="#3a2a10" stroke-width="7" fill="none"/>
<g fill="#1f7a3a">
<circle cx="146" cy="405" r="13"/><circle cx="178" cy="445" r="15"/><circle cx="200" cy="495" r="16"/><circle cx="222" cy="548" r="15"/><circle cx="160" cy="432" r="10"/><circle cx="188" cy="470" r="10"/><circle cx="212" cy="520" r="10"/>
</g>
<path d="M592,392 L602,400 L515,590 L503,582 Z" fill="#a89416"/>
<path d="M228,600 L290,540 L302,552 L246,622 Z" fill="#8a1a1a"/>
<path d="M498,600 L436,540 L424,552 L480,622 Z" fill="#a8201a"/>
<path d="M232,612 L250,594 L262,606 L246,626 Z" fill="#201008"/>
<path d="M494,612 L476,594 L464,606 L480,626 Z" fill="#201008"/>
<!-- pale feathers -->
<path d="M275,600 L330,560 L345,575 L290,635 Z" fill="#fff6a0"/>
<path d="M451,600 L396,560 L381,575 L436,635 Z" fill="#fff6a0"/>
<!-- shield -->
<path d="M250,305 L472,305 L472,415 L250,415 Z" fill="#e2202a"/>
<path d="M250,415 L472,415 L470,490 Q455,535 363,556 Q270,535 252,490 Z" fill="#1f3f9a"/>
<path d="M250,305 L472,305 L472,490 Q455,535 363,556 Q270,535 250,490 Z" fill="none" stroke="#6a4a10" stroke-width="5"/>
<!-- aurochs (yellow) -->
<path d="M296,322 Q278,385 332,402 L342,418 L347,445 L352,522 L374,522 L379,445 L384,418 L394,402 Q448,385 430,322 Q424,372 388,384 L338,384 Q302,372 296,322 Z" fill="#ffdd12"/>
<circle cx="363" cy="347" r="33" fill="#e2202a"/>
<circle cx="363" cy="347" r="33" fill="none" stroke="#c01820" stroke-width="4"/>
<circle cx="363" cy="347" r="19" fill="#ffdd12"/>
<circle cx="363" cy="347" r="9" fill="#e2202a"/>
<circle cx="290" cy="412" r="11" fill="#ffdd12"/>
<circle cx="436" cy="412" r="11" fill="#ffdd12"/>
<circle cx="298" cy="487" r="14" fill="#c8b414"/>
<circle cx="425" cy="480" r="13" fill="#c8b414"/>
<path d="M330,440 L345,470 L330,500 M396,440 L381,470 L396,500" stroke="#142a6a" stroke-width="6" fill="none"/>
</g>


<!-- circles -->
<g fill="none" stroke="#000000" stroke-width="10">
<circle cx="709.8" cy="341.2" r="32.9"/>
<circle cx="1253.9" cy="328.2" r="32.9"/>
<circle cx="1353.9" cy="244.5" r="32.9"/>
</g>

<!-- caption -->
<text transform="translate(229.60,803.6) scale(1.0164,1)" font-size="40.1" font-weight="700" fill="#02021c" stroke="#02021c" stroke-width="1.2" stroke-linejoin="round">#1:</text>
<text transform="translate(298.26,803.6) scale(0.9393,1)" font-size="40.1" font-weight="700" fill="#02021c" stroke="#02021c" stroke-width="1.2" stroke-linejoin="round">Hungary,</text>
<text transform="translate(471.40,803.6) scale(1.0036,1)" font-size="40.1" font-weight="700" fill="#02021c" stroke="#02021c" stroke-width="1.2" stroke-linejoin="round">#2:</text>
<text transform="translate(540.05,803.6) scale(0.9497,1)" font-size="40.1" font-weight="700" fill="#02021c" stroke="#02021c" stroke-width="1.2" stroke-linejoin="round">Moldova,</text>
<text transform="translate(717.90,803.6) scale(1.0164,1)" font-size="40.1" font-weight="700" fill="#02021c" stroke="#02021c" stroke-width="1.2" stroke-linejoin="round">#3:</text>
<text transform="translate(786.55,803.6) scale(0.9463,1)" font-size="40.1" font-weight="700" fill="#02021c" stroke="#02021c" stroke-width="1.2" stroke-linejoin="round">United</text>
<text transform="translate(916.38,803.6) scale(0.9233,1)" font-size="40.1" font-weight="700" fill="#02021c" stroke="#02021c" stroke-width="1.2" stroke-linejoin="round">Kingdom</text>
<text transform="translate(1090.52,803.6) scale(0.5375,1)" font-size="40.1" font-weight="700" fill="#02021c" stroke="#02021c" stroke-width="1.2" stroke-linejoin="round">|</text>
<text transform="translate(1111.10,803.6) scale(0.9049,1)" font-size="40.1" font-weight="700" fill="#02021c" stroke="#02021c" stroke-width="1.2" stroke-linejoin="round">Via</text>
<text transform="translate(1179.79,803.6) scale(0.9139,1)" font-size="40.1" font-weight="700" fill="#02021c" stroke="#02021c" stroke-width="1.2" stroke-linejoin="round">@BW_React</text>
</svg>
</body>
</html>
